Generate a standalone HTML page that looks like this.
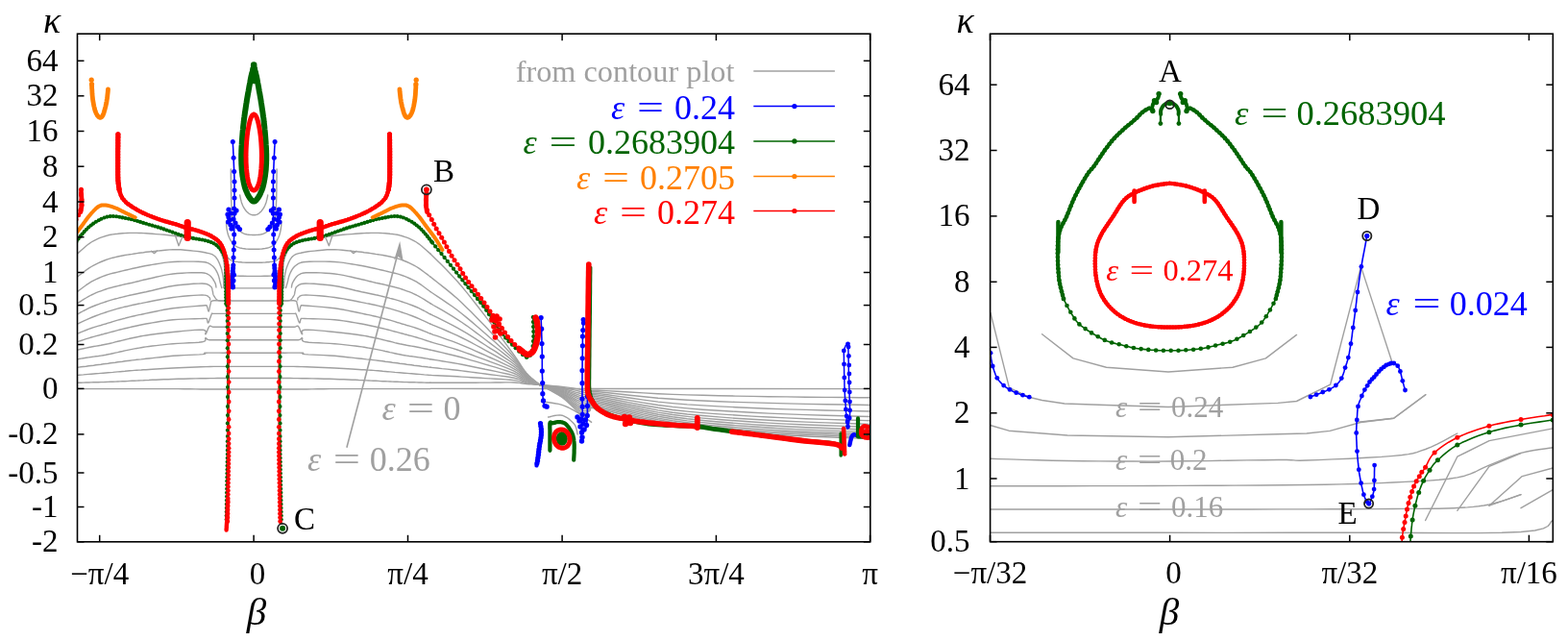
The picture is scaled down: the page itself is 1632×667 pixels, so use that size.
<!DOCTYPE html>
<html><head><meta charset="utf-8"><style>
html,body{margin:0;padding:0;background:#fff;overflow:hidden;}
svg{display:block;font-family:"Liberation Serif", "DejaVu Serif", serif;}
</style></head><body>
<svg width="1632" height="667" viewBox="0 0 1632 667">
<rect width="1632" height="667" fill="#fff"/>
<defs><clipPath id="cl"><rect x="80.5" y="35.2" width="825.3" height="528.6"/></clipPath>
<clipPath id="cr"><rect x="1030.6" y="35.2" width="585.7" height="528.5"/></clipPath></defs>
<g clip-path="url(#cl)">
<polyline points="447.9,404.6 446.3,404.6 444.2,404.6 441.6,404.6 438.8,404.6 436.0,404.6 433.4,404.6 430.9,404.6 428.4,404.6 425.9,404.6 423.4,404.6 420.9,404.6 418.4,404.6 415.9,404.6 413.4,404.6 410.9,404.6 408.4,404.6 405.9,404.6 403.4,404.6 400.9,404.6 398.4,404.6 395.9,404.6 393.4,404.6 390.9,404.6 388.4,404.6 386.0,404.6 383.8,404.6 381.5,404.6 379.1,404.6 376.5,404.6 373.4,404.6 369.9,404.6 366.1,404.6 362.1,404.6 357.8,404.6 353.2,404.6 348.4,404.6 343.1,404.6 337.2,404.7 331.0,404.8 324.9,404.9 319.2,405.0 314.2,405.0 309.8,405.0 305.7,405.0 302.1,405.0 298.9,405.0 296.2,405.0 294.2,405.0" fill="none" stroke="#a0a0a0" stroke-width="1.4" stroke-linejoin="round" stroke-linecap="round"/>
<polyline points="80.5,404.6 82.1,404.6 84.2,404.6 86.8,404.6 89.6,404.6 92.4,404.6 95.0,404.6 97.5,404.6 100.0,404.6 102.5,404.6 105.0,404.6 107.5,404.6 110.0,404.6 112.5,404.6 115.0,404.6 117.5,404.6 120.0,404.6 122.5,404.6 125.0,404.6 127.5,404.6 130.0,404.6 132.5,404.6 135.0,404.6 137.5,404.6 140.0,404.6 142.4,404.6 144.6,404.6 146.9,404.6 149.3,404.6 151.9,404.6 155.0,404.6 158.5,404.6 162.3,404.6 166.3,404.6 170.6,404.6 175.2,404.6 180.0,404.6 185.3,404.6 191.2,404.7 197.4,404.8 203.5,404.9 209.2,405.0 214.2,405.0 218.6,405.0 222.7,405.0 226.3,405.0 229.5,405.0 232.2,405.0 234.2,405.0" fill="none" stroke="#a0a0a0" stroke-width="1.4" stroke-linejoin="round" stroke-linecap="round"/>
<polyline points="447.9,398.3 446.3,398.3 444.2,398.2 441.6,398.1 438.8,398.0 436.0,398.0 433.4,397.9 430.9,397.8 428.4,397.8 425.9,397.7 423.4,397.6 420.9,397.6 418.4,397.5 415.9,397.4 413.4,397.3 410.9,397.2 408.4,397.1 405.9,397.0 403.4,396.9 400.9,396.8 398.4,396.7 395.9,396.6 393.4,396.4 390.9,396.3 388.4,396.2 386.0,396.1 383.8,396.0 381.5,395.9 379.1,395.8 376.5,395.6 373.4,395.5 369.9,395.3 366.1,395.2 362.1,395.0 357.8,394.8 353.2,394.7 348.4,394.5 343.1,394.3 337.2,394.2 331.0,394.0 324.9,393.9 319.2,393.8 314.2,393.7 309.8,393.6 305.7,393.6 302.1,393.5 298.9,393.5 296.2,393.5 294.2,393.5" fill="none" stroke="#a0a0a0" stroke-width="1.4" stroke-linejoin="round" stroke-linecap="round"/>
<polyline points="80.5,398.3 82.1,398.3 84.2,398.2 86.8,398.1 89.6,398.0 92.4,398.0 95.0,397.9 97.5,397.8 100.0,397.8 102.5,397.7 105.0,397.6 107.5,397.6 110.0,397.5 112.5,397.4 115.0,397.3 117.5,397.2 120.0,397.1 122.5,397.0 125.0,396.9 127.5,396.8 130.0,396.7 132.5,396.6 135.0,396.4 137.5,396.3 140.0,396.2 142.4,396.1 144.6,396.0 146.9,395.9 149.3,395.8 151.9,395.6 155.0,395.5 158.5,395.3 162.3,395.2 166.3,395.0 170.6,394.8 175.2,394.7 180.0,394.5 185.3,394.3 191.2,394.2 197.4,394.0 203.5,393.9 209.2,393.8 214.2,393.7 218.6,393.6 222.7,393.6 226.3,393.5 229.5,393.5 232.2,393.5 234.2,393.5" fill="none" stroke="#a0a0a0" stroke-width="1.4" stroke-linejoin="round" stroke-linecap="round"/>
<polyline points="447.9,390.4 446.3,390.3 444.2,390.1 441.6,389.9 438.8,389.6 436.0,389.4 433.4,389.2 430.9,389.0 428.4,388.8 425.9,388.6 423.4,388.4 420.9,388.2 418.4,388.0 415.9,387.8 413.4,387.6 410.9,387.4 408.4,387.1 405.9,386.9 403.4,386.7 400.9,386.5 398.4,386.3 395.9,386.0 393.4,385.8 390.9,385.6 388.4,385.4 386.0,385.2 383.8,385.1 381.5,385.0 379.1,384.8 376.5,384.7 373.4,384.5 369.9,384.3 366.1,384.0 362.1,383.8 357.8,383.5 353.2,383.3 348.4,383.0 343.1,382.7 337.2,382.5 331.0,382.2 324.9,382.0 319.2,381.8 314.2,381.6 309.8,381.5 305.7,381.4 302.1,381.4 298.9,381.4 296.2,381.4 294.2,381.4" fill="none" stroke="#a0a0a0" stroke-width="1.4" stroke-linejoin="round" stroke-linecap="round"/>
<polyline points="80.5,390.4 82.1,390.3 84.2,390.1 86.8,389.9 89.6,389.6 92.4,389.4 95.0,389.2 97.5,389.0 100.0,388.8 102.5,388.6 105.0,388.4 107.5,388.2 110.0,388.0 112.5,387.8 115.0,387.6 117.5,387.4 120.0,387.1 122.5,386.9 125.0,386.7 127.5,386.5 130.0,386.3 132.5,386.0 135.0,385.8 137.5,385.6 140.0,385.4 142.4,385.2 144.6,385.1 146.9,385.0 149.3,384.8 151.9,384.7 155.0,384.5 158.5,384.3 162.3,384.0 166.3,383.8 170.6,383.5 175.2,383.3 180.0,383.0 185.3,382.7 191.2,382.5 197.4,382.2 203.5,382.0 209.2,381.8 214.2,381.6 218.6,381.5 222.7,381.4 226.3,381.4 229.5,381.4 232.2,381.4 234.2,381.4" fill="none" stroke="#a0a0a0" stroke-width="1.4" stroke-linejoin="round" stroke-linecap="round"/>
<polyline points="447.9,382.3 446.3,382.1 444.2,381.8 441.6,381.5 438.8,381.2 436.0,380.8 433.4,380.5 430.9,380.2 428.4,379.8 425.9,379.5 423.4,379.2 420.9,378.8 418.4,378.5 415.9,378.2 413.4,377.8 410.9,377.5 408.4,377.2 405.9,376.8 403.4,376.5 400.9,376.2 398.4,375.8 395.9,375.5 393.4,375.2 390.9,374.9 388.4,374.6 386.0,374.3 383.8,374.1 381.5,373.9 379.1,373.6 376.5,373.3 373.4,373.0 369.9,372.6 366.0,372.1 361.9,371.7 357.6,371.2 353.0,370.7 348.4,370.3 343.2,370.0 337.4,369.6 331.4,369.4 325.7,369.1 320.8,368.9 317.2,368.6 315.3,368.3 314.8,368.1 315.2,367.8 315.6,367.6 315.6,367.3 314.5,367.2 311.9,367.1 308.3,367.1 304.2,367.1 300.1,367.1 296.6,367.2 294.2,367.2" fill="none" stroke="#a0a0a0" stroke-width="1.4" stroke-linejoin="round" stroke-linecap="round"/>
<polyline points="80.5,382.3 82.1,382.1 84.2,381.8 86.8,381.5 89.6,381.2 92.4,380.8 95.0,380.5 97.5,380.2 100.0,379.8 102.5,379.5 105.0,379.2 107.5,378.8 110.0,378.5 112.5,378.2 115.0,377.8 117.5,377.5 120.0,377.2 122.5,376.8 125.0,376.5 127.5,376.2 130.0,375.8 132.5,375.5 135.0,375.2 137.5,374.9 140.0,374.6 142.4,374.3 144.6,374.1 146.9,373.9 149.3,373.6 151.9,373.3 155.0,373.0 158.5,372.6 162.4,372.1 166.5,371.7 170.8,371.2 175.4,370.7 180.0,370.3 185.2,370.0 191.0,369.6 197.0,369.4 202.7,369.1 207.6,368.9 211.2,368.6 213.1,368.3 213.6,368.1 213.2,367.8 212.8,367.6 212.8,367.3 213.9,367.2 216.5,367.1 220.1,367.1 224.2,367.1 228.3,367.1 231.8,367.2 234.2,367.2" fill="none" stroke="#a0a0a0" stroke-width="1.4" stroke-linejoin="round" stroke-linecap="round"/>
<polyline points="447.9,373.7 446.3,373.5 444.2,373.1 441.6,372.7 438.8,372.3 436.0,371.9 433.4,371.5 430.9,371.1 428.4,370.8 425.9,370.5 423.4,370.1 420.9,369.7 418.4,369.3 415.9,368.8 413.4,368.3 410.9,367.7 408.4,367.1 405.9,366.6 403.4,366.0 400.9,365.5 398.4,364.9 395.9,364.4 393.4,363.9 390.9,363.4 388.4,362.9 386.0,362.5 383.8,362.1 381.5,361.7 379.1,361.3 376.5,360.9 373.4,360.5 369.9,360.0 366.0,359.6 361.9,359.1 357.5,358.6 353.0,358.1 348.4,357.7 343.3,357.4 337.6,357.1 331.7,356.8 326.2,356.6 321.4,356.2 317.8,355.8 315.7,355.2 314.7,354.4 314.5,353.5 314.6,352.7 314.8,352.1 314.5,351.7 314.0,351.7 313.7,352.0 313.3,352.4 312.8,353.0 311.9,353.4 310.5,353.7 308.3,353.8 305.4,353.8 302.1,353.8 298.9,353.8 296.1,353.7 294.2,353.7" fill="none" stroke="#a0a0a0" stroke-width="1.4" stroke-linejoin="round" stroke-linecap="round"/>
<polyline points="80.5,373.7 82.1,373.5 84.2,373.1 86.8,372.7 89.6,372.3 92.4,371.9 95.0,371.5 97.5,371.1 100.0,370.8 102.5,370.5 105.0,370.1 107.5,369.7 110.0,369.3 112.5,368.8 115.0,368.3 117.5,367.7 120.0,367.1 122.5,366.6 125.0,366.0 127.5,365.5 130.0,364.9 132.5,364.4 135.0,363.9 137.5,363.4 140.0,362.9 142.4,362.5 144.6,362.1 146.9,361.7 149.3,361.3 151.9,360.9 155.0,360.5 158.5,360.0 162.4,359.6 166.5,359.1 170.9,358.6 175.4,358.1 180.0,357.7 185.1,357.4 190.8,357.1 196.7,356.8 202.2,356.6 207.0,356.2 210.6,355.8 212.7,355.2 213.7,354.4 213.9,353.5 213.8,352.7 213.6,352.1 213.9,351.7 214.4,351.7 214.7,352.0 215.1,352.4 215.6,353.0 216.5,353.4 217.9,353.7 220.1,353.8 223.0,353.8 226.3,353.8 229.5,353.8 232.3,353.7 234.2,353.7" fill="none" stroke="#a0a0a0" stroke-width="1.4" stroke-linejoin="round" stroke-linecap="round"/>
<polyline points="447.9,364.1 446.3,363.8 444.2,363.3 441.6,362.7 438.8,362.1 436.0,361.5 433.4,361.0 430.9,360.5 428.4,360.1 425.9,359.7 423.4,359.3 420.9,358.8 418.4,358.3 415.9,357.8 413.4,357.2 410.9,356.6 408.4,355.9 405.9,355.3 403.4,354.7 400.9,354.1 398.4,353.5 395.9,352.9 393.4,352.3 390.9,351.7 388.4,351.2 386.0,350.7 383.8,350.3 381.5,349.8 379.1,349.4 376.5,349.0 373.4,348.5 369.9,348.0 366.0,347.5 361.9,347.0 357.6,346.5 353.0,346.0 348.4,345.5 343.2,345.0 337.4,344.4 331.4,343.9 325.7,343.4 320.8,343.2 317.2,343.2 315.1,343.7 314.2,344.7 314.2,345.8 314.4,346.9 314.7,347.6 314.5,347.7 313.9,347.0 313.3,345.6 312.6,343.9 311.9,342.1 311.2,340.6 310.5,339.6 309.9,339.2 309.4,339.2 308.9,339.4 308.2,339.7 307.4,340.0 306.2,340.2 304.5,340.2 302.3,340.2 299.9,340.2 297.6,340.2 295.6,340.2 294.2,340.2" fill="none" stroke="#a0a0a0" stroke-width="1.4" stroke-linejoin="round" stroke-linecap="round"/>
<polyline points="80.5,364.1 82.1,363.8 84.2,363.3 86.8,362.7 89.6,362.1 92.4,361.5 95.0,361.0 97.5,360.5 100.0,360.1 102.5,359.7 105.0,359.3 107.5,358.8 110.0,358.3 112.5,357.8 115.0,357.2 117.5,356.6 120.0,355.9 122.5,355.3 125.0,354.7 127.5,354.1 130.0,353.5 132.5,352.9 135.0,352.3 137.5,351.7 140.0,351.2 142.4,350.7 144.6,350.3 146.9,349.8 149.3,349.4 151.9,349.0 155.0,348.5 158.5,348.0 162.4,347.5 166.5,347.0 170.8,346.5 175.4,346.0 180.0,345.5 185.2,345.0 191.0,344.4 197.0,343.9 202.7,343.4 207.6,343.2 211.2,343.2 213.3,343.7 214.2,344.7 214.2,345.8 214.0,346.9 213.7,347.6 213.9,347.7 214.5,347.0 215.1,345.6 215.8,343.9 216.5,342.1 217.2,340.6 217.9,339.6 218.5,339.2 219.0,339.2 219.5,339.4 220.2,339.7 221.0,340.0 222.2,340.2 223.9,340.2 226.1,340.2 228.5,340.2 230.8,340.2 232.8,340.2 234.2,340.2" fill="none" stroke="#a0a0a0" stroke-width="1.4" stroke-linejoin="round" stroke-linecap="round"/>
<polyline points="447.9,355.7 446.3,355.2 444.2,354.5 441.6,353.6 438.8,352.7 436.0,351.8 433.4,351.0 430.9,350.3 428.4,349.6 425.9,349.0 423.4,348.3 420.9,347.7 418.4,347.0 415.9,346.3 413.4,345.6 410.9,345.0 408.4,344.3 405.9,343.6 403.4,343.0 400.9,342.4 398.4,341.8 395.9,341.2 393.4,340.6 390.9,340.0 388.4,339.5 386.0,339.0 383.8,338.5 381.5,338.0 379.1,337.5 376.5,337.0 373.4,336.5 369.9,335.9 366.0,335.2 361.9,334.5 357.6,333.9 353.0,333.3 348.4,332.8 343.2,332.4 337.5,332.1 331.5,331.9 325.8,331.7 320.9,331.6 317.2,331.5 314.9,331.4 313.8,331.4 313.3,331.4 313.3,331.5 313.4,331.7 313.2,332.0 312.8,332.6 312.6,333.6 312.4,334.6 312.3,335.5 312.0,336.0 311.7,336.0 311.2,335.2 310.6,333.7 310.0,331.8 309.3,329.9 308.7,328.2 308.2,327.0 307.9,326.4 307.8,326.2 307.7,326.1 307.6,326.2 307.1,326.4 306.2,326.4 304.6,326.4 302.5,326.4 300.1,326.4 297.7,326.4 295.6,326.4 294.2,326.4" fill="none" stroke="#a0a0a0" stroke-width="1.4" stroke-linejoin="round" stroke-linecap="round"/>
<polyline points="80.5,355.7 82.1,355.2 84.2,354.5 86.8,353.6 89.6,352.7 92.4,351.8 95.0,351.0 97.5,350.3 100.0,349.6 102.5,349.0 105.0,348.3 107.5,347.7 110.0,347.0 112.5,346.3 115.0,345.6 117.5,345.0 120.0,344.3 122.5,343.6 125.0,343.0 127.5,342.4 130.0,341.8 132.5,341.2 135.0,340.6 137.5,340.0 140.0,339.5 142.4,339.0 144.6,338.5 146.9,338.0 149.3,337.5 151.9,337.0 155.0,336.5 158.5,335.9 162.4,335.2 166.5,334.5 170.8,333.9 175.4,333.3 180.0,332.8 185.2,332.4 190.9,332.1 196.9,331.9 202.6,331.7 207.5,331.6 211.2,331.5 213.5,331.4 214.6,331.4 215.1,331.4 215.1,331.5 215.0,331.7 215.2,332.0 215.6,332.6 215.8,333.6 216.0,334.6 216.1,335.5 216.4,336.0 216.7,336.0 217.2,335.2 217.8,333.7 218.4,331.8 219.1,329.9 219.7,328.2 220.2,327.0 220.5,326.4 220.6,326.2 220.7,326.1 220.8,326.2 221.3,326.4 222.2,326.4 223.8,326.4 225.9,326.4 228.3,326.4 230.7,326.4 232.8,326.4 234.2,326.4" fill="none" stroke="#a0a0a0" stroke-width="1.4" stroke-linejoin="round" stroke-linecap="round"/>
<polyline points="447.9,347.2 446.3,346.6 444.2,345.7 441.6,344.6 438.8,343.5 436.0,342.4 433.4,341.5 430.9,340.7 428.4,339.9 425.9,339.2 423.4,338.5 420.9,337.7 418.4,337.0 415.9,336.2 413.4,335.5 410.9,334.7 408.4,333.9 405.9,333.2 403.4,332.5 400.9,331.8 398.4,331.2 395.9,330.5 393.4,329.9 390.9,329.3 388.4,328.7 386.0,328.1 383.8,327.6 381.5,327.2 379.1,326.7 376.5,326.1 373.4,325.5 369.9,324.8 366.0,324.0 361.9,323.1 357.6,322.3 353.0,321.5 348.4,320.8 343.2,320.2 337.5,319.6 331.5,319.1 325.8,318.6 320.9,318.3 317.2,318.0 314.9,317.8 313.8,317.7 313.4,317.6 313.4,317.7 313.4,317.9 313.2,318.3 312.8,319.1 312.4,320.3 312.1,321.7 311.8,322.9 311.5,323.8 311.2,324.0 310.9,323.4 310.5,322.2 310.2,320.5 309.9,318.8 309.5,317.2 309.2,316.0 309.0,315.2 308.9,314.5 308.9,314.0 308.7,313.6 308.2,313.3 307.2,313.0 305.5,312.8 303.2,312.8 300.6,312.8 298.0,312.9 295.7,313.0 294.2,313.0" fill="none" stroke="#a0a0a0" stroke-width="1.4" stroke-linejoin="round" stroke-linecap="round"/>
<polyline points="80.5,347.2 82.1,346.6 84.2,345.7 86.8,344.6 89.6,343.5 92.4,342.4 95.0,341.5 97.5,340.7 100.0,339.9 102.5,339.2 105.0,338.5 107.5,337.7 110.0,337.0 112.5,336.2 115.0,335.5 117.5,334.7 120.0,333.9 122.5,333.2 125.0,332.5 127.5,331.8 130.0,331.2 132.5,330.5 135.0,329.9 137.5,329.3 140.0,328.7 142.4,328.1 144.6,327.6 146.9,327.2 149.3,326.7 151.9,326.1 155.0,325.5 158.5,324.8 162.4,324.0 166.5,323.1 170.8,322.3 175.4,321.5 180.0,320.8 185.2,320.2 190.9,319.6 196.9,319.1 202.6,318.6 207.5,318.3 211.2,318.0 213.5,317.8 214.6,317.7 215.0,317.6 215.0,317.7 215.0,317.9 215.2,318.3 215.6,319.1 216.0,320.3 216.3,321.7 216.6,322.9 216.9,323.8 217.2,324.0 217.5,323.4 217.9,322.2 218.2,320.5 218.5,318.8 218.9,317.2 219.2,316.0 219.4,315.2 219.5,314.5 219.5,314.0 219.7,313.6 220.2,313.3 221.2,313.0 222.9,312.8 225.2,312.8 227.8,312.8 230.4,312.9 232.7,313.0 234.2,313.0" fill="none" stroke="#a0a0a0" stroke-width="1.4" stroke-linejoin="round" stroke-linecap="round"/>
<polyline points="447.9,337.1 446.3,336.4 444.2,335.3 441.6,334.1 438.8,332.9 436.0,331.6 433.4,330.5 430.9,329.5 428.4,328.5 425.9,327.6 423.4,326.7 420.9,325.8 418.4,325.0 415.9,324.2 413.4,323.4 410.9,322.6 408.4,321.9 405.9,321.2 403.4,320.5 400.9,319.9 398.4,319.2 395.9,318.7 393.4,318.1 390.9,317.5 388.4,317.0 386.0,316.5 383.8,316.0 381.5,315.6 379.1,315.1 376.5,314.6 373.4,314.0 369.9,313.3 366.0,312.5 361.8,311.7 357.5,310.9 353.0,310.2 348.4,309.5 343.4,308.9 337.9,308.3 332.2,307.8 326.8,307.4 322.0,307.1 318.2,307.0 315.6,307.1 313.8,307.4 312.7,307.8 312.0,308.2 311.5,308.7 310.9,309.2 310.3,309.7 310.0,310.2 309.8,310.7 309.8,311.3 309.8,311.7 309.7,312.0" fill="none" stroke="#a0a0a0" stroke-width="1.4" stroke-linejoin="round" stroke-linecap="round"/>
<polyline points="80.5,337.1 82.1,336.4 84.2,335.3 86.8,334.1 89.6,332.9 92.4,331.6 95.0,330.5 97.5,329.5 100.0,328.5 102.5,327.6 105.0,326.7 107.5,325.8 110.0,325.0 112.5,324.2 115.0,323.4 117.5,322.6 120.0,321.9 122.5,321.2 125.0,320.5 127.5,319.9 130.0,319.2 132.5,318.7 135.0,318.1 137.5,317.5 140.0,317.0 142.4,316.5 144.6,316.0 146.9,315.6 149.3,315.1 151.9,314.6 155.0,314.0 158.5,313.3 162.4,312.5 166.6,311.7 170.9,310.9 175.4,310.2 180.0,309.5 185.0,308.9 190.5,308.3 196.2,307.8 201.6,307.4 206.4,307.1 210.2,307.0 212.8,307.1 214.6,307.4 215.7,307.8 216.4,308.2 216.9,308.7 217.5,309.2 218.1,309.7 218.4,310.2 218.6,310.7 218.6,311.3 218.6,311.7 218.7,312.0" fill="none" stroke="#a0a0a0" stroke-width="1.4" stroke-linejoin="round" stroke-linecap="round"/>
<polyline points="447.9,326.9 446.3,326.1 444.2,324.9 441.6,323.5 438.8,322.1 436.0,320.7 433.4,319.5 430.9,318.5 428.4,317.5 425.9,316.6 423.4,315.7 420.9,314.8 418.4,314.0 415.9,313.2 413.4,312.4 410.9,311.7 408.4,311.0 405.9,310.4 403.4,309.7 400.9,309.1 398.4,308.5 395.9,307.9 393.4,307.3 390.9,306.8 388.4,306.2 386.0,305.7 383.8,305.2 381.5,304.7 379.1,304.2 376.5,303.7 373.4,303.0 369.9,302.2 366.0,301.2 361.8,300.2 357.5,299.2 353.0,298.3 348.4,297.5 343.4,296.8 337.9,296.2 332.3,295.7 326.9,295.3 322.1,295.1 318.2,295.0 315.4,295.2 313.4,295.5 311.9,296.1 310.9,296.7 310.0,297.3 309.2,298.0 308.4,298.7 308.0,299.4 307.7,300.2 307.5,300.9 307.4,301.7 307.2,302.5 307.0,303.2 306.9,304.0 306.8,304.7 306.7,305.4 306.5,306.2 306.2,307.0 305.7,307.9 305.1,308.9 304.5,309.9 303.7,310.9 302.9,311.8 301.9,312.4 300.7,312.8 299.3,313.0 297.8,313.0 296.3,313.0 295.1,313.0 294.2,313.0" fill="none" stroke="#a0a0a0" stroke-width="1.4" stroke-linejoin="round" stroke-linecap="round"/>
<polyline points="80.5,326.9 82.1,326.1 84.2,324.9 86.8,323.5 89.6,322.1 92.4,320.7 95.0,319.5 97.5,318.5 100.0,317.5 102.5,316.6 105.0,315.7 107.5,314.8 110.0,314.0 112.5,313.2 115.0,312.4 117.5,311.7 120.0,311.0 122.5,310.4 125.0,309.7 127.5,309.1 130.0,308.5 132.5,307.9 135.0,307.3 137.5,306.8 140.0,306.2 142.4,305.7 144.6,305.2 146.9,304.7 149.3,304.2 151.9,303.7 155.0,303.0 158.5,302.2 162.4,301.2 166.6,300.2 170.9,299.2 175.4,298.3 180.0,297.5 185.0,296.8 190.5,296.2 196.1,295.7 201.5,295.3 206.3,295.1 210.2,295.0 213.0,295.2 215.0,295.5 216.5,296.1 217.5,296.7 218.4,297.3 219.2,298.0 220.0,298.7 220.4,299.4 220.7,300.2 220.9,300.9 221.0,301.7 221.2,302.5 221.4,303.2 221.5,304.0 221.6,304.7 221.7,305.4 221.9,306.2 222.2,307.0 222.7,307.9 223.3,308.9 223.9,309.9 224.7,310.9 225.5,311.8 226.5,312.4 227.7,312.8 229.1,313.0 230.6,313.0 232.1,313.0 233.3,313.0 234.2,313.0" fill="none" stroke="#a0a0a0" stroke-width="1.4" stroke-linejoin="round" stroke-linecap="round"/>
<polyline points="447.9,315.7 446.3,314.7 444.2,313.3 441.6,311.7 438.8,310.0 436.0,308.4 433.4,307.0 430.9,305.8 428.4,304.7 425.9,303.7 423.4,302.8 420.9,301.9 418.4,301.0 415.9,300.2 413.4,299.5 410.9,298.8 408.4,298.2 405.9,297.6 403.4,297.0 400.9,296.4 398.4,295.8 395.9,295.3 393.4,294.7 390.9,294.2 388.4,293.6 386.0,293.0 383.8,292.5 381.5,291.9 379.1,291.3 376.5,290.7 373.4,290.0 369.8,289.2 365.9,288.3 361.7,287.4 357.3,286.4 352.8,285.6 348.4,285.0 343.8,284.5 338.9,284.2 333.9,283.9 329.1,283.7 324.8,283.7 321.2,283.7 318.5,283.8 316.4,284.0 314.7,284.3 313.4,284.7 312.2,285.3 310.9,286.0 309.6,287.0 308.4,288.2 307.3,289.6 306.4,291.0 305.6,292.3 304.9,293.5 304.4,294.6 304.0,295.7 303.8,296.7 303.6,297.6 303.5,298.4 303.4,299.0" fill="none" stroke="#a0a0a0" stroke-width="1.4" stroke-linejoin="round" stroke-linecap="round"/>
<polyline points="80.5,315.7 82.1,314.7 84.2,313.3 86.8,311.7 89.6,310.0 92.4,308.4 95.0,307.0 97.5,305.8 100.0,304.7 102.5,303.7 105.0,302.8 107.5,301.9 110.0,301.0 112.5,300.2 115.0,299.5 117.5,298.8 120.0,298.2 122.5,297.6 125.0,297.0 127.5,296.4 130.0,295.8 132.5,295.3 135.0,294.7 137.5,294.2 140.0,293.6 142.4,293.0 144.6,292.5 146.9,291.9 149.3,291.3 151.9,290.7 155.0,290.0 158.6,289.2 162.5,288.3 166.7,287.4 171.1,286.4 175.6,285.6 180.0,285.0 184.6,284.5 189.5,284.2 194.5,283.9 199.3,283.7 203.6,283.7 207.2,283.7 209.9,283.8 212.0,284.0 213.7,284.3 215.0,284.7 216.2,285.3 217.5,286.0 218.8,287.0 220.0,288.2 221.1,289.6 222.0,291.0 222.8,292.3 223.5,293.5 224.0,294.6 224.4,295.7 224.6,296.7 224.8,297.6 224.9,298.4 225.0,299.0" fill="none" stroke="#a0a0a0" stroke-width="1.4" stroke-linejoin="round" stroke-linecap="round"/>
<polyline points="447.9,303.5 446.3,302.3 444.2,300.7 441.6,298.8 438.8,296.7 436.0,294.8 433.4,293.2 430.9,291.8 428.4,290.6 425.9,289.5 423.4,288.4 420.9,287.4 418.4,286.5 415.9,285.7 413.4,284.9 410.9,284.3 408.4,283.7 405.9,283.1 403.4,282.5 400.9,281.9 398.4,281.3 395.9,280.7 393.4,280.1 390.9,279.5 388.4,279.0 386.0,278.5 383.8,278.0 381.5,277.5 379.1,277.0 376.5,276.5 373.4,276.0 369.9,275.4 366.0,274.7 361.8,274.1 357.5,273.4 353.0,272.9 348.4,272.5 343.4,272.3 338.0,272.1 332.4,272.1 327.0,272.1 322.1,272.2 318.2,272.5 315.3,272.8 313.1,273.3 311.5,273.8 310.3,274.5 309.1,275.3 307.9,276.2 306.6,277.3 305.5,278.5 304.4,279.9 303.5,281.4 302.7,282.9 301.9,284.5 301.2,286.2 300.6,288.1 300.1,290.0 299.7,291.9 299.3,293.6 298.9,295.0 298.6,296.1 298.3,297.1 298.1,297.9 297.9,298.6 297.7,299.1 297.6,299.5" fill="none" stroke="#a0a0a0" stroke-width="1.4" stroke-linejoin="round" stroke-linecap="round"/>
<polyline points="80.5,303.5 82.1,302.3 84.2,300.7 86.8,298.8 89.6,296.7 92.4,294.8 95.0,293.2 97.5,291.8 100.0,290.6 102.5,289.5 105.0,288.4 107.5,287.4 110.0,286.5 112.5,285.7 115.0,284.9 117.5,284.3 120.0,283.7 122.5,283.1 125.0,282.5 127.5,281.9 130.0,281.3 132.5,280.7 135.0,280.1 137.5,279.5 140.0,279.0 142.4,278.5 144.6,278.0 146.9,277.5 149.3,277.0 151.9,276.5 155.0,276.0 158.5,275.4 162.4,274.7 166.6,274.1 170.9,273.4 175.4,272.9 180.0,272.5 185.0,272.3 190.4,272.1 196.0,272.1 201.4,272.1 206.3,272.2 210.2,272.5 213.1,272.8 215.3,273.3 216.9,273.8 218.1,274.5 219.3,275.3 220.5,276.2 221.8,277.3 222.9,278.5 224.0,279.9 224.9,281.4 225.7,282.9 226.5,284.5 227.2,286.2 227.8,288.1 228.3,290.0 228.7,291.9 229.1,293.6 229.5,295.0 229.8,296.1 230.1,297.1 230.3,297.9 230.5,298.6 230.7,299.1 230.8,299.5" fill="none" stroke="#a0a0a0" stroke-width="1.4" stroke-linejoin="round" stroke-linecap="round"/>
<polyline points="447.9,288.0 446.3,286.8 444.2,285.1 441.6,283.2 438.8,281.1 436.0,279.2 433.4,277.5 430.9,276.1 428.4,274.8 425.9,273.6 423.4,272.5 420.9,271.5 418.4,270.5 415.9,269.6 413.4,268.9 410.9,268.2 408.4,267.6 405.9,267.0 403.4,266.5 400.9,266.0 398.4,265.5 395.9,265.1 393.4,264.7 390.9,264.4 388.4,264.0 386.0,263.6 383.8,263.3 381.5,263.0 379.1,262.7 376.5,262.3 373.4,262.0 369.7,261.6 365.4,261.1 360.9,260.7 356.4,260.2 352.1,259.9 348.4,259.7 345.3,259.6 342.7,259.7 340.4,259.8 338.1,260.0 335.8,260.2 333.2,260.5 330.3,260.8 327.1,261.1 323.9,261.4 320.7,261.8 317.8,262.2 315.2,262.7 313.0,263.2 311.0,263.6 309.3,264.1 307.7,264.7 306.3,265.5 304.9,266.5 303.6,267.8 302.5,269.4 301.4,271.2 300.5,273.1 299.7,275.1 298.9,277.0 298.2,278.9 297.6,280.9 297.2,283.0 296.7,285.1 296.4,287.1 296.1,289.0 295.9,291.0 295.7,293.0 295.7,295.0 295.6,296.8 295.6,298.4 295.6,299.5" fill="none" stroke="#a0a0a0" stroke-width="1.4" stroke-linejoin="round" stroke-linecap="round"/>
<polyline points="80.5,288.0 82.1,286.8 84.2,285.1 86.8,283.2 89.6,281.1 92.4,279.2 95.0,277.5 97.5,276.1 100.0,274.8 102.5,273.6 105.0,272.5 107.5,271.5 110.0,270.5 112.5,269.6 115.0,268.9 117.5,268.2 120.0,267.6 122.5,267.0 125.0,266.5 127.5,266.0 130.0,265.5 132.5,265.1 135.0,264.7 137.5,264.4 140.0,264.0 142.4,263.6 144.6,263.3 146.9,263.0 149.3,262.7 151.9,262.3 155.0,262.0 158.7,261.6 163.0,261.1 167.5,260.7 172.0,260.2 176.3,259.9 180.0,259.7 183.1,259.6 185.7,259.7 188.0,259.8 190.3,260.0 192.6,260.2 195.2,260.5 198.1,260.8 201.3,261.1 204.5,261.4 207.7,261.8 210.6,262.2 213.2,262.7 215.4,263.2 217.4,263.6 219.1,264.1 220.7,264.7 222.1,265.5 223.5,266.5 224.8,267.8 225.9,269.4 227.0,271.2 227.9,273.1 228.7,275.1 229.5,277.0 230.2,278.9 230.8,280.9 231.2,283.0 231.7,285.1 232.0,287.1 232.3,289.0 232.5,291.0 232.7,293.0 232.7,295.0 232.8,296.8 232.8,298.4 232.8,299.5" fill="none" stroke="#a0a0a0" stroke-width="1.4" stroke-linejoin="round" stroke-linecap="round"/>
<polyline points="447.9,264.0 446.3,262.6 444.2,260.7 441.6,258.4 438.8,256.0 436.0,253.8 433.4,252.0 430.9,250.6 428.4,249.3 425.9,248.2 423.4,247.2 420.9,246.3 418.4,245.5 415.9,244.8 413.4,244.3 410.9,243.9 408.4,243.5 405.9,243.3 403.4,243.0 400.9,242.8 398.4,242.6 395.9,242.5 393.4,242.4 390.9,242.4 388.4,242.4 386.0,242.4 383.8,242.5 381.5,242.5 379.1,242.6 376.5,242.8 373.4,243.0 369.8,243.3 365.8,243.6 361.6,243.9 357.1,244.3 352.7,244.7 348.4,245.2 344.1,245.7 339.5,246.3 335.0,247.0 330.6,247.6 326.5,248.3 322.9,249.0 319.7,249.7 316.8,250.4 314.3,251.1 312.0,251.9 309.8,252.7 307.9,253.5 306.2,254.4 304.7,255.2 303.5,256.1 302.4,257.1 301.4,258.2 300.4,259.5 299.4,261.0 298.6,262.6 297.8,264.4 297.1,266.2 296.4,268.1 295.9,270.0 295.5,271.9 295.2,273.7 295.0,275.6 294.8,277.6 294.7,279.7 294.6,282.0 294.5,284.7 294.4,287.9 294.4,291.2 294.4,294.4 294.4,297.1 294.4,299.0" fill="none" stroke="#a0a0a0" stroke-width="1.4" stroke-linejoin="round" stroke-linecap="round"/>
<polyline points="80.5,264.0 82.1,262.6 84.2,260.7 86.8,258.4 89.6,256.0 92.4,253.8 95.0,252.0 97.5,250.6 100.0,249.3 102.5,248.2 105.0,247.2 107.5,246.3 110.0,245.5 112.5,244.8 115.0,244.3 117.5,243.9 120.0,243.5 122.5,243.3 125.0,243.0 127.5,242.8 130.0,242.6 132.5,242.5 135.0,242.4 137.5,242.4 140.0,242.4 142.4,242.4 144.6,242.5 146.9,242.5 149.3,242.6 151.9,242.8 155.0,243.0 158.6,243.3 162.6,243.6 166.8,243.9 171.3,244.3 175.7,244.7 180.0,245.2 184.3,245.7 188.9,246.3 193.4,247.0 197.8,247.6 201.9,248.3 205.5,249.0 208.7,249.7 211.6,250.4 214.1,251.1 216.4,251.9 218.6,252.7 220.5,253.5 222.2,254.4 223.7,255.2 224.9,256.1 226.0,257.1 227.0,258.2 228.0,259.5 229.0,261.0 229.8,262.6 230.6,264.4 231.3,266.2 232.0,268.1 232.5,270.0 232.9,271.9 233.2,273.7 233.4,275.6 233.6,277.6 233.7,279.7 233.8,282.0 233.9,284.7 234.0,287.9 234.0,291.2 234.0,294.4 234.0,297.1 234.0,299.0" fill="none" stroke="#a0a0a0" stroke-width="1.4" stroke-linejoin="round" stroke-linecap="round"/>
<polyline points="234.2,405.0 294.2,405.0" fill="none" stroke="#a0a0a0" stroke-width="1.4" stroke-linejoin="round" stroke-linecap="round"/>
<polyline points="234.2,393.5 294.2,393.5" fill="none" stroke="#a0a0a0" stroke-width="1.4" stroke-linejoin="round" stroke-linecap="round"/>
<polyline points="234.2,381.4 294.2,381.4" fill="none" stroke="#a0a0a0" stroke-width="1.4" stroke-linejoin="round" stroke-linecap="round"/>
<polyline points="234.2,367.2 294.2,367.2" fill="none" stroke="#a0a0a0" stroke-width="1.4" stroke-linejoin="round" stroke-linecap="round"/>
<polyline points="234.2,353.7 294.2,353.7" fill="none" stroke="#a0a0a0" stroke-width="1.4" stroke-linejoin="round" stroke-linecap="round"/>
<polyline points="234.2,340.2 294.2,340.2" fill="none" stroke="#a0a0a0" stroke-width="1.4" stroke-linejoin="round" stroke-linecap="round"/>
<polyline points="234.2,326.4 294.2,326.4" fill="none" stroke="#a0a0a0" stroke-width="1.4" stroke-linejoin="round" stroke-linecap="round"/>
<polyline points="234.2,313.0 294.2,313.0" fill="none" stroke="#a0a0a0" stroke-width="1.4" stroke-linejoin="round" stroke-linecap="round"/>
<polyline points="234.2,299.9 237.5,299.9 242.0,299.9 247.3,299.9 253.1,299.9 258.9,299.9 264.2,299.9 269.5,299.9 275.3,299.9 281.1,299.9 286.4,299.9 290.9,299.9 294.2,299.9" fill="none" stroke="#a0a0a0" stroke-width="1.4" stroke-linejoin="round" stroke-linecap="round"/>
<polyline points="234.2,283.0 234.5,283.3 234.8,283.7 235.3,284.2 235.8,284.6 236.4,285.1 237.2,285.5 238.0,285.8 238.8,286.1 239.6,286.4 240.8,286.6 242.2,286.8 244.2,287.0 246.8,287.1 249.9,287.2 253.4,287.3 257.1,287.4 260.7,287.4 264.2,287.4 267.7,287.4 271.3,287.4 275.0,287.3 278.5,287.2 281.6,287.1 284.2,287.0 286.2,286.8 287.6,286.6 288.8,286.4 289.6,286.1 290.4,285.8 291.2,285.5 292.0,285.1 292.6,284.6 293.1,284.2 293.6,283.7 293.9,283.3 294.2,283.0" fill="none" stroke="#a0a0a0" stroke-width="1.4" stroke-linejoin="round" stroke-linecap="round"/>
<polyline points="234.7,262.0 234.9,262.7 235.3,263.6 235.6,264.8 236.1,266.0 236.6,267.1 237.2,268.0 237.8,268.8 238.5,269.4 239.2,270.0 240.1,270.6 241.0,271.1 242.2,271.5 243.6,271.9 245.1,272.2 246.8,272.4 248.5,272.7 250.4,272.8 252.2,273.0 254.1,273.1 256.1,273.2 258.1,273.3 260.1,273.3 262.2,273.3 264.2,273.3 266.2,273.3 268.3,273.3 270.3,273.3 272.3,273.2 274.3,273.1 276.2,273.0 278.0,272.8 279.9,272.7 281.6,272.4 283.3,272.2 284.8,271.9 286.2,271.5 287.4,271.1 288.3,270.6 289.2,270.0 289.9,269.4 290.6,268.8 291.2,268.0 291.8,267.1 292.3,266.0 292.8,264.8 293.1,263.6 293.5,262.7 293.7,262.0" fill="none" stroke="#a0a0a0" stroke-width="1.4" stroke-linejoin="round" stroke-linecap="round"/>
<polyline points="235.6,230.0 235.6,230.7 235.6,231.6 235.6,232.6 235.6,233.8 235.7,235.1 235.8,236.3 236.0,237.6 236.2,239.0 236.5,240.4 236.8,241.9 237.2,243.3 237.6,244.7 238.1,246.0 238.6,247.3 239.2,248.5 239.8,249.7 240.5,250.9 241.2,251.9 241.9,252.9 242.7,253.7 243.4,254.6 244.3,255.3 245.2,256.0 246.2,256.6 247.3,257.1 248.6,257.6 249.9,258.0 251.3,258.3 252.7,258.6 254.2,258.8 255.8,259.0 257.4,259.1 259.1,259.2 260.8,259.3 262.5,259.3 264.2,259.3 265.9,259.3 267.6,259.3 269.3,259.2 271.0,259.1 272.6,259.0 274.2,258.8 275.7,258.6 277.1,258.3 278.5,258.0 279.8,257.6 281.1,257.1 282.2,256.6 283.2,256.0 284.1,255.3 285.0,254.6 285.7,253.7 286.5,252.9 287.2,251.9 287.9,250.9 288.6,249.7 289.2,248.5 289.8,247.3 290.3,246.0 290.8,244.7 291.2,243.3 291.6,241.9 291.9,240.4 292.2,239.0 292.4,237.6 292.6,236.3 292.7,235.1 292.8,233.8 292.8,232.6 292.8,231.6 292.8,230.7 292.8,230.0" fill="none" stroke="#a0a0a0" stroke-width="1.4" stroke-linejoin="round" stroke-linecap="round"/>
<polyline points="240.3,176.0 240.3,177.4 240.3,179.2 240.3,181.4 240.3,184.0 240.4,186.9 240.4,190.0 240.5,193.7 240.5,198.0 240.6,202.6 240.7,207.1 240.9,211.4 241.0,215.0 241.1,217.9 241.3,220.4 241.4,222.5 241.6,224.4 241.8,226.2 242.2,228.0 242.7,229.8 243.3,231.5 244.0,233.1 244.8,234.5 245.5,235.8 246.2,237.0 246.8,238.0 247.5,238.7 248.1,239.4 248.7,239.9 249.4,240.5 250.2,241.0 251.1,241.6 252.0,242.1 252.9,242.6 254.0,243.1 255.1,243.5 256.2,243.8 257.4,244.1 258.7,244.2 260.1,244.4 261.5,244.4 262.8,244.5 264.2,244.5 265.6,244.5 266.9,244.4 268.3,244.4 269.7,244.2 271.0,244.1 272.2,243.8 273.3,243.5 274.4,243.1 275.4,242.6 276.4,242.1 277.3,241.6 278.2,241.0 279.0,240.5 279.7,239.9 280.3,239.4 280.9,238.7 281.6,238.0 282.2,237.0 282.9,235.8 283.6,234.5 284.4,233.1 285.1,231.5 285.7,229.8 286.2,228.0 286.6,226.2 286.8,224.4 287.0,222.5 287.1,220.4 287.3,217.9 287.4,215.0 287.5,211.4 287.7,207.1 287.8,202.6 287.9,198.0 287.9,193.7 288.0,190.0 288.0,186.9 288.1,184.0 288.1,181.4 288.1,179.2 288.1,177.4 288.1,176.0" fill="none" stroke="#a0a0a0" stroke-width="1.4" stroke-linejoin="round" stroke-linecap="round"/>
<polyline points="249.7,203.0 249.8,203.5 249.9,204.3 250.1,205.1 250.3,206.1 250.5,207.1 250.7,208.0 251.0,208.9 251.2,209.9 251.5,211.0 251.9,212.0 252.3,213.0 252.7,214.0 253.2,215.0 253.7,216.0 254.3,216.9 254.9,217.8 255.6,218.7 256.2,219.5 256.8,220.2 257.5,220.8 258.2,221.4 258.8,222.0 259.5,222.4 260.2,222.8 260.9,223.1 261.5,223.4 262.2,223.6 262.9,223.7 263.5,223.8 264.2,223.8 264.9,223.8 265.5,223.7 266.2,223.6 266.9,223.4 267.5,223.1 268.2,222.8 268.9,222.4 269.6,222.0 270.2,221.4 270.9,220.8 271.6,220.2 272.2,219.5 272.8,218.7 273.5,217.8 274.1,216.9 274.7,216.0 275.2,215.0 275.7,214.0 276.1,213.0 276.5,212.0 276.9,211.0 277.2,209.9 277.4,208.9 277.7,208.0 277.9,207.1 278.1,206.1 278.3,205.1 278.5,204.3 278.6,203.5 278.7,203.0" fill="none" stroke="#a0a0a0" stroke-width="1.4" stroke-linejoin="round" stroke-linecap="round"/>
<polyline points="447.9,404.4 906.0,404.6" fill="none" stroke="#a0a0a0" stroke-width="1.4" stroke-linejoin="round" stroke-linecap="round"/>
<polyline points="80.5,404.4 -377.6,404.6" fill="none" stroke="#a0a0a0" stroke-width="1.4" stroke-linejoin="round" stroke-linecap="round"/>
<polyline points="447.9,398.3 450.9,398.3 455.2,398.3 460.1,398.3 465.5,398.3 470.9,398.2 476.0,398.2 480.8,398.2 485.6,398.2 490.4,398.2 495.2,398.2 500.1,398.1 505.0,398.1 510.1,398.1 515.6,398.0 521.0,398.0 526.2,397.9 531.0,397.9 535.0,398.0 538.1,398.2 540.6,398.4 542.5,398.7 544.2,399.0 546.0,399.3 548.0,399.5 550.4,399.7 553.1,399.9 555.8,400.1 558.3,400.3 560.5,400.4 562.0,400.5" fill="none" stroke="#a0a0a0" stroke-width="1.4" stroke-linejoin="round" stroke-linecap="round"/>
<polyline points="80.5,398.3 77.5,398.3 73.2,398.3 68.3,398.3 62.9,398.3 57.5,398.2 52.4,398.2 47.6,398.2 42.8,398.2 38.0,398.2 33.2,398.2 28.3,398.1 23.4,398.1 18.3,398.1 12.8,398.0 7.4,398.0 2.2,397.9 -2.6,397.9 -6.6,398.0 -9.7,398.2 -12.2,398.4 -14.1,398.7 -15.8,399.0 -17.6,399.3 -19.6,399.5 -22.0,399.7 -24.7,399.9 -27.4,400.1 -29.9,400.3 -32.1,400.4 -33.6,400.5" fill="none" stroke="#a0a0a0" stroke-width="1.4" stroke-linejoin="round" stroke-linecap="round"/>
<polyline points="447.9,390.4 450.9,390.6 455.2,390.8 460.1,391.0 465.5,391.3 470.9,391.5 476.0,391.8 480.8,392.1 485.6,392.4 490.4,392.7 495.2,393.0 500.1,393.3 505.0,393.6 510.1,393.9 515.6,394.2 521.0,394.5 526.2,394.9 531.0,395.2 535.0,395.6 538.1,396.1 540.6,396.6 542.5,397.1 544.2,397.6 546.0,398.1 548.0,398.6 550.4,399.0 553.1,399.3 555.8,399.7 558.3,400.0 560.5,400.3 562.0,400.5" fill="none" stroke="#a0a0a0" stroke-width="1.4" stroke-linejoin="round" stroke-linecap="round"/>
<polyline points="80.5,390.4 77.5,390.6 73.2,390.8 68.3,391.0 62.9,391.3 57.5,391.5 52.4,391.8 47.6,392.1 42.8,392.4 38.0,392.7 33.2,393.0 28.3,393.3 23.4,393.6 18.3,393.9 12.8,394.2 7.4,394.5 2.2,394.9 -2.6,395.2 -6.6,395.6 -9.7,396.1 -12.2,396.6 -14.1,397.1 -15.8,397.6 -17.6,398.1 -19.6,398.6 -22.0,399.0 -24.7,399.3 -27.4,399.7 -29.9,400.0 -32.1,400.3 -33.6,400.5" fill="none" stroke="#a0a0a0" stroke-width="1.4" stroke-linejoin="round" stroke-linecap="round"/>
<polyline points="447.9,382.3 450.9,382.6 455.2,383.0 460.1,383.6 465.5,384.1 470.9,384.7 476.0,385.3 480.8,385.9 485.6,386.5 490.4,387.1 495.2,387.7 500.1,388.4 505.0,389.0 510.1,389.7 515.6,390.4 521.0,391.1 526.2,391.8 531.0,392.5 535.0,393.2 538.1,394.0 540.6,394.7 542.5,395.5 544.2,396.3 546.0,397.0 548.0,397.6 550.4,398.2 553.1,398.8 555.8,399.3 558.3,399.8 560.5,400.2 562.0,400.5" fill="none" stroke="#a0a0a0" stroke-width="1.4" stroke-linejoin="round" stroke-linecap="round"/>
<polyline points="80.5,382.3 77.5,382.6 73.2,383.0 68.3,383.6 62.9,384.1 57.5,384.7 52.4,385.3 47.6,385.9 42.8,386.5 38.0,387.1 33.2,387.7 28.3,388.4 23.4,389.0 18.3,389.7 12.8,390.4 7.4,391.1 2.2,391.8 -2.6,392.5 -6.6,393.2 -9.7,394.0 -12.2,394.7 -14.1,395.5 -15.8,396.3 -17.6,397.0 -19.6,397.6 -22.0,398.2 -24.7,398.8 -27.4,399.3 -29.9,399.8 -32.1,400.2 -33.6,400.5" fill="none" stroke="#a0a0a0" stroke-width="1.4" stroke-linejoin="round" stroke-linecap="round"/>
<polyline points="447.9,373.7 450.9,374.2 455.2,374.9 460.1,375.7 465.5,376.6 470.9,377.5 476.0,378.4 480.8,379.3 485.6,380.2 490.4,381.2 495.2,382.2 500.1,383.2 505.0,384.3 510.1,385.3 515.6,386.4 521.0,387.6 526.2,388.7 531.0,389.8 535.0,390.9 538.1,391.9 540.6,392.9 542.5,393.9 544.2,394.9 546.0,395.8 548.0,396.6 550.4,397.4 553.1,398.2 555.8,398.9 558.3,399.6 560.5,400.1 562.0,400.5" fill="none" stroke="#a0a0a0" stroke-width="1.4" stroke-linejoin="round" stroke-linecap="round"/>
<polyline points="80.5,373.7 77.5,374.2 73.2,374.9 68.3,375.7 62.9,376.6 57.5,377.5 52.4,378.4 47.6,379.3 42.8,380.2 38.0,381.2 33.2,382.2 28.3,383.2 23.4,384.3 18.3,385.3 12.8,386.4 7.4,387.6 2.2,388.7 -2.6,389.8 -6.6,390.9 -9.7,391.9 -12.2,392.9 -14.1,393.9 -15.8,394.9 -17.6,395.8 -19.6,396.6 -22.0,397.4 -24.7,398.2 -27.4,398.9 -29.9,399.6 -32.1,400.1 -33.6,400.5" fill="none" stroke="#a0a0a0" stroke-width="1.4" stroke-linejoin="round" stroke-linecap="round"/>
<polyline points="447.9,364.1 450.9,364.8 455.2,365.8 460.1,366.9 465.5,368.2 470.9,369.5 476.0,370.7 480.8,372.0 485.6,373.4 490.4,374.8 495.2,376.2 500.1,377.6 505.0,379.1 510.1,380.6 515.6,382.2 521.0,383.9 526.2,385.5 531.0,387.1 535.0,388.5 538.1,389.9 540.6,391.2 542.5,392.4 544.2,393.6 546.0,394.7 548.0,395.7 550.4,396.7 553.1,397.7 555.8,398.5 558.3,399.3 560.5,400.0 562.0,400.5" fill="none" stroke="#a0a0a0" stroke-width="1.4" stroke-linejoin="round" stroke-linecap="round"/>
<polyline points="80.5,364.1 77.5,364.8 73.2,365.8 68.3,366.9 62.9,368.2 57.5,369.5 52.4,370.7 47.6,372.0 42.8,373.4 38.0,374.8 33.2,376.2 28.3,377.6 23.4,379.1 18.3,380.6 12.8,382.2 7.4,383.9 2.2,385.5 -2.6,387.1 -6.6,388.5 -9.7,389.9 -12.2,391.2 -14.1,392.4 -15.8,393.6 -17.6,394.7 -19.6,395.7 -22.0,396.7 -24.7,397.7 -27.4,398.5 -29.9,399.3 -32.1,400.0 -33.6,400.5" fill="none" stroke="#a0a0a0" stroke-width="1.4" stroke-linejoin="round" stroke-linecap="round"/>
<polyline points="447.9,355.7 450.9,356.6 455.2,357.8 460.1,359.2 465.5,360.8 470.9,362.4 476.0,364.0 480.8,365.6 485.6,367.3 490.4,369.0 495.2,370.8 500.1,372.6 505.0,374.4 510.1,376.3 515.6,378.3 521.0,380.4 526.2,382.4 531.0,384.3 535.0,386.1 538.1,387.8 540.6,389.3 542.5,390.8 544.2,392.2 546.0,393.5 548.0,394.8 550.4,395.9 553.1,397.1 555.8,398.2 558.3,399.1 560.5,399.9 562.0,400.5" fill="none" stroke="#a0a0a0" stroke-width="1.4" stroke-linejoin="round" stroke-linecap="round"/>
<polyline points="80.5,355.7 77.5,356.6 73.2,357.8 68.3,359.2 62.9,360.8 57.5,362.4 52.4,364.0 47.6,365.6 42.8,367.3 38.0,369.0 33.2,370.8 28.3,372.6 23.4,374.4 18.3,376.3 12.8,378.3 7.4,380.4 2.2,382.4 -2.6,384.3 -6.6,386.1 -9.7,387.8 -12.2,389.3 -14.1,390.8 -15.8,392.2 -17.6,393.5 -19.6,394.8 -22.0,395.9 -24.7,397.1 -27.4,398.2 -29.9,399.1 -32.1,399.9 -33.6,400.5" fill="none" stroke="#a0a0a0" stroke-width="1.4" stroke-linejoin="round" stroke-linecap="round"/>
<polyline points="447.9,347.2 450.9,348.3 455.2,349.7 460.1,351.4 465.5,353.3 470.9,355.2 476.0,357.2 480.8,359.1 485.6,361.1 490.4,363.2 495.2,365.3 500.1,367.5 505.0,369.7 510.1,372.0 515.6,374.4 521.0,376.9 526.2,379.3 531.0,381.6 535.0,383.8 538.1,385.7 540.6,387.5 542.5,389.2 544.2,390.8 546.0,392.4 548.0,393.8 550.4,395.2 553.1,396.5 555.8,397.8 558.3,398.9 560.5,399.8 562.0,400.5" fill="none" stroke="#a0a0a0" stroke-width="1.4" stroke-linejoin="round" stroke-linecap="round"/>
<polyline points="80.5,347.2 77.5,348.3 73.2,349.7 68.3,351.4 62.9,353.3 57.5,355.2 52.4,357.2 47.6,359.1 42.8,361.1 38.0,363.2 33.2,365.3 28.3,367.5 23.4,369.7 18.3,372.0 12.8,374.4 7.4,376.9 2.2,379.3 -2.6,381.6 -6.6,383.8 -9.7,385.7 -12.2,387.5 -14.1,389.2 -15.8,390.8 -17.6,392.4 -19.6,393.8 -22.0,395.2 -24.7,396.5 -27.4,397.8 -29.9,398.9 -32.1,399.8 -33.6,400.5" fill="none" stroke="#a0a0a0" stroke-width="1.4" stroke-linejoin="round" stroke-linecap="round"/>
<polyline points="447.9,337.1 450.9,338.4 455.2,340.1 460.1,342.2 465.5,344.5 470.9,346.8 476.0,349.2 480.8,351.5 485.6,353.9 490.4,356.4 495.2,359.0 500.1,361.7 505.0,364.3 510.1,367.1 515.6,370.1 521.0,373.1 526.2,376.0 531.0,378.8 535.0,381.4 538.1,383.7 540.6,385.8 542.5,387.7 544.2,389.5 546.0,391.2 548.0,392.9 550.4,394.4 553.1,396.0 555.8,397.4 558.3,398.7 560.5,399.7 562.0,400.5" fill="none" stroke="#a0a0a0" stroke-width="1.4" stroke-linejoin="round" stroke-linecap="round"/>
<polyline points="80.5,337.1 77.5,338.4 73.2,340.1 68.3,342.2 62.9,344.5 57.5,346.8 52.4,349.2 47.6,351.5 42.8,353.9 38.0,356.4 33.2,359.0 28.3,361.7 23.4,364.3 18.3,367.1 12.8,370.1 7.4,373.1 2.2,376.0 -2.6,378.8 -6.6,381.4 -9.7,383.7 -12.2,385.8 -14.1,387.7 -15.8,389.5 -17.6,391.2 -19.6,392.9 -22.0,394.4 -24.7,396.0 -27.4,397.4 -29.9,398.7 -32.1,399.7 -33.6,400.5" fill="none" stroke="#a0a0a0" stroke-width="1.4" stroke-linejoin="round" stroke-linecap="round"/>
<polyline points="447.9,326.9 450.9,328.4 455.2,330.4 460.1,332.9 465.5,335.6 470.9,338.3 476.0,341.1 480.8,343.8 485.6,346.7 490.4,349.7 495.2,352.7 500.1,355.8 505.0,359.0 510.1,362.3 515.6,365.7 521.0,369.3 526.2,372.8 531.0,376.0 535.0,379.0 538.1,381.6 540.6,384.0 542.5,386.2 544.2,388.2 546.0,390.1 548.0,391.9 550.4,393.7 553.1,395.4 555.8,397.0 558.3,398.4 560.5,399.6 562.0,400.5" fill="none" stroke="#a0a0a0" stroke-width="1.4" stroke-linejoin="round" stroke-linecap="round"/>
<polyline points="80.5,326.9 77.5,328.4 73.2,330.4 68.3,332.9 62.9,335.6 57.5,338.3 52.4,341.1 47.6,343.8 42.8,346.7 38.0,349.7 33.2,352.7 28.3,355.8 23.4,359.0 18.3,362.3 12.8,365.7 7.4,369.3 2.2,372.8 -2.6,376.0 -6.6,379.0 -9.7,381.6 -12.2,384.0 -14.1,386.2 -15.8,388.2 -17.6,390.1 -19.6,391.9 -22.0,393.7 -24.7,395.4 -27.4,397.0 -29.9,398.4 -32.1,399.6 -33.6,400.5" fill="none" stroke="#a0a0a0" stroke-width="1.4" stroke-linejoin="round" stroke-linecap="round"/>
<polyline points="447.9,315.7 450.9,317.5 455.2,319.8 460.1,322.7 465.5,325.8 470.9,329.1 476.0,332.3 480.8,335.5 485.6,338.8 490.4,342.3 495.2,345.9 500.1,349.5 505.0,353.2 510.1,357.1 515.6,361.2 521.0,365.3 526.2,369.4 531.0,373.2 535.0,376.6 538.1,379.6 540.6,382.3 542.5,384.7 544.2,386.9 546.0,388.9 548.0,390.9 550.4,392.9 553.1,394.8 555.8,396.6 558.3,398.2 560.5,399.5 562.0,400.5" fill="none" stroke="#a0a0a0" stroke-width="1.4" stroke-linejoin="round" stroke-linecap="round"/>
<polyline points="80.5,315.7 77.5,317.5 73.2,319.8 68.3,322.7 62.9,325.8 57.5,329.1 52.4,332.3 47.6,335.5 42.8,338.8 38.0,342.3 33.2,345.9 28.3,349.5 23.4,353.2 18.3,357.1 12.8,361.2 7.4,365.3 2.2,369.4 -2.6,373.2 -6.6,376.6 -9.7,379.6 -12.2,382.3 -14.1,384.7 -15.8,386.9 -17.6,388.9 -19.6,390.9 -22.0,392.9 -24.7,394.8 -27.4,396.6 -29.9,398.2 -32.1,399.5 -33.6,400.5" fill="none" stroke="#a0a0a0" stroke-width="1.4" stroke-linejoin="round" stroke-linecap="round"/>
<polyline points="447.9,303.5 450.9,305.5 455.2,308.3 460.1,311.6 465.5,315.3 470.9,319.0 476.0,322.8 480.8,326.5 485.6,330.4 490.4,334.4 495.2,338.5 500.1,342.8 505.0,347.0 510.1,351.5 515.6,356.3 521.0,361.2 526.2,365.9 531.0,370.3 535.0,374.2 538.1,377.6 540.6,380.5 542.5,383.2 544.2,385.6 546.0,387.8 548.0,390.0 550.4,392.2 553.1,394.3 555.8,396.2 558.3,398.0 560.5,399.4 562.0,400.5" fill="none" stroke="#a0a0a0" stroke-width="1.4" stroke-linejoin="round" stroke-linecap="round"/>
<polyline points="80.5,303.5 77.5,305.5 73.2,308.3 68.3,311.6 62.9,315.3 57.5,319.0 52.4,322.8 47.6,326.5 42.8,330.4 38.0,334.4 33.2,338.5 28.3,342.8 23.4,347.0 18.3,351.5 12.8,356.3 7.4,361.2 2.2,365.9 -2.6,370.3 -6.6,374.2 -9.7,377.6 -12.2,380.5 -14.1,383.2 -15.8,385.6 -17.6,387.8 -19.6,390.0 -22.0,392.2 -24.7,394.3 -27.4,396.2 -29.9,398.0 -32.1,399.4 -33.6,400.5" fill="none" stroke="#a0a0a0" stroke-width="1.4" stroke-linejoin="round" stroke-linecap="round"/>
<polyline points="447.9,288.0 450.9,290.4 455.2,293.7 460.1,297.6 465.5,301.9 470.9,306.4 476.0,310.8 480.8,315.2 485.6,319.9 490.4,324.6 495.2,329.5 500.1,334.5 505.0,339.6 510.1,345.0 515.6,350.7 521.0,356.5 526.2,362.1 531.0,367.3 535.0,371.9 538.1,375.7 540.6,378.9 542.5,381.8 544.2,384.3 546.0,386.7 548.0,389.1 550.4,391.4 553.1,393.7 555.8,395.8 558.3,397.7 560.5,399.3 562.0,400.5" fill="none" stroke="#a0a0a0" stroke-width="1.4" stroke-linejoin="round" stroke-linecap="round"/>
<polyline points="80.5,288.0 77.5,290.4 73.2,293.7 68.3,297.6 62.9,301.9 57.5,306.4 52.4,310.8 47.6,315.2 42.8,319.9 38.0,324.6 33.2,329.5 28.3,334.5 23.4,339.6 18.3,345.0 12.8,350.7 7.4,356.5 2.2,362.1 -2.6,367.3 -6.6,371.9 -9.7,375.7 -12.2,378.9 -14.1,381.8 -15.8,384.3 -17.6,386.7 -19.6,389.1 -22.0,391.4 -24.7,393.7 -27.4,395.8 -29.9,397.7 -32.1,399.3 -33.6,400.5" fill="none" stroke="#a0a0a0" stroke-width="1.4" stroke-linejoin="round" stroke-linecap="round"/>
<polyline points="447.9,264.0 450.9,267.0 455.2,271.2 460.1,276.1 465.5,281.5 470.9,287.2 476.0,292.7 480.8,298.3 485.6,304.1 490.4,310.1 495.2,316.3 500.1,322.5 505.0,328.9 510.1,335.7 515.6,342.9 521.0,350.3 526.2,357.4 531.0,364.0 535.0,369.5 538.1,373.9 540.6,377.6 542.5,380.6 544.2,383.2 546.0,385.6 548.0,388.1 550.4,390.7 553.1,393.2 555.8,395.5 558.3,397.5 560.5,399.2 562.0,400.5" fill="none" stroke="#a0a0a0" stroke-width="1.4" stroke-linejoin="round" stroke-linecap="round"/>
<polyline points="80.5,264.0 77.5,267.0 73.2,271.2 68.3,276.1 62.9,281.5 57.5,287.2 52.4,292.7 47.6,298.3 42.8,304.1 38.0,310.1 33.2,316.3 28.3,322.5 23.4,328.9 18.3,335.7 12.8,342.9 7.4,350.3 2.2,357.4 -2.6,364.0 -6.6,369.5 -9.7,373.9 -12.2,377.6 -14.1,380.6 -15.8,383.2 -17.6,385.6 -19.6,388.1 -22.0,390.7 -24.7,393.2 -27.4,395.5 -29.9,397.5 -32.1,399.2 -33.6,400.5" fill="none" stroke="#a0a0a0" stroke-width="1.4" stroke-linejoin="round" stroke-linecap="round"/>
<polyline points="562.0,400.5 564.5,400.7 568.0,401.0 572.2,401.3 576.6,401.6 581.0,402.0 585.0,402.4 588.8,402.9 592.6,403.4 596.4,404.0 600.0,404.6 603.3,405.1 606.0,405.7 608.1,406.2 609.6,406.7 610.8,407.3 611.8,407.7 612.8,408.0 614.0,408.2 614.5,408.1 614.1,407.6 613.6,407.1 614.1,406.6 616.6,406.2 622.0,406.2 630.7,406.6 642.0,407.2 655.2,408.0 669.8,408.9 684.9,409.7 700.0,410.4 715.3,410.9 731.5,411.3 748.2,411.7 765.4,412.1 782.7,412.4 800.0,412.7 818.5,412.9 838.8,413.2 859.2,413.4 878.3,413.5 894.4,413.7 906.0,413.8" fill="none" stroke="#a0a0a0" stroke-width="1.4" stroke-linejoin="round" stroke-linecap="round"/>
<polyline points="-33.6,400.5 -36.1,400.7 -39.6,401.0 -43.8,401.3 -48.2,401.6 -52.6,402.0 -56.6,402.4 -60.4,402.9 -64.2,403.4 -68.0,404.0 -71.6,404.6 -74.9,405.1 -77.6,405.7 -79.7,406.2 -81.2,406.7 -82.4,407.3 -83.4,407.7 -84.4,408.0 -85.6,408.2 -86.1,408.1 -85.7,407.6 -85.2,407.1 -85.7,406.6 -88.2,406.2 -93.6,406.2 -102.3,406.6 -113.6,407.2 -126.9,408.0 -141.4,408.9 -156.5,409.7 -171.6,410.4 -186.9,410.9 -203.1,411.3 -219.9,411.7 -237.0,412.1 -254.3,412.4 -271.6,412.7 -290.1,412.9 -310.4,413.2 -330.9,413.4 -349.9,413.5 -366.0,413.7 -377.6,413.8" fill="none" stroke="#a0a0a0" stroke-width="1.4" stroke-linejoin="round" stroke-linecap="round"/>
<polyline points="562.0,400.5 564.5,400.8 568.0,401.2 572.2,401.6 576.6,402.2 581.0,402.7 585.0,403.3 588.8,404.0 592.6,404.8 596.4,405.6 600.0,406.4 603.3,407.2 606.0,407.8 608.1,408.3 609.6,408.8 610.8,409.2 611.8,409.5 612.8,409.7 614.0,409.8 614.5,409.6 614.1,409.1 613.6,408.5 614.1,407.9 616.6,407.6 622.0,407.8 630.7,408.5 642.0,409.7 655.2,411.2 669.8,412.7 684.9,414.2 700.0,415.3 715.3,416.2 731.5,417.0 748.2,417.7 765.4,418.4 782.7,418.9 800.0,419.4 818.5,419.9 838.8,420.4 859.2,420.7 878.3,421.0 894.4,421.3 906.0,421.5" fill="none" stroke="#a0a0a0" stroke-width="1.4" stroke-linejoin="round" stroke-linecap="round"/>
<polyline points="-33.6,400.5 -36.1,400.8 -39.6,401.2 -43.8,401.6 -48.2,402.2 -52.6,402.7 -56.6,403.3 -60.4,404.0 -64.2,404.8 -68.0,405.6 -71.6,406.4 -74.9,407.2 -77.6,407.8 -79.7,408.3 -81.2,408.8 -82.4,409.2 -83.4,409.5 -84.4,409.7 -85.6,409.8 -86.1,409.6 -85.7,409.1 -85.2,408.5 -85.7,407.9 -88.2,407.6 -93.6,407.8 -102.3,408.5 -113.6,409.7 -126.9,411.2 -141.4,412.7 -156.5,414.2 -171.6,415.3 -186.9,416.2 -203.1,417.0 -219.9,417.7 -237.0,418.4 -254.3,418.9 -271.6,419.4 -290.1,419.9 -310.4,420.4 -330.9,420.7 -349.9,421.0 -366.0,421.3 -377.6,421.5" fill="none" stroke="#a0a0a0" stroke-width="1.4" stroke-linejoin="round" stroke-linecap="round"/>
<polyline points="562.0,400.5 564.5,400.9 568.0,401.4 572.2,402.0 576.6,402.7 581.0,403.5 585.0,404.3 588.8,405.2 592.6,406.2 596.4,407.3 600.0,408.3 603.3,409.2 606.0,410.0 608.1,410.5 609.6,410.9 610.8,411.2 611.8,411.3 612.8,411.4 614.0,411.4 614.5,411.1 614.1,410.5 613.6,409.9 614.1,409.3 616.6,409.1 622.0,409.4 630.7,410.5 642.0,412.1 655.2,414.0 669.8,416.1 684.9,418.1 700.0,419.6 715.3,420.9 731.5,421.9 748.2,422.9 765.4,423.7 782.7,424.5 800.0,425.2 818.5,425.9 838.8,426.4 859.2,427.0 878.3,427.4 894.4,427.7 906.0,428.0" fill="none" stroke="#a0a0a0" stroke-width="1.4" stroke-linejoin="round" stroke-linecap="round"/>
<polyline points="-33.6,400.5 -36.1,400.9 -39.6,401.4 -43.8,402.0 -48.2,402.7 -52.6,403.5 -56.6,404.3 -60.4,405.2 -64.2,406.2 -68.0,407.3 -71.6,408.3 -74.9,409.2 -77.6,410.0 -79.7,410.5 -81.2,410.9 -82.4,411.2 -83.4,411.3 -84.4,411.4 -85.6,411.4 -86.1,411.1 -85.7,410.5 -85.2,409.9 -85.7,409.3 -88.2,409.1 -93.6,409.4 -102.3,410.5 -113.6,412.1 -126.9,414.0 -141.4,416.1 -156.5,418.1 -171.6,419.6 -186.9,420.9 -203.1,421.9 -219.9,422.9 -237.0,423.7 -254.3,424.5 -271.6,425.2 -290.1,425.9 -310.4,426.4 -330.9,427.0 -349.9,427.4 -366.0,427.7 -377.6,428.0" fill="none" stroke="#a0a0a0" stroke-width="1.4" stroke-linejoin="round" stroke-linecap="round"/>
<polyline points="562.0,400.5 564.5,401.0 568.0,401.6 572.2,402.4 576.6,403.3 581.0,404.2 585.0,405.2 588.8,406.3 592.6,407.6 596.4,408.9 600.0,410.2 603.3,411.3 606.0,412.1 608.1,412.6 609.6,413.0 610.8,413.1 611.8,413.1 612.8,413.1 614.0,413.0 614.5,412.7 614.1,412.0 613.6,411.3 614.1,410.7 616.6,410.5 622.0,411.0 630.7,412.3 642.0,414.3 655.2,416.6 669.8,419.1 684.9,421.5 700.0,423.4 715.3,424.9 731.5,426.2 748.2,427.3 765.4,428.3 782.7,429.3 800.0,430.1 818.5,430.9 838.8,431.6 859.2,432.2 878.3,432.8 894.4,433.2 906.0,433.5" fill="none" stroke="#a0a0a0" stroke-width="1.4" stroke-linejoin="round" stroke-linecap="round"/>
<polyline points="-33.6,400.5 -36.1,401.0 -39.6,401.6 -43.8,402.4 -48.2,403.3 -52.6,404.2 -56.6,405.2 -60.4,406.3 -64.2,407.6 -68.0,408.9 -71.6,410.2 -74.9,411.3 -77.6,412.1 -79.7,412.6 -81.2,413.0 -82.4,413.1 -83.4,413.1 -84.4,413.1 -85.6,413.0 -86.1,412.7 -85.7,412.0 -85.2,411.3 -85.7,410.7 -88.2,410.5 -93.6,411.0 -102.3,412.3 -113.6,414.3 -126.9,416.6 -141.4,419.1 -156.5,421.5 -171.6,423.4 -186.9,424.9 -203.1,426.2 -219.9,427.3 -237.0,428.3 -254.3,429.3 -271.6,430.1 -290.1,430.9 -310.4,431.6 -330.9,432.2 -349.9,432.8 -366.0,433.2 -377.6,433.5" fill="none" stroke="#a0a0a0" stroke-width="1.4" stroke-linejoin="round" stroke-linecap="round"/>
<polyline points="562.0,400.5 564.5,401.1 568.0,401.9 572.2,402.8 576.6,403.8 581.0,405.0 585.0,406.1 588.8,407.4 592.6,408.9 596.4,410.5 600.0,412.0 603.3,413.3 606.0,414.3 608.1,414.8 609.6,415.0 610.8,415.1 611.8,415.0 612.8,414.8 614.0,414.6 614.5,414.2 614.1,413.5 613.6,412.8 614.1,412.2 616.6,412.0 622.0,412.6 630.7,414.1 642.0,416.3 655.2,418.9 669.8,421.7 684.9,424.3 700.0,426.5 715.3,428.1 731.5,429.6 748.2,430.9 765.4,432.0 782.7,433.1 800.0,434.0 818.5,434.9 838.8,435.7 859.2,436.4 878.3,437.0 894.4,437.4 906.0,437.8" fill="none" stroke="#a0a0a0" stroke-width="1.4" stroke-linejoin="round" stroke-linecap="round"/>
<polyline points="-33.6,400.5 -36.1,401.1 -39.6,401.9 -43.8,402.8 -48.2,403.8 -52.6,405.0 -56.6,406.1 -60.4,407.4 -64.2,408.9 -68.0,410.5 -71.6,412.0 -74.9,413.3 -77.6,414.3 -79.7,414.8 -81.2,415.0 -82.4,415.1 -83.4,415.0 -84.4,414.8 -85.6,414.6 -86.1,414.2 -85.7,413.5 -85.2,412.8 -85.7,412.2 -88.2,412.0 -93.6,412.6 -102.3,414.1 -113.6,416.3 -126.9,418.9 -141.4,421.7 -156.5,424.3 -171.6,426.5 -186.9,428.1 -203.1,429.6 -219.9,430.9 -237.0,432.0 -254.3,433.1 -271.6,434.0 -290.1,434.9 -310.4,435.7 -330.9,436.4 -349.9,437.0 -366.0,437.4 -377.6,437.8" fill="none" stroke="#a0a0a0" stroke-width="1.4" stroke-linejoin="round" stroke-linecap="round"/>
<polyline points="562.0,400.5 564.5,401.2 568.0,402.1 572.2,403.2 576.6,404.4 581.0,405.7 585.0,407.0 588.8,408.5 592.6,410.3 596.4,412.2 600.0,413.9 603.3,415.4 606.0,416.4 608.1,417.0 609.6,417.1 610.8,417.0 611.8,416.8 612.8,416.5 614.0,416.2 614.5,415.8 614.1,415.0 613.6,414.3 614.1,413.7 616.6,413.6 622.0,414.2 630.7,415.8 642.0,418.2 655.2,421.0 669.8,424.0 684.9,426.9 700.0,429.2 715.3,431.0 731.5,432.5 748.2,433.9 765.4,435.2 782.7,436.3 800.0,437.3 818.5,438.3 838.8,439.1 859.2,439.9 878.3,440.5 894.4,441.0 906.0,441.4" fill="none" stroke="#a0a0a0" stroke-width="1.4" stroke-linejoin="round" stroke-linecap="round"/>
<polyline points="-33.6,400.5 -36.1,401.2 -39.6,402.1 -43.8,403.2 -48.2,404.4 -52.6,405.7 -56.6,407.0 -60.4,408.5 -64.2,410.3 -68.0,412.2 -71.6,413.9 -74.9,415.4 -77.6,416.4 -79.7,417.0 -81.2,417.1 -82.4,417.0 -83.4,416.8 -84.4,416.5 -85.6,416.2 -86.1,415.8 -85.7,415.0 -85.2,414.3 -85.7,413.7 -88.2,413.6 -93.6,414.2 -102.3,415.8 -113.6,418.2 -126.9,421.0 -141.4,424.0 -156.5,426.9 -171.6,429.2 -186.9,431.0 -203.1,432.5 -219.9,433.9 -237.0,435.2 -254.3,436.3 -271.6,437.3 -290.1,438.3 -310.4,439.1 -330.9,439.9 -349.9,440.5 -366.0,441.0 -377.6,441.4" fill="none" stroke="#a0a0a0" stroke-width="1.4" stroke-linejoin="round" stroke-linecap="round"/>
<polyline points="562.0,400.5 564.5,401.3 568.0,402.3 572.2,403.6 576.6,405.0 581.0,406.4 585.0,408.0 588.8,409.7 592.6,411.7 596.4,413.8 600.0,415.8 603.3,417.4 606.0,418.6 608.1,419.1 609.6,419.2 610.8,419.0 611.8,418.6 612.8,418.1 614.0,417.8 614.5,417.3 614.1,416.6 613.6,415.8 614.1,415.2 616.6,415.1 622.0,415.8 630.7,417.5 642.0,420.0 655.2,423.0 669.8,426.2 684.9,429.1 700.0,431.5 715.3,433.4 731.5,435.1 748.2,436.5 765.4,437.8 782.7,439.0 800.0,440.1 818.5,441.1 838.8,442.0 859.2,442.8 878.3,443.4 894.4,444.0 906.0,444.4" fill="none" stroke="#a0a0a0" stroke-width="1.4" stroke-linejoin="round" stroke-linecap="round"/>
<polyline points="-33.6,400.5 -36.1,401.3 -39.6,402.3 -43.8,403.6 -48.2,405.0 -52.6,406.4 -56.6,408.0 -60.4,409.7 -64.2,411.7 -68.0,413.8 -71.6,415.8 -74.9,417.4 -77.6,418.6 -79.7,419.1 -81.2,419.2 -82.4,419.0 -83.4,418.6 -84.4,418.1 -85.6,417.8 -86.1,417.3 -85.7,416.6 -85.2,415.8 -85.7,415.2 -88.2,415.1 -93.6,415.8 -102.3,417.5 -113.6,420.0 -126.9,423.0 -141.4,426.2 -156.5,429.1 -171.6,431.5 -186.9,433.4 -203.1,435.1 -219.9,436.5 -237.0,437.8 -254.3,439.0 -271.6,440.1 -290.1,441.1 -310.4,442.0 -330.9,442.8 -349.9,443.4 -366.0,444.0 -377.6,444.4" fill="none" stroke="#a0a0a0" stroke-width="1.4" stroke-linejoin="round" stroke-linecap="round"/>
<polyline points="562.0,400.5 564.5,401.4 568.0,402.5 572.2,404.0 576.6,405.5 581.0,407.2 585.0,408.9 588.8,410.8 592.6,413.1 596.4,415.4 600.0,417.6 603.3,419.5 606.0,420.7 608.1,421.3 609.6,421.3 610.8,420.9 611.8,420.4 612.8,419.8 614.0,419.4 614.5,418.9 614.1,418.1 613.6,417.3 614.1,416.7 616.6,416.7 622.0,417.4 630.7,419.2 642.0,421.8 655.2,424.9 669.8,428.2 684.9,431.3 700.0,433.8 715.3,435.8 731.5,437.5 748.2,439.0 765.4,440.4 782.7,441.6 800.0,442.7 818.5,443.8 838.8,444.7 859.2,445.5 878.3,446.2 894.4,446.8 906.0,447.2" fill="none" stroke="#a0a0a0" stroke-width="1.4" stroke-linejoin="round" stroke-linecap="round"/>
<polyline points="-33.6,400.5 -36.1,401.4 -39.6,402.5 -43.8,404.0 -48.2,405.5 -52.6,407.2 -56.6,408.9 -60.4,410.8 -64.2,413.1 -68.0,415.4 -71.6,417.6 -74.9,419.5 -77.6,420.7 -79.7,421.3 -81.2,421.3 -82.4,420.9 -83.4,420.4 -84.4,419.8 -85.6,419.4 -86.1,418.9 -85.7,418.1 -85.2,417.3 -85.7,416.7 -88.2,416.7 -93.6,417.4 -102.3,419.2 -113.6,421.8 -126.9,424.9 -141.4,428.2 -156.5,431.3 -171.6,433.8 -186.9,435.8 -203.1,437.5 -219.9,439.0 -237.0,440.4 -254.3,441.6 -271.6,442.7 -290.1,443.8 -310.4,444.7 -330.9,445.5 -349.9,446.2 -366.0,446.8 -377.6,447.2" fill="none" stroke="#a0a0a0" stroke-width="1.4" stroke-linejoin="round" stroke-linecap="round"/>
<polyline points="562.0,400.5 564.5,401.5 568.0,402.8 572.2,404.3 576.6,406.1 581.0,407.9 585.0,409.8 588.8,411.9 592.6,414.4 596.4,417.0 600.0,419.5 603.3,421.5 606.0,422.9 608.1,423.4 609.6,423.4 610.8,422.9 611.8,422.2 612.8,421.5 614.0,421.0 614.5,420.5 614.1,419.6 613.6,418.8 614.1,418.3 616.6,418.2 622.0,419.0 630.7,420.8 642.0,423.5 655.2,426.7 669.8,430.1 684.9,433.2 700.0,435.8 715.3,437.9 731.5,439.6 748.2,441.2 765.4,442.6 782.7,443.8 800.0,445.0 818.5,446.1 838.8,447.1 859.2,447.9 878.3,448.6 894.4,449.2 906.0,449.6" fill="none" stroke="#a0a0a0" stroke-width="1.4" stroke-linejoin="round" stroke-linecap="round"/>
<polyline points="-33.6,400.5 -36.1,401.5 -39.6,402.8 -43.8,404.3 -48.2,406.1 -52.6,407.9 -56.6,409.8 -60.4,411.9 -64.2,414.4 -68.0,417.0 -71.6,419.5 -74.9,421.5 -77.6,422.9 -79.7,423.4 -81.2,423.4 -82.4,422.9 -83.4,422.2 -84.4,421.5 -85.6,421.0 -86.1,420.5 -85.7,419.6 -85.2,418.8 -85.7,418.3 -88.2,418.2 -93.6,419.0 -102.3,420.8 -113.6,423.5 -126.9,426.7 -141.4,430.1 -156.5,433.2 -171.6,435.8 -186.9,437.9 -203.1,439.6 -219.9,441.2 -237.0,442.6 -254.3,443.8 -271.6,445.0 -290.1,446.1 -310.4,447.1 -330.9,447.9 -349.9,448.6 -366.0,449.2 -377.6,449.6" fill="none" stroke="#a0a0a0" stroke-width="1.4" stroke-linejoin="round" stroke-linecap="round"/>
<polyline points="562.0,400.5 564.5,401.6 568.0,403.0 572.2,404.7 576.6,406.6 581.0,408.7 585.0,410.7 588.8,413.1 592.6,415.8 596.4,418.7 600.0,421.4 603.3,423.6 606.0,425.0 608.1,425.6 609.6,425.4 610.8,424.8 611.8,424.0 612.8,423.2 614.0,422.6 614.5,422.0 614.1,421.2 613.6,420.4 614.1,419.8 616.6,419.8 622.0,420.6 630.7,422.4 642.0,425.2 655.2,428.5 669.8,431.9 684.9,435.1 700.0,437.8 715.3,439.8 731.5,441.6 748.2,443.2 765.4,444.6 782.7,445.9 800.0,447.1 818.5,448.2 838.8,449.2 859.2,450.0 878.3,450.8 894.4,451.3 906.0,451.8" fill="none" stroke="#a0a0a0" stroke-width="1.4" stroke-linejoin="round" stroke-linecap="round"/>
<polyline points="-33.6,400.5 -36.1,401.6 -39.6,403.0 -43.8,404.7 -48.2,406.6 -52.6,408.7 -56.6,410.7 -60.4,413.1 -64.2,415.8 -68.0,418.7 -71.6,421.4 -74.9,423.6 -77.6,425.0 -79.7,425.6 -81.2,425.4 -82.4,424.8 -83.4,424.0 -84.4,423.2 -85.6,422.6 -86.1,422.0 -85.7,421.2 -85.2,420.4 -85.7,419.8 -88.2,419.8 -93.6,420.6 -102.3,422.4 -113.6,425.2 -126.9,428.5 -141.4,431.9 -156.5,435.1 -171.6,437.8 -186.9,439.8 -203.1,441.6 -219.9,443.2 -237.0,444.6 -254.3,445.9 -271.6,447.1 -290.1,448.2 -310.4,449.2 -330.9,450.0 -349.9,450.8 -366.0,451.3 -377.6,451.8" fill="none" stroke="#a0a0a0" stroke-width="1.4" stroke-linejoin="round" stroke-linecap="round"/>
<polyline points="562.0,400.5 564.5,401.7 568.0,403.2 572.2,405.1 576.6,407.2 581.0,409.4 585.0,411.7 588.8,414.2 592.6,417.2 596.4,420.3 600.0,423.2 603.3,425.6 606.0,427.2 608.1,427.8 609.6,427.5 610.8,426.8 611.8,425.8 612.8,424.9 614.0,424.2 614.5,423.6 614.1,422.7 613.6,421.9 614.1,421.4 616.6,421.4 622.0,422.2 630.7,424.1 642.0,426.8 655.2,430.1 669.8,433.6 684.9,436.8 700.0,439.5 715.3,441.5 731.5,443.4 748.2,445.0 765.4,446.4 782.7,447.7 800.0,448.9 818.5,450.0 838.8,451.0 859.2,451.8 878.3,452.6 894.4,453.1 906.0,453.6" fill="none" stroke="#a0a0a0" stroke-width="1.4" stroke-linejoin="round" stroke-linecap="round"/>
<polyline points="-33.6,400.5 -36.1,401.7 -39.6,403.2 -43.8,405.1 -48.2,407.2 -52.6,409.4 -56.6,411.7 -60.4,414.2 -64.2,417.2 -68.0,420.3 -71.6,423.2 -74.9,425.6 -77.6,427.2 -79.7,427.8 -81.2,427.5 -82.4,426.8 -83.4,425.8 -84.4,424.9 -85.6,424.2 -86.1,423.6 -85.7,422.7 -85.2,421.9 -85.7,421.4 -88.2,421.4 -93.6,422.2 -102.3,424.1 -113.6,426.8 -126.9,430.1 -141.4,433.6 -156.5,436.8 -171.6,439.5 -186.9,441.5 -203.1,443.4 -219.9,445.0 -237.0,446.4 -254.3,447.7 -271.6,448.9 -290.1,450.0 -310.4,451.0 -330.9,451.8 -349.9,452.6 -366.0,453.1 -377.6,453.6" fill="none" stroke="#a0a0a0" stroke-width="1.4" stroke-linejoin="round" stroke-linecap="round"/>
<polyline points="562.0,400.5 564.5,401.8 568.0,403.5 572.2,405.5 576.6,407.8 581.0,410.2 585.0,412.6 588.8,415.3 592.6,418.6 596.4,421.9 600.0,425.1 603.3,427.7 606.0,429.3 608.1,429.9 609.6,429.6 610.8,428.7 611.8,427.6 612.8,426.5 614.0,425.8 614.5,425.2 614.1,424.3 613.6,423.5 614.1,423.0 616.6,423.0 622.0,423.8 630.7,425.7 642.0,428.4 655.2,431.7 669.8,435.2 684.9,438.4 700.0,441.1 715.3,443.1 731.5,445.0 748.2,446.6 765.4,448.0 782.7,449.3 800.0,450.5 818.5,451.6 838.8,452.6 859.2,453.4 878.3,454.2 894.4,454.7 906.0,455.2" fill="none" stroke="#a0a0a0" stroke-width="1.4" stroke-linejoin="round" stroke-linecap="round"/>
<polyline points="-33.6,400.5 -36.1,401.8 -39.6,403.5 -43.8,405.5 -48.2,407.8 -52.6,410.2 -56.6,412.6 -60.4,415.3 -64.2,418.6 -68.0,421.9 -71.6,425.1 -74.9,427.7 -77.6,429.3 -79.7,429.9 -81.2,429.6 -82.4,428.7 -83.4,427.6 -84.4,426.5 -85.6,425.8 -86.1,425.2 -85.7,424.3 -85.2,423.5 -85.7,423.0 -88.2,423.0 -93.6,423.8 -102.3,425.7 -113.6,428.4 -126.9,431.7 -141.4,435.2 -156.5,438.4 -171.6,441.1 -186.9,443.1 -203.1,445.0 -219.9,446.6 -237.0,448.0 -254.3,449.3 -271.6,450.5 -290.1,451.6 -310.4,452.6 -330.9,453.4 -349.9,454.2 -366.0,454.7 -377.6,455.2" fill="none" stroke="#a0a0a0" stroke-width="1.4" stroke-linejoin="round" stroke-linecap="round"/>
<polyline points="562.0,400.5 564.5,401.9 568.0,403.7 572.2,405.9 576.6,408.3 581.0,410.9 585.0,413.5 588.8,416.5 592.6,419.9 596.4,423.6 600.0,427.0 603.3,429.7 606.0,431.5 608.1,432.1 609.6,431.7 610.8,430.7 611.8,429.4 612.8,428.2 614.0,427.4 614.5,426.7 614.1,425.9 613.6,425.1 614.1,424.6 616.6,424.6 622.0,425.4 630.7,427.2 642.0,430.0 655.2,433.3 669.8,436.7 684.9,439.9 700.0,442.6 715.3,444.6 731.5,446.4 748.2,448.0 765.4,449.4 782.7,450.7 800.0,451.9 818.5,453.0 838.8,454.0 859.2,454.8 878.3,455.6 894.4,456.1 906.0,456.6" fill="none" stroke="#a0a0a0" stroke-width="1.4" stroke-linejoin="round" stroke-linecap="round"/>
<polyline points="-33.6,400.5 -36.1,401.9 -39.6,403.7 -43.8,405.9 -48.2,408.3 -52.6,410.9 -56.6,413.5 -60.4,416.5 -64.2,419.9 -68.0,423.6 -71.6,427.0 -74.9,429.7 -77.6,431.5 -79.7,432.1 -81.2,431.7 -82.4,430.7 -83.4,429.4 -84.4,428.2 -85.6,427.4 -86.1,426.7 -85.7,425.9 -85.2,425.1 -85.7,424.6 -88.2,424.6 -93.6,425.4 -102.3,427.2 -113.6,430.0 -126.9,433.3 -141.4,436.7 -156.5,439.9 -171.6,442.6 -186.9,444.6 -203.1,446.4 -219.9,448.0 -237.0,449.4 -254.3,450.7 -271.6,451.9 -290.1,453.0 -310.4,454.0 -330.9,454.8 -349.9,455.6 -366.0,456.1 -377.6,456.6" fill="none" stroke="#a0a0a0" stroke-width="1.4" stroke-linejoin="round" stroke-linecap="round"/>
<polyline points="563.4,417.8 565.8,418.1 569.1,418.5 573.1,419.0 577.3,419.7 581.4,420.4 585.0,421.4 588.3,422.6 591.5,424.0 594.6,425.6 597.5,427.2 600.4,428.8 603.0,430.4 605.6,432.0 608.1,433.7 610.4,435.5 612.5,437.1 614.3,438.4 615.6,439.4" fill="none" stroke="#a0a0a0" stroke-width="1.4" stroke-linejoin="round" stroke-linecap="round"/>
<polyline points="-35.0,417.8 -37.4,418.1 -40.7,418.5 -44.7,419.0 -48.9,419.7 -53.0,420.4 -56.6,421.4 -59.9,422.6 -63.1,424.0 -66.2,425.6 -69.1,427.2 -72.0,428.8 -74.6,430.4 -77.2,432.0 -79.7,433.7 -82.0,435.5 -84.1,437.1 -85.9,438.4 -87.2,439.4" fill="none" stroke="#a0a0a0" stroke-width="1.4" stroke-linejoin="round" stroke-linecap="round"/>
<polyline points="570.6,434.0 572.2,433.7 574.4,433.1 577.0,432.5 579.8,432.1 582.5,431.9 585.0,432.2 587.3,433.1 589.7,434.3 592.0,435.9 594.1,437.7 596.0,439.5 597.6,441.2 598.8,443.0 599.6,445.1 600.2,447.2 600.6,449.1 600.9,450.8 601.2,452.0" fill="none" stroke="#a0a0a0" stroke-width="1.4" stroke-linejoin="round" stroke-linecap="round"/>
<polyline points="-42.2,434.0 -43.8,433.7 -46.0,433.1 -48.6,432.5 -51.4,432.1 -54.1,431.9 -56.6,432.2 -58.9,433.1 -61.3,434.3 -63.6,435.9 -65.7,437.7 -67.6,439.5 -69.2,441.2 -70.4,443.0 -71.2,445.1 -71.8,447.2 -72.2,449.1 -72.5,450.8 -72.8,452.0" fill="none" stroke="#a0a0a0" stroke-width="1.4" stroke-linejoin="round" stroke-linecap="round"/>
<polyline points="242.3,147.5 242.4,149.3 242.5,151.9 242.7,155.0 242.8,158.2 243.0,161.4 243.1,164.2 243.2,166.8 243.3,169.3 243.4,171.7 243.5,174.1 243.6,176.4 243.7,178.5 243.8,180.5 243.8,182.3 243.9,184.0 243.9,185.7 244.0,187.3 244.0,189.0 244.0,190.7 244.0,192.4 244.0,194.1 244.0,195.8 244.0,197.4 244.0,199.0 244.0,200.6 244.0,202.1 244.0,203.7 244.0,205.2 244.0,206.6 244.0,208.0 244.0,209.3 244.0,210.4 244.0,211.5 244.0,212.6 244.0,213.7 244.0,215.0 244.0,216.4 244.0,217.9 244.0,219.4 244.0,220.9 244.0,222.5 244.0,224.0 244.0,225.5 243.9,227.0 243.9,228.5 243.9,230.0 243.8,231.5 243.8,233.0 243.8,234.5 243.8,236.0 243.8,237.6 243.7,239.1 243.7,240.6 243.7,242.0 243.7,243.4 243.6,244.7 243.6,246.1 243.6,247.4 243.5,248.7 243.5,250.0 243.5,251.3 243.4,252.7 243.4,254.0 243.4,255.3 243.3,256.7 243.3,258.0 243.3,259.3 243.2,260.6 243.2,261.9 243.1,263.3 243.0,264.6 243.0,266.0 243.0,267.5 242.9,269.0 242.9,270.5 242.9,272.0 242.8,273.5 242.8,275.0 242.8,276.4 242.7,277.7 242.7,279.1 242.6,280.4 242.5,281.7 242.5,283.0 242.5,284.3 242.4,285.7 242.4,287.1 242.3,288.4 242.3,289.7 242.3,291.0 242.3,292.3 242.3,293.7 242.3,295.0 242.3,296.2 242.3,297.2 242.3,298.0" fill="none" stroke="#0000ff" stroke-width="1.6" stroke-linejoin="round" stroke-linecap="round"/>
<polyline points="286.1,147.5 286.0,149.3 285.9,151.9 285.7,155.0 285.6,158.2 285.4,161.4 285.3,164.2 285.2,166.8 285.1,169.3 285.0,171.7 284.9,174.1 284.8,176.4 284.7,178.5 284.6,180.5 284.6,182.3 284.5,184.0 284.5,185.7 284.4,187.3 284.4,189.0 284.4,190.7 284.4,192.4 284.4,194.1 284.4,195.8 284.4,197.4 284.4,199.0 284.4,200.6 284.4,202.1 284.4,203.7 284.4,205.2 284.4,206.6 284.4,208.0 284.4,209.3 284.4,210.4 284.4,211.5 284.4,212.6 284.4,213.7 284.4,215.0 284.4,216.4 284.4,217.9 284.4,219.4 284.4,220.9 284.4,222.5 284.4,224.0 284.4,225.5 284.5,227.0 284.5,228.5 284.5,230.0 284.6,231.5 284.6,233.0 284.6,234.5 284.6,236.0 284.6,237.6 284.7,239.1 284.7,240.6 284.7,242.0 284.7,243.4 284.8,244.7 284.8,246.1 284.8,247.4 284.9,248.7 284.9,250.0 284.9,251.3 285.0,252.7 285.0,254.0 285.0,255.3 285.1,256.7 285.1,258.0 285.1,259.3 285.2,260.6 285.2,261.9 285.3,263.3 285.4,264.6 285.4,266.0 285.4,267.5 285.5,269.0 285.5,270.5 285.5,272.0 285.6,273.5 285.6,275.0 285.6,276.4 285.7,277.7 285.7,279.1 285.8,280.4 285.9,281.7 285.9,283.0 285.9,284.3 286.0,285.7 286.0,287.1 286.1,288.4 286.1,289.7 286.1,291.0 286.1,292.3 286.1,293.7 286.1,295.0 286.1,296.2 286.1,297.2 286.1,298.0" fill="none" stroke="#0000ff" stroke-width="1.6" stroke-linejoin="round" stroke-linecap="round"/>
<circle cx="242.3" cy="147.5" r="2.5" fill="#0000ff"/>
<circle cx="242.6" cy="279.0" r="2.5" fill="#0000ff"/>
<circle cx="242.3" cy="282.0" r="2.5" fill="#0000ff"/>
<circle cx="242.1" cy="285.0" r="2.5" fill="#0000ff"/>
<circle cx="241.9" cy="288.0" r="2.5" fill="#0000ff"/>
<circle cx="241.8" cy="291.0" r="2.5" fill="#0000ff"/>
<circle cx="241.8" cy="294.0" r="2.5" fill="#0000ff"/>
<circle cx="242.0" cy="297.0" r="2.5" fill="#0000ff"/>
<circle cx="242.4" cy="299.0" r="2.5" fill="#0000ff"/>
<circle cx="243.5" cy="286.0" r="2.5" fill="#0000ff"/>
<circle cx="243.0" cy="292.0" r="2.5" fill="#0000ff"/>
<circle cx="243.1" cy="164.2" r="2.5" fill="#0000ff"/>
<circle cx="243.7" cy="178.5" r="2.5" fill="#0000ff"/>
<circle cx="244.0" cy="189.0" r="2.5" fill="#0000ff"/>
<circle cx="244.0" cy="198.0" r="2.5" fill="#0000ff"/>
<circle cx="244.0" cy="206.0" r="2.5" fill="#0000ff"/>
<circle cx="243.6" cy="217.0" r="2.5" fill="#0000ff"/>
<circle cx="243.7" cy="244.0" r="2.5" fill="#0000ff"/>
<circle cx="243.5" cy="252.5" r="2.5" fill="#0000ff"/>
<circle cx="243.3" cy="260.0" r="2.5" fill="#0000ff"/>
<circle cx="243.0" cy="268.0" r="2.5" fill="#0000ff"/>
<circle cx="242.8" cy="276.0" r="2.5" fill="#0000ff"/>
<circle cx="242.5" cy="284.0" r="2.5" fill="#0000ff"/>
<circle cx="242.3" cy="291.5" r="2.5" fill="#0000ff"/>
<circle cx="242.3" cy="298.0" r="2.5" fill="#0000ff"/>
<circle cx="286.1" cy="147.5" r="2.5" fill="#0000ff"/>
<circle cx="285.8" cy="279.0" r="2.5" fill="#0000ff"/>
<circle cx="286.1" cy="282.0" r="2.5" fill="#0000ff"/>
<circle cx="286.3" cy="285.0" r="2.5" fill="#0000ff"/>
<circle cx="286.5" cy="288.0" r="2.5" fill="#0000ff"/>
<circle cx="286.6" cy="291.0" r="2.5" fill="#0000ff"/>
<circle cx="286.6" cy="294.0" r="2.5" fill="#0000ff"/>
<circle cx="286.4" cy="297.0" r="2.5" fill="#0000ff"/>
<circle cx="286.0" cy="299.0" r="2.5" fill="#0000ff"/>
<circle cx="284.9" cy="286.0" r="2.5" fill="#0000ff"/>
<circle cx="285.4" cy="292.0" r="2.5" fill="#0000ff"/>
<circle cx="285.3" cy="164.2" r="2.5" fill="#0000ff"/>
<circle cx="284.7" cy="178.5" r="2.5" fill="#0000ff"/>
<circle cx="284.4" cy="189.0" r="2.5" fill="#0000ff"/>
<circle cx="284.4" cy="198.0" r="2.5" fill="#0000ff"/>
<circle cx="284.4" cy="206.0" r="2.5" fill="#0000ff"/>
<circle cx="284.8" cy="217.0" r="2.5" fill="#0000ff"/>
<circle cx="284.7" cy="244.0" r="2.5" fill="#0000ff"/>
<circle cx="284.9" cy="252.5" r="2.5" fill="#0000ff"/>
<circle cx="285.1" cy="260.0" r="2.5" fill="#0000ff"/>
<circle cx="285.4" cy="268.0" r="2.5" fill="#0000ff"/>
<circle cx="285.6" cy="276.0" r="2.5" fill="#0000ff"/>
<circle cx="285.9" cy="284.0" r="2.5" fill="#0000ff"/>
<circle cx="286.1" cy="291.5" r="2.5" fill="#0000ff"/>
<circle cx="286.1" cy="298.0" r="2.5" fill="#0000ff"/>
<circle cx="238.0" cy="218.0" r="2.6" fill="#0000ff"/>
<circle cx="240.0" cy="222.0" r="2.6" fill="#0000ff"/>
<circle cx="238.0" cy="226.0" r="2.6" fill="#0000ff"/>
<circle cx="237.5" cy="231.0" r="2.6" fill="#0000ff"/>
<circle cx="240.0" cy="234.0" r="2.6" fill="#0000ff"/>
<circle cx="243.0" cy="228.0" r="2.6" fill="#0000ff"/>
<circle cx="245.0" cy="232.0" r="2.6" fill="#0000ff"/>
<circle cx="247.5" cy="236.0" r="2.6" fill="#0000ff"/>
<circle cx="249.5" cy="238.5" r="2.6" fill="#0000ff"/>
<circle cx="241.0" cy="238.0" r="2.6" fill="#0000ff"/>
<circle cx="244.0" cy="222.0" r="2.6" fill="#0000ff"/>
<circle cx="246.0" cy="219.0" r="2.6" fill="#0000ff"/>
<circle cx="239.0" cy="229.0" r="2.6" fill="#0000ff"/>
<circle cx="242.0" cy="236.0" r="2.6" fill="#0000ff"/>
<circle cx="237.0" cy="223.0" r="2.6" fill="#0000ff"/>
<circle cx="290.4" cy="218.0" r="2.6" fill="#0000ff"/>
<circle cx="288.4" cy="222.0" r="2.6" fill="#0000ff"/>
<circle cx="290.4" cy="226.0" r="2.6" fill="#0000ff"/>
<circle cx="290.9" cy="231.0" r="2.6" fill="#0000ff"/>
<circle cx="288.4" cy="234.0" r="2.6" fill="#0000ff"/>
<circle cx="285.4" cy="228.0" r="2.6" fill="#0000ff"/>
<circle cx="283.4" cy="232.0" r="2.6" fill="#0000ff"/>
<circle cx="280.9" cy="236.0" r="2.6" fill="#0000ff"/>
<circle cx="278.9" cy="238.5" r="2.6" fill="#0000ff"/>
<circle cx="287.4" cy="238.0" r="2.6" fill="#0000ff"/>
<circle cx="284.4" cy="222.0" r="2.6" fill="#0000ff"/>
<circle cx="282.4" cy="219.0" r="2.6" fill="#0000ff"/>
<circle cx="289.4" cy="229.0" r="2.6" fill="#0000ff"/>
<circle cx="286.4" cy="236.0" r="2.6" fill="#0000ff"/>
<circle cx="291.4" cy="223.0" r="2.6" fill="#0000ff"/>
<polyline points="563.1,330.5 563.2,331.7 563.2,333.4 563.3,335.4 563.4,337.6 563.5,339.9 563.6,342.2 563.7,344.6 563.7,347.1 563.8,349.7 563.9,352.4 563.9,355.0 564.0,357.5 564.1,359.8 564.1,362.1 564.2,364.3 564.2,366.5 564.3,368.7 564.3,371.0 564.3,373.4 564.3,376.0 564.3,378.6 564.3,381.1 564.3,383.6 564.3,386.0 564.3,388.2 564.4,390.4 564.5,392.5 564.6,394.5 564.6,396.5 564.7,398.5 564.7,400.5 564.7,402.5 564.7,404.4 564.7,406.3 564.8,408.1 564.8,409.7 564.9,411.2 565.0,412.5 565.1,413.7 565.2,414.8 565.3,415.9 565.5,416.9 565.7,418.0 565.9,419.0 566.2,420.0 566.4,420.9 566.7,421.7 567.0,422.3 567.3,422.7 567.7,423.0 568.1,423.1 568.5,423.1 568.9,423.2 569.1,423.2" fill="none" stroke="#0000ff" stroke-width="1.6" stroke-linejoin="round" stroke-linecap="round"/>
<polyline points="-34.7,330.5 -34.8,331.7 -34.8,333.4 -34.9,335.4 -35.0,337.6 -35.1,339.9 -35.2,342.2 -35.3,344.6 -35.3,347.1 -35.4,349.7 -35.5,352.4 -35.5,355.0 -35.6,357.5 -35.7,359.8 -35.7,362.1 -35.8,364.3 -35.8,366.5 -35.9,368.7 -35.9,371.0 -35.9,373.4 -35.9,376.0 -35.9,378.6 -35.9,381.1 -35.9,383.6 -35.9,386.0 -35.9,388.2 -36.0,390.4 -36.1,392.5 -36.2,394.5 -36.2,396.5 -36.3,398.5 -36.3,400.5 -36.3,402.5 -36.3,404.4 -36.3,406.3 -36.4,408.1 -36.4,409.7 -36.5,411.2 -36.6,412.5 -36.7,413.7 -36.8,414.8 -36.9,415.9 -37.1,416.9 -37.3,418.0 -37.5,419.0 -37.8,420.0 -38.0,420.9 -38.3,421.7 -38.6,422.3 -38.9,422.7 -39.3,423.0 -39.7,423.1 -40.1,423.1 -40.5,423.2 -40.7,423.2" fill="none" stroke="#0000ff" stroke-width="1.6" stroke-linejoin="round" stroke-linecap="round"/>
<circle cx="563.1" cy="330.5" r="2.6" fill="#0000ff"/>
<circle cx="563.6" cy="342.2" r="2.6" fill="#0000ff"/>
<circle cx="564.0" cy="357.5" r="2.6" fill="#0000ff"/>
<circle cx="564.3" cy="371.0" r="2.6" fill="#0000ff"/>
<circle cx="564.3" cy="386.0" r="2.6" fill="#0000ff"/>
<circle cx="564.7" cy="398.5" r="2.6" fill="#0000ff"/>
<circle cx="564.8" cy="409.7" r="2.6" fill="#0000ff"/>
<circle cx="565.5" cy="416.9" r="2.6" fill="#0000ff"/>
<circle cx="567.0" cy="422.3" r="2.6" fill="#0000ff"/>
<circle cx="569.1" cy="423.2" r="2.6" fill="#0000ff"/>
<circle cx="-34.7" cy="330.5" r="2.6" fill="#0000ff"/>
<circle cx="-35.2" cy="342.2" r="2.6" fill="#0000ff"/>
<circle cx="-35.6" cy="357.5" r="2.6" fill="#0000ff"/>
<circle cx="-35.9" cy="371.0" r="2.6" fill="#0000ff"/>
<circle cx="-35.9" cy="386.0" r="2.6" fill="#0000ff"/>
<circle cx="-36.3" cy="398.5" r="2.6" fill="#0000ff"/>
<circle cx="-36.4" cy="409.7" r="2.6" fill="#0000ff"/>
<circle cx="-37.1" cy="416.9" r="2.6" fill="#0000ff"/>
<circle cx="-38.6" cy="422.3" r="2.6" fill="#0000ff"/>
<circle cx="-40.7" cy="423.2" r="2.6" fill="#0000ff"/>
<polyline points="562.5,440.5 562.6,441.4 562.8,442.6 563.0,444.0 563.2,445.5 563.3,447.0 563.4,448.4 563.4,449.6 563.4,450.9 563.3,452.0 563.3,453.2 563.1,454.4 563.0,455.6 562.8,456.8 562.6,458.0 562.3,459.2 562.1,460.4 561.8,461.6 561.6,462.8 561.4,464.0 561.3,465.2 561.1,466.4 561.0,467.6 560.8,468.8 560.7,470.0 560.6,471.2 560.4,472.4 560.3,473.6 560.1,474.8 560.0,476.0 559.8,477.2 559.6,478.5 559.3,479.9 559.1,481.2 558.9,482.5 558.6,483.6 558.5,484.4" fill="none" stroke="#0000ff" stroke-width="4.2" stroke-linejoin="round" stroke-linecap="round"/>
<polyline points="-34.1,440.5 -34.2,441.4 -34.4,442.6 -34.6,444.0 -34.8,445.5 -34.9,447.0 -35.0,448.4 -35.0,449.6 -35.0,450.9 -34.9,452.0 -34.9,453.2 -34.7,454.4 -34.6,455.6 -34.4,456.8 -34.2,458.0 -33.9,459.2 -33.7,460.4 -33.4,461.6 -33.2,462.8 -33.0,464.0 -32.9,465.2 -32.7,466.4 -32.6,467.6 -32.4,468.8 -32.3,470.0 -32.2,471.2 -32.0,472.4 -31.9,473.6 -31.7,474.8 -31.6,476.0 -31.4,477.2 -31.2,478.5 -30.9,479.9 -30.7,481.2 -30.5,482.5 -30.2,483.6 -30.1,484.4" fill="none" stroke="#0000ff" stroke-width="4.2" stroke-linejoin="round" stroke-linecap="round"/>
<circle cx="562.5" cy="440.5" r="2.6" fill="#0000ff"/>
<circle cx="562.9" cy="443.5" r="2.6" fill="#0000ff"/>
<circle cx="563.3" cy="446.5" r="2.6" fill="#0000ff"/>
<circle cx="563.4" cy="449.4" r="2.6" fill="#0000ff"/>
<circle cx="563.3" cy="452.4" r="2.6" fill="#0000ff"/>
<circle cx="563.0" cy="455.4" r="2.6" fill="#0000ff"/>
<circle cx="562.5" cy="458.4" r="2.6" fill="#0000ff"/>
<circle cx="561.9" cy="461.3" r="2.6" fill="#0000ff"/>
<circle cx="561.4" cy="464.3" r="2.6" fill="#0000ff"/>
<circle cx="561.0" cy="467.3" r="2.6" fill="#0000ff"/>
<circle cx="560.7" cy="470.2" r="2.6" fill="#0000ff"/>
<circle cx="560.3" cy="473.2" r="2.6" fill="#0000ff"/>
<circle cx="559.9" cy="476.2" r="2.6" fill="#0000ff"/>
<circle cx="559.5" cy="479.2" r="2.6" fill="#0000ff"/>
<circle cx="558.9" cy="482.1" r="2.6" fill="#0000ff"/>
<circle cx="-34.1" cy="440.5" r="2.6" fill="#0000ff"/>
<circle cx="-34.5" cy="443.5" r="2.6" fill="#0000ff"/>
<circle cx="-34.9" cy="446.5" r="2.6" fill="#0000ff"/>
<circle cx="-35.0" cy="449.4" r="2.6" fill="#0000ff"/>
<circle cx="-34.9" cy="452.4" r="2.6" fill="#0000ff"/>
<circle cx="-34.6" cy="455.4" r="2.6" fill="#0000ff"/>
<circle cx="-34.1" cy="458.4" r="2.6" fill="#0000ff"/>
<circle cx="-33.5" cy="461.3" r="2.6" fill="#0000ff"/>
<circle cx="-33.0" cy="464.3" r="2.6" fill="#0000ff"/>
<circle cx="-32.6" cy="467.3" r="2.6" fill="#0000ff"/>
<circle cx="-32.3" cy="470.2" r="2.6" fill="#0000ff"/>
<circle cx="-31.9" cy="473.2" r="2.6" fill="#0000ff"/>
<circle cx="-31.5" cy="476.2" r="2.6" fill="#0000ff"/>
<circle cx="-31.1" cy="479.2" r="2.6" fill="#0000ff"/>
<circle cx="-30.5" cy="482.1" r="2.6" fill="#0000ff"/>
<polyline points="607.2,332.5 607.2,333.8 607.1,335.6 607.0,337.6 606.9,339.8 606.9,341.9 606.8,343.6 606.7,344.9 606.7,346.0 606.6,346.9 606.5,347.8 606.4,348.8 606.4,350.0 606.4,351.4 606.4,352.9 606.4,354.5 606.4,356.2 606.4,357.9 606.4,359.8 606.4,361.8 606.3,363.9 606.3,366.1 606.3,368.4 606.2,370.6 606.2,372.8 606.2,374.9 606.1,377.1 606.1,379.2 606.1,381.3 606.0,383.5 606.0,385.6 606.0,387.7 606.0,389.8 606.0,391.9 606.0,394.1 606.0,396.3 606.0,398.7 606.0,401.3 606.0,404.2 606.0,407.2 606.0,410.0 606.0,412.7 606.0,415.0 606.0,416.8 606.1,418.3 606.1,419.6 606.1,420.8 606.2,421.9 606.2,423.2 606.2,424.5 606.2,425.9 606.3,427.2 606.3,428.6 606.2,429.9 606.2,431.3 606.1,432.7 606.0,434.0 605.9,435.4 605.7,436.8 605.6,438.4 605.5,440.0 605.4,441.9 605.3,443.9 605.2,446.1 605.1,448.2 605.0,450.3 605.0,452.0 605.0,453.5 605.1,455.0 605.2,456.2 605.3,457.4 605.4,458.3 605.5,459.0" fill="none" stroke="#0000ff" stroke-width="1.6" stroke-linejoin="round" stroke-linecap="round"/>
<polyline points="-78.8,332.5 -78.8,333.8 -78.7,335.6 -78.6,337.6 -78.5,339.8 -78.5,341.9 -78.4,343.6 -78.3,344.9 -78.3,346.0 -78.2,346.9 -78.1,347.8 -78.0,348.8 -78.0,350.0 -78.0,351.4 -78.0,352.9 -78.0,354.5 -78.0,356.2 -78.0,357.9 -78.0,359.8 -78.0,361.8 -77.9,363.9 -77.9,366.1 -77.9,368.4 -77.8,370.6 -77.8,372.8 -77.8,374.9 -77.7,377.1 -77.7,379.2 -77.7,381.3 -77.6,383.5 -77.6,385.6 -77.6,387.7 -77.6,389.8 -77.6,391.9 -77.6,394.1 -77.6,396.3 -77.6,398.7 -77.6,401.3 -77.6,404.2 -77.6,407.2 -77.6,410.0 -77.6,412.7 -77.6,415.0 -77.6,416.8 -77.7,418.3 -77.7,419.6 -77.7,420.8 -77.8,421.9 -77.8,423.2 -77.8,424.5 -77.8,425.9 -77.9,427.2 -77.9,428.6 -77.8,429.9 -77.8,431.3 -77.7,432.7 -77.6,434.0 -77.5,435.4 -77.3,436.8 -77.2,438.4 -77.1,440.0 -77.0,441.9 -76.9,443.9 -76.8,446.1 -76.7,448.2 -76.6,450.3 -76.6,452.0 -76.6,453.5 -76.7,455.0 -76.8,456.2 -76.9,457.4 -77.0,458.3 -77.1,459.0" fill="none" stroke="#0000ff" stroke-width="1.6" stroke-linejoin="round" stroke-linecap="round"/>
<circle cx="607.2" cy="332.5" r="2.6" fill="#0000ff"/>
<circle cx="607.5" cy="336.0" r="2.6" fill="#0000ff"/>
<circle cx="606.8" cy="343.6" r="2.6" fill="#0000ff"/>
<circle cx="606.4" cy="350.0" r="2.6" fill="#0000ff"/>
<circle cx="606.4" cy="359.8" r="2.6" fill="#0000ff"/>
<circle cx="606.2" cy="372.8" r="2.6" fill="#0000ff"/>
<circle cx="606.0" cy="385.6" r="2.6" fill="#0000ff"/>
<circle cx="606.0" cy="398.7" r="2.6" fill="#0000ff"/>
<circle cx="606.0" cy="415.0" r="2.6" fill="#0000ff"/>
<circle cx="606.2" cy="423.2" r="2.6" fill="#0000ff"/>
<circle cx="606.2" cy="431.3" r="2.6" fill="#0000ff"/>
<circle cx="-78.8" cy="332.5" r="2.6" fill="#0000ff"/>
<circle cx="-79.1" cy="336.0" r="2.6" fill="#0000ff"/>
<circle cx="-78.4" cy="343.6" r="2.6" fill="#0000ff"/>
<circle cx="-78.0" cy="350.0" r="2.6" fill="#0000ff"/>
<circle cx="-78.0" cy="359.8" r="2.6" fill="#0000ff"/>
<circle cx="-77.8" cy="372.8" r="2.6" fill="#0000ff"/>
<circle cx="-77.6" cy="385.6" r="2.6" fill="#0000ff"/>
<circle cx="-77.6" cy="398.7" r="2.6" fill="#0000ff"/>
<circle cx="-77.6" cy="415.0" r="2.6" fill="#0000ff"/>
<circle cx="-77.8" cy="423.2" r="2.6" fill="#0000ff"/>
<circle cx="-77.8" cy="431.3" r="2.6" fill="#0000ff"/>
<circle cx="601.0" cy="434.0" r="2.7" fill="#0000ff"/>
<circle cx="603.0" cy="438.0" r="2.7" fill="#0000ff"/>
<circle cx="605.0" cy="436.0" r="2.7" fill="#0000ff"/>
<circle cx="607.0" cy="441.0" r="2.7" fill="#0000ff"/>
<circle cx="609.0" cy="437.0" r="2.7" fill="#0000ff"/>
<circle cx="604.0" cy="444.0" r="2.7" fill="#0000ff"/>
<circle cx="608.0" cy="447.0" r="2.7" fill="#0000ff"/>
<circle cx="605.5" cy="450.0" r="2.7" fill="#0000ff"/>
<circle cx="606.0" cy="455.0" r="2.7" fill="#0000ff"/>
<circle cx="605.5" cy="459.0" r="2.7" fill="#0000ff"/>
<circle cx="-72.6" cy="434.0" r="2.7" fill="#0000ff"/>
<circle cx="-74.6" cy="438.0" r="2.7" fill="#0000ff"/>
<circle cx="-76.6" cy="436.0" r="2.7" fill="#0000ff"/>
<circle cx="-78.6" cy="441.0" r="2.7" fill="#0000ff"/>
<circle cx="-80.6" cy="437.0" r="2.7" fill="#0000ff"/>
<circle cx="-75.6" cy="444.0" r="2.7" fill="#0000ff"/>
<circle cx="-79.6" cy="447.0" r="2.7" fill="#0000ff"/>
<circle cx="-77.1" cy="450.0" r="2.7" fill="#0000ff"/>
<circle cx="-77.6" cy="455.0" r="2.7" fill="#0000ff"/>
<circle cx="-77.1" cy="459.0" r="2.7" fill="#0000ff"/>
<polyline points="611.4,412.4 611.4,414.0 611.4,416.3 611.4,418.9 611.4,421.7 611.4,424.4 611.4,426.8 611.4,428.9 611.3,430.8 611.2,432.7 611.2,434.4 611.1,436.1 611.0,437.6 610.9,439.1 610.8,440.5 610.7,441.7 610.6,442.9 610.4,443.9 610.2,444.8 609.9,445.5 609.5,446.0 609.1,446.3 608.6,446.6 608.3,446.8 608.0,447.0" fill="none" stroke="#0000ff" stroke-width="1.6" stroke-linejoin="round" stroke-linecap="round"/>
<polyline points="-83.0,412.4 -83.0,414.0 -83.0,416.3 -83.0,418.9 -83.0,421.7 -83.0,424.4 -83.0,426.8 -83.0,428.9 -82.9,430.8 -82.9,432.7 -82.8,434.4 -82.7,436.1 -82.6,437.6 -82.5,439.1 -82.4,440.5 -82.3,441.7 -82.2,442.9 -82.0,443.9 -81.8,444.8 -81.5,445.5 -81.1,446.0 -80.7,446.3 -80.2,446.6 -79.9,446.8 -79.6,447.0" fill="none" stroke="#0000ff" stroke-width="1.6" stroke-linejoin="round" stroke-linecap="round"/>
<circle cx="611.4" cy="412.4" r="2.6" fill="#0000ff"/>
<circle cx="611.4" cy="422.4" r="2.6" fill="#0000ff"/>
<circle cx="611.3" cy="432.4" r="2.6" fill="#0000ff"/>
<circle cx="610.6" cy="442.4" r="2.6" fill="#0000ff"/>
<circle cx="-83.0" cy="412.4" r="2.6" fill="#0000ff"/>
<circle cx="-83.0" cy="422.4" r="2.6" fill="#0000ff"/>
<circle cx="-82.9" cy="432.4" r="2.6" fill="#0000ff"/>
<circle cx="-82.2" cy="442.4" r="2.6" fill="#0000ff"/>
<polyline points="878.3,365.2 878.3,366.8 878.3,369.0 878.4,371.7 878.4,374.5 878.5,377.4 878.5,380.0 878.5,382.5 878.6,385.0 878.6,387.5 878.7,390.0 878.7,392.5 878.8,395.0 878.9,397.6 878.9,400.2 879.0,402.8 879.1,405.4 879.2,407.8 879.3,410.0 879.4,412.0 879.5,413.9 879.7,415.6 879.8,417.1 879.9,418.6 880.0,420.0 880.1,421.2 880.1,422.1 880.2,422.9 880.2,423.8 880.3,424.8 880.4,426.0 880.5,427.6 880.6,429.4 880.8,431.3 880.9,433.3 881.1,435.2 881.2,437.0 881.3,438.8 881.5,440.6 881.6,442.4 881.7,444.0 881.8,445.3 882.0,446.0 882.2,446.2 882.4,445.9 882.6,445.3 882.8,444.4 883.0,443.3 883.2,442.0 883.4,440.5 883.7,438.6 884.0,436.5 884.2,434.3 884.5,432.2 884.6,430.2 884.7,428.4 884.7,426.7 884.6,425.1 884.5,423.5 884.5,421.8 884.4,420.0 884.3,418.1 884.3,416.1 884.2,414.1 884.1,412.1 884.1,410.0 884.0,408.0 883.9,406.0 883.9,404.0 883.8,401.9 883.7,399.9 883.7,397.9 883.6,396.0 883.5,394.1 883.5,392.3 883.4,390.6 883.4,388.8 883.3,386.9 883.3,385.0 883.3,382.9 883.2,380.7 883.2,378.4 883.2,376.2 883.1,374.0 883.1,372.0 883.1,370.1 883.0,368.2 883.0,366.4 882.9,364.8 882.9,363.3 882.8,362.0 882.8,360.9 882.8,359.9 882.8,359.1 882.8,358.5 882.7,358.1 882.5,357.8 882.2,357.8 881.8,357.9 881.3,358.3 880.9,358.8 880.4,359.4 880.0,360.0 879.7,360.8 879.3,361.7 879.0,362.7 878.7,363.7 878.5,364.6 878.3,365.2" fill="none" stroke="#0000ff" stroke-width="1.5" stroke-linejoin="round" stroke-linecap="round"/>
<polyline points="-349.9,365.2 -349.9,366.8 -349.9,369.0 -350.0,371.7 -350.0,374.5 -350.1,377.4 -350.1,380.0 -350.1,382.5 -350.2,385.0 -350.2,387.5 -350.3,390.0 -350.3,392.5 -350.4,395.0 -350.5,397.6 -350.5,400.2 -350.6,402.8 -350.7,405.4 -350.8,407.8 -350.9,410.0 -351.0,412.0 -351.1,413.9 -351.3,415.6 -351.4,417.1 -351.5,418.6 -351.6,420.0 -351.7,421.2 -351.7,422.1 -351.8,422.9 -351.8,423.8 -351.9,424.8 -352.0,426.0 -352.1,427.6 -352.2,429.4 -352.4,431.3 -352.5,433.3 -352.7,435.2 -352.8,437.0 -352.9,438.8 -353.1,440.6 -353.2,442.4 -353.3,444.0 -353.4,445.3 -353.6,446.0 -353.8,446.2 -354.0,445.9 -354.2,445.3 -354.4,444.4 -354.6,443.3 -354.8,442.0 -355.0,440.5 -355.3,438.6 -355.6,436.5 -355.8,434.3 -356.1,432.2 -356.2,430.2 -356.3,428.4 -356.3,426.7 -356.2,425.1 -356.1,423.5 -356.1,421.8 -356.0,420.0 -355.9,418.1 -355.9,416.1 -355.8,414.1 -355.7,412.1 -355.7,410.0 -355.6,408.0 -355.5,406.0 -355.5,404.0 -355.4,401.9 -355.3,399.9 -355.3,397.9 -355.2,396.0 -355.1,394.1 -355.1,392.3 -355.0,390.6 -355.0,388.8 -354.9,386.9 -354.9,385.0 -354.9,382.9 -354.8,380.7 -354.8,378.4 -354.8,376.2 -354.7,374.0 -354.7,372.0 -354.7,370.1 -354.6,368.2 -354.6,366.4 -354.5,364.8 -354.5,363.3 -354.4,362.0 -354.4,360.9 -354.4,359.9 -354.4,359.1 -354.4,358.5 -354.3,358.1 -354.1,357.8 -353.8,357.8 -353.4,357.9 -352.9,358.3 -352.5,358.8 -352.0,359.4 -351.6,360.0 -351.3,360.8 -350.9,361.7 -350.6,362.7 -350.3,363.7 -350.1,364.6 -349.9,365.2" fill="none" stroke="#0000ff" stroke-width="1.5" stroke-linejoin="round" stroke-linecap="round"/>
<circle cx="878.3" cy="365.0" r="2.4" fill="#0000ff"/>
<circle cx="878.5" cy="379.0" r="2.4" fill="#0000ff"/>
<circle cx="878.8" cy="393.0" r="2.4" fill="#0000ff"/>
<circle cx="879.2" cy="406.0" r="2.4" fill="#0000ff"/>
<circle cx="879.8" cy="417.0" r="2.4" fill="#0000ff"/>
<circle cx="880.4" cy="426.0" r="2.4" fill="#0000ff"/>
<circle cx="881.2" cy="433.0" r="2.4" fill="#0000ff"/>
<circle cx="882.0" cy="439.0" r="2.4" fill="#0000ff"/>
<circle cx="882.5" cy="444.0" r="2.4" fill="#0000ff"/>
<circle cx="882.5" cy="357.8" r="2.4" fill="#0000ff"/>
<circle cx="883.1" cy="361.0" r="2.4" fill="#0000ff"/>
<circle cx="883.4" cy="370.5" r="2.4" fill="#0000ff"/>
<circle cx="883.7" cy="380.0" r="2.4" fill="#0000ff"/>
<circle cx="883.9" cy="389.0" r="2.4" fill="#0000ff"/>
<circle cx="884.1" cy="398.0" r="2.4" fill="#0000ff"/>
<circle cx="884.3" cy="408.0" r="2.4" fill="#0000ff"/>
<circle cx="884.5" cy="418.0" r="2.4" fill="#0000ff"/>
<circle cx="884.6" cy="427.0" r="2.4" fill="#0000ff"/>
<circle cx="884.2" cy="435.0" r="2.4" fill="#0000ff"/>
<polyline points="891.5,453.0 891.2,452.9 890.7,452.7 890.1,452.5 889.5,452.3 889.0,452.3 888.5,452.3 888.1,452.5 887.7,452.8 887.4,453.1 887.1,453.5 886.8,454.0 886.5,454.5 886.3,455.1 886.0,455.7 885.8,456.4 885.7,457.1 885.5,457.8 885.3,458.5 885.1,459.3 884.9,460.2 884.7,461.1 884.6,461.9 884.4,462.6 884.3,463.1" fill="none" stroke="#0000ff" stroke-width="4.4" stroke-linejoin="round" stroke-linecap="round"/>
<polyline points="264.2,70.0 263.9,70.8 263.6,72.0 263.1,73.4 262.7,74.9 262.2,76.5 261.8,78.0 261.4,79.5 261.1,81.0 260.8,82.6 260.5,84.3 260.2,86.1 259.8,88.0 259.4,90.1 259.0,92.4 258.6,94.8 258.1,97.3 257.7,99.7 257.3,102.0 256.9,104.3 256.6,106.5 256.2,108.8 255.9,110.9 255.6,113.0 255.3,115.0 255.0,116.8 254.8,118.4 254.6,119.9 254.4,121.4 254.1,123.1 253.9,125.0 253.7,127.2 253.4,129.6 253.1,132.2 252.9,134.8 252.6,137.4 252.4,140.0 252.2,142.6 252.0,145.2 251.8,147.8 251.7,150.4 251.5,152.8 251.4,155.0 251.3,157.0 251.3,158.7 251.2,160.3 251.2,161.9 251.2,163.4 251.2,165.0 251.2,166.7 251.3,168.3 251.3,170.0 251.4,171.7 251.5,173.3 251.6,175.0 251.7,176.7 251.9,178.3 252.1,180.0 252.3,181.7 252.5,183.3 252.8,185.0 253.1,186.7 253.4,188.4 253.7,190.1 254.1,191.8 254.5,193.4 254.9,195.0 255.4,196.5 255.9,197.9 256.5,199.3 257.1,200.6 257.6,201.9 258.2,203.0 258.7,204.0 259.3,204.9 259.8,205.8 260.4,206.5 260.9,207.2 261.4,207.8 261.9,208.3 262.4,208.8 262.8,209.1 263.3,209.4 263.7,209.5 264.2,209.6 264.7,209.5 265.1,209.4 265.6,209.1 266.0,208.8 266.5,208.3 267.0,207.8 267.5,207.2 268.0,206.5 268.6,205.8 269.1,204.9 269.7,204.0 270.2,203.0 270.8,201.9 271.3,200.6 271.9,199.3 272.5,197.9 273.0,196.5 273.5,195.0 273.9,193.4 274.3,191.8 274.7,190.1 275.0,188.4 275.3,186.7 275.6,185.0 275.9,183.3 276.1,181.7 276.3,180.0 276.5,178.3 276.7,176.7 276.8,175.0 276.9,173.3 277.0,171.7 277.1,170.0 277.1,168.3 277.2,166.7 277.2,165.0 277.2,163.4 277.2,161.9 277.2,160.3 277.1,158.7 277.1,157.0 277.0,155.0 276.9,152.8 276.7,150.4 276.6,147.8 276.4,145.2 276.2,142.6 276.0,140.0 275.8,137.4 275.5,134.8 275.3,132.2 275.0,129.6 274.7,127.2 274.5,125.0 274.3,123.1 274.0,121.4 273.8,119.9 273.6,118.4 273.4,116.8 273.1,115.0 272.8,113.0 272.5,110.9 272.2,108.8 271.8,106.5 271.5,104.3 271.1,102.0 270.7,99.7 270.3,97.3 269.8,94.8 269.4,92.4 269.0,90.1 268.6,88.0 268.2,86.1 267.9,84.3 267.6,82.6 267.3,81.0 267.0,79.5 266.6,78.0 266.2,76.5 265.7,74.9 265.3,73.4 264.8,72.0 264.5,70.8 264.2,70.0" fill="none" stroke="#006400" stroke-width="6.0" stroke-linejoin="round" stroke-linecap="round"/>
<polyline points="264.2,67.5 264.2,84.0" fill="none" stroke="#006400" stroke-width="6.5" stroke-linejoin="round" stroke-linecap="round"/>
<polygon points="260.6,70.0 267.8,70.0 270.0,86.0 258.4,86.0" fill="#006400"/>
<polyline points="293.2,316.0 293.2,313.6 293.2,310.3 293.2,306.3 293.2,302.2 293.2,298.3 293.2,295.0 293.2,292.3 293.2,289.9 293.2,287.8 293.2,285.7 293.2,283.8 293.2,282.0 293.2,280.3 293.1,278.7 293.0,277.2 293.0,275.9 293.0,274.5 293.2,273.0 293.5,271.5 293.8,269.9 294.3,268.3 294.8,266.8 295.3,265.4 295.9,264.0 296.5,262.7 297.2,261.6 297.9,260.5 298.7,259.4 299.5,258.4 300.4,257.5 301.3,256.6 302.2,255.8 303.1,255.0 304.1,254.3 305.2,253.6 306.4,253.0 307.7,252.4 309.1,251.9 310.5,251.3 312.1,250.9 313.7,250.4 315.4,250.0 317.2,249.6 319.2,249.3 321.2,248.9 323.2,248.6 325.2,248.3 327.0,248.0 328.7,247.7 330.2,247.4 331.7,247.1 333.1,246.7 334.5,246.4 336.0,246.0 337.4,245.6 338.8,245.2 340.1,244.7 341.6,244.2 343.2,243.6 345.0,243.0 347.2,242.2 349.6,241.4 352.1,240.4 354.8,239.5 357.4,238.6 360.0,237.7 362.5,236.9 365.0,236.1 367.5,235.4 370.0,234.7 372.5,233.9 375.0,233.2 377.5,232.4 380.0,231.6 382.5,230.9 385.0,230.1 387.5,229.4 390.0,228.7 392.6,228.1 395.3,227.5 398.0,227.0 400.6,226.5 402.9,226.0 405.0,225.7 406.7,225.4 408.0,225.2 409.2,225.1 410.2,225.0 411.2,225.0 412.4,225.0 413.7,225.1 414.9,225.3 416.2,225.5 417.5,225.8 418.7,226.1 420.0,226.5 421.2,227.0 422.5,227.5 423.7,228.1 424.9,228.8 426.2,229.5 427.4,230.2 428.7,231.0 429.9,231.8 431.2,232.6 432.5,233.5 433.7,234.5 435.0,235.5 436.2,236.6 437.5,237.8 438.7,239.0 439.9,240.3 441.2,241.6 442.4,243.0 443.7,244.6 445.2,246.4 446.7,248.2 448.0,250.0 449.2,251.4 450.0,252.5" fill="none" stroke="#006400" stroke-width="2.4" stroke-linejoin="round" stroke-linecap="round"/>
<polyline points="235.2,316.0 235.2,313.6 235.2,310.3 235.2,306.3 235.2,302.2 235.2,298.3 235.2,295.0 235.2,292.3 235.2,289.9 235.2,287.8 235.2,285.7 235.2,283.8 235.2,282.0 235.2,280.3 235.3,278.7 235.4,277.2 235.4,275.9 235.4,274.5 235.2,273.0 234.9,271.5 234.6,269.9 234.1,268.3 233.6,266.8 233.1,265.4 232.5,264.0 231.9,262.7 231.2,261.6 230.5,260.5 229.7,259.4 228.9,258.4 228.0,257.5 227.1,256.6 226.2,255.8 225.3,255.0 224.3,254.3 223.2,253.6 222.0,253.0 220.7,252.4 219.3,251.9 217.9,251.3 216.3,250.9 214.7,250.4 213.0,250.0 211.2,249.6 209.2,249.3 207.2,248.9 205.2,248.6 203.2,248.3 201.4,248.0 199.7,247.7 198.2,247.4 196.7,247.1 195.3,246.7 193.9,246.4 192.4,246.0 191.0,245.6 189.6,245.2 188.3,244.7 186.8,244.2 185.2,243.6 183.4,243.0 181.2,242.2 178.8,241.4 176.3,240.4 173.6,239.5 171.0,238.6 168.4,237.7 165.9,236.9 163.4,236.1 160.9,235.4 158.4,234.7 155.9,233.9 153.4,233.2 150.9,232.4 148.4,231.6 145.9,230.9 143.4,230.1 140.9,229.4 138.4,228.7 135.8,228.1 133.1,227.5 130.4,227.0 127.8,226.5 125.5,226.0 123.4,225.7 121.7,225.4 120.4,225.2 119.2,225.1 118.2,225.0 117.2,225.0 116.0,225.0 114.7,225.1 113.5,225.3 112.2,225.5 110.9,225.8 109.7,226.1 108.4,226.5 107.2,227.0 105.9,227.5 104.7,228.1 103.5,228.8 102.2,229.5 101.0,230.2 99.7,231.0 98.5,231.8 97.2,232.6 95.9,233.5 94.7,234.5 93.4,235.5 92.2,236.6 90.9,237.8 89.7,239.0 88.5,240.3 87.2,241.6 86.0,243.0 84.7,244.6 83.2,246.4 81.7,248.2 80.4,250.0 79.2,251.4 78.4,252.5" fill="none" stroke="#006400" stroke-width="2.4" stroke-linejoin="round" stroke-linecap="round"/>
<circle cx="293.2" cy="316.0" r="2.05" fill="#006400"/>
<circle cx="293.2" cy="312.8" r="2.05" fill="#006400"/>
<circle cx="293.2" cy="309.6" r="2.05" fill="#006400"/>
<circle cx="293.2" cy="306.4" r="2.05" fill="#006400"/>
<circle cx="293.2" cy="303.2" r="2.05" fill="#006400"/>
<circle cx="293.2" cy="300.0" r="2.05" fill="#006400"/>
<circle cx="293.2" cy="296.8" r="2.05" fill="#006400"/>
<circle cx="293.2" cy="293.6" r="2.05" fill="#006400"/>
<circle cx="293.2" cy="290.4" r="2.05" fill="#006400"/>
<circle cx="293.2" cy="287.2" r="2.05" fill="#006400"/>
<circle cx="293.2" cy="284.0" r="2.05" fill="#006400"/>
<circle cx="293.2" cy="280.8" r="2.05" fill="#006400"/>
<circle cx="293.0" cy="277.6" r="2.05" fill="#006400"/>
<circle cx="293.0" cy="274.4" r="2.05" fill="#006400"/>
<circle cx="293.5" cy="271.2" r="2.05" fill="#006400"/>
<circle cx="294.3" cy="268.1" r="2.05" fill="#006400"/>
<circle cx="295.4" cy="265.1" r="2.05" fill="#006400"/>
<circle cx="296.8" cy="262.3" r="2.05" fill="#006400"/>
<circle cx="298.6" cy="259.6" r="2.05" fill="#006400"/>
<circle cx="300.7" cy="257.2" r="2.05" fill="#006400"/>
<circle cx="303.1" cy="255.1" r="2.05" fill="#006400"/>
<circle cx="305.8" cy="253.3" r="2.05" fill="#006400"/>
<circle cx="308.7" cy="252.0" r="2.05" fill="#006400"/>
<circle cx="311.7" cy="251.0" r="2.05" fill="#006400"/>
<circle cx="314.8" cy="250.2" r="2.05" fill="#006400"/>
<circle cx="317.9" cy="249.5" r="2.05" fill="#006400"/>
<circle cx="321.1" cy="249.0" r="2.05" fill="#006400"/>
<circle cx="324.2" cy="248.5" r="2.05" fill="#006400"/>
<circle cx="327.4" cy="247.9" r="2.05" fill="#006400"/>
<circle cx="330.5" cy="247.3" r="2.05" fill="#006400"/>
<circle cx="333.7" cy="246.6" r="2.05" fill="#006400"/>
<circle cx="336.7" cy="245.8" r="2.05" fill="#006400"/>
<circle cx="339.8" cy="244.8" r="2.05" fill="#006400"/>
<circle cx="342.8" cy="243.8" r="2.05" fill="#006400"/>
<circle cx="345.8" cy="242.7" r="2.05" fill="#006400"/>
<circle cx="348.9" cy="241.6" r="2.05" fill="#006400"/>
<circle cx="351.9" cy="240.5" r="2.05" fill="#006400"/>
<circle cx="354.9" cy="239.5" r="2.05" fill="#006400"/>
<circle cx="357.9" cy="238.4" r="2.05" fill="#006400"/>
<circle cx="360.9" cy="237.4" r="2.05" fill="#006400"/>
<circle cx="364.0" cy="236.4" r="2.05" fill="#006400"/>
<circle cx="367.1" cy="235.5" r="2.05" fill="#006400"/>
<circle cx="370.1" cy="234.6" r="2.05" fill="#006400"/>
<circle cx="373.2" cy="233.7" r="2.05" fill="#006400"/>
<circle cx="376.3" cy="232.8" r="2.05" fill="#006400"/>
<circle cx="379.3" cy="231.9" r="2.05" fill="#006400"/>
<circle cx="382.4" cy="230.9" r="2.05" fill="#006400"/>
<circle cx="385.4" cy="230.0" r="2.05" fill="#006400"/>
<circle cx="388.5" cy="229.1" r="2.05" fill="#006400"/>
<circle cx="391.6" cy="228.3" r="2.05" fill="#006400"/>
<circle cx="394.7" cy="227.6" r="2.05" fill="#006400"/>
<circle cx="397.9" cy="227.0" r="2.05" fill="#006400"/>
<circle cx="401.0" cy="226.4" r="2.05" fill="#006400"/>
<circle cx="404.2" cy="225.8" r="2.05" fill="#006400"/>
<circle cx="407.3" cy="225.3" r="2.05" fill="#006400"/>
<circle cx="410.5" cy="225.0" r="2.05" fill="#006400"/>
<circle cx="413.7" cy="225.1" r="2.05" fill="#006400"/>
<circle cx="416.9" cy="225.6" r="2.05" fill="#006400"/>
<circle cx="419.9" cy="226.5" r="2.05" fill="#006400"/>
<circle cx="422.9" cy="227.7" r="2.05" fill="#006400"/>
<circle cx="425.7" cy="229.2" r="2.05" fill="#006400"/>
<circle cx="428.5" cy="230.8" r="2.05" fill="#006400"/>
<circle cx="431.2" cy="232.6" r="2.05" fill="#006400"/>
<circle cx="433.7" cy="234.5" r="2.05" fill="#006400"/>
<circle cx="436.2" cy="236.5" r="2.05" fill="#006400"/>
<circle cx="438.5" cy="238.8" r="2.05" fill="#006400"/>
<circle cx="440.7" cy="241.1" r="2.05" fill="#006400"/>
<circle cx="442.8" cy="243.5" r="2.05" fill="#006400"/>
<circle cx="444.8" cy="245.9" r="2.05" fill="#006400"/>
<circle cx="446.8" cy="248.4" r="2.05" fill="#006400"/>
<circle cx="448.8" cy="251.0" r="2.05" fill="#006400"/>
<circle cx="235.2" cy="316.0" r="2.05" fill="#006400"/>
<circle cx="235.2" cy="312.8" r="2.05" fill="#006400"/>
<circle cx="235.2" cy="309.6" r="2.05" fill="#006400"/>
<circle cx="235.2" cy="306.4" r="2.05" fill="#006400"/>
<circle cx="235.2" cy="303.2" r="2.05" fill="#006400"/>
<circle cx="235.2" cy="300.0" r="2.05" fill="#006400"/>
<circle cx="235.2" cy="296.8" r="2.05" fill="#006400"/>
<circle cx="235.2" cy="293.6" r="2.05" fill="#006400"/>
<circle cx="235.2" cy="290.4" r="2.05" fill="#006400"/>
<circle cx="235.2" cy="287.2" r="2.05" fill="#006400"/>
<circle cx="235.2" cy="284.0" r="2.05" fill="#006400"/>
<circle cx="235.2" cy="280.8" r="2.05" fill="#006400"/>
<circle cx="235.4" cy="277.6" r="2.05" fill="#006400"/>
<circle cx="235.4" cy="274.4" r="2.05" fill="#006400"/>
<circle cx="234.9" cy="271.2" r="2.05" fill="#006400"/>
<circle cx="234.1" cy="268.1" r="2.05" fill="#006400"/>
<circle cx="233.0" cy="265.1" r="2.05" fill="#006400"/>
<circle cx="231.6" cy="262.3" r="2.05" fill="#006400"/>
<circle cx="229.8" cy="259.6" r="2.05" fill="#006400"/>
<circle cx="227.7" cy="257.2" r="2.05" fill="#006400"/>
<circle cx="225.3" cy="255.1" r="2.05" fill="#006400"/>
<circle cx="222.6" cy="253.3" r="2.05" fill="#006400"/>
<circle cx="219.7" cy="252.0" r="2.05" fill="#006400"/>
<circle cx="216.7" cy="251.0" r="2.05" fill="#006400"/>
<circle cx="213.6" cy="250.2" r="2.05" fill="#006400"/>
<circle cx="210.5" cy="249.5" r="2.05" fill="#006400"/>
<circle cx="207.3" cy="249.0" r="2.05" fill="#006400"/>
<circle cx="204.2" cy="248.5" r="2.05" fill="#006400"/>
<circle cx="201.0" cy="247.9" r="2.05" fill="#006400"/>
<circle cx="197.9" cy="247.3" r="2.05" fill="#006400"/>
<circle cx="194.7" cy="246.6" r="2.05" fill="#006400"/>
<circle cx="191.7" cy="245.8" r="2.05" fill="#006400"/>
<circle cx="188.6" cy="244.8" r="2.05" fill="#006400"/>
<circle cx="185.6" cy="243.8" r="2.05" fill="#006400"/>
<circle cx="182.6" cy="242.7" r="2.05" fill="#006400"/>
<circle cx="179.5" cy="241.6" r="2.05" fill="#006400"/>
<circle cx="176.5" cy="240.5" r="2.05" fill="#006400"/>
<circle cx="173.5" cy="239.5" r="2.05" fill="#006400"/>
<circle cx="170.5" cy="238.4" r="2.05" fill="#006400"/>
<circle cx="167.5" cy="237.4" r="2.05" fill="#006400"/>
<circle cx="164.4" cy="236.4" r="2.05" fill="#006400"/>
<circle cx="161.3" cy="235.5" r="2.05" fill="#006400"/>
<circle cx="158.3" cy="234.6" r="2.05" fill="#006400"/>
<circle cx="155.2" cy="233.7" r="2.05" fill="#006400"/>
<circle cx="152.1" cy="232.8" r="2.05" fill="#006400"/>
<circle cx="149.1" cy="231.9" r="2.05" fill="#006400"/>
<circle cx="146.0" cy="230.9" r="2.05" fill="#006400"/>
<circle cx="143.0" cy="230.0" r="2.05" fill="#006400"/>
<circle cx="139.9" cy="229.1" r="2.05" fill="#006400"/>
<circle cx="136.8" cy="228.3" r="2.05" fill="#006400"/>
<circle cx="133.7" cy="227.6" r="2.05" fill="#006400"/>
<circle cx="130.5" cy="227.0" r="2.05" fill="#006400"/>
<circle cx="127.4" cy="226.4" r="2.05" fill="#006400"/>
<circle cx="124.2" cy="225.8" r="2.05" fill="#006400"/>
<circle cx="121.1" cy="225.3" r="2.05" fill="#006400"/>
<circle cx="117.9" cy="225.0" r="2.05" fill="#006400"/>
<circle cx="114.7" cy="225.1" r="2.05" fill="#006400"/>
<circle cx="111.5" cy="225.6" r="2.05" fill="#006400"/>
<circle cx="108.5" cy="226.5" r="2.05" fill="#006400"/>
<circle cx="105.5" cy="227.7" r="2.05" fill="#006400"/>
<circle cx="102.7" cy="229.2" r="2.05" fill="#006400"/>
<circle cx="99.9" cy="230.8" r="2.05" fill="#006400"/>
<circle cx="97.2" cy="232.6" r="2.05" fill="#006400"/>
<circle cx="94.7" cy="234.5" r="2.05" fill="#006400"/>
<circle cx="92.2" cy="236.5" r="2.05" fill="#006400"/>
<circle cx="89.9" cy="238.8" r="2.05" fill="#006400"/>
<circle cx="87.7" cy="241.1" r="2.05" fill="#006400"/>
<circle cx="85.6" cy="243.5" r="2.05" fill="#006400"/>
<circle cx="83.6" cy="245.9" r="2.05" fill="#006400"/>
<circle cx="81.6" cy="248.4" r="2.05" fill="#006400"/>
<circle cx="79.6" cy="251.0" r="2.05" fill="#006400"/>
<polyline points="450.0,252.5 451.0,253.7 452.3,255.3 453.9,257.3 455.7,259.4 457.4,261.5 459.0,263.5 460.5,265.4 462.0,267.2 463.5,269.1 465.0,271.0 466.5,272.8 468.0,274.7 469.5,276.6 471.0,278.5 472.5,280.4 474.0,282.2 475.5,284.1 477.0,286.0 478.5,287.9 480.0,289.7 481.5,291.6 483.0,293.5 484.5,295.3 486.0,297.2 487.5,299.1 489.0,301.0 490.5,302.9 492.0,304.7 493.5,306.6 495.0,308.5 496.5,310.4 498.1,312.3 499.6,314.2 501.2,316.1 502.6,317.9 504.0,319.7 505.2,321.4 506.4,323.2 507.5,324.8 508.5,326.5 509.6,328.1 510.7,329.8 511.8,331.4 512.9,333.1 514.0,334.7 515.1,336.3 516.2,338.0 517.5,339.8 518.9,341.7 520.3,343.8 521.9,345.8 523.4,347.9 525.0,349.9 526.5,351.8 528.0,353.5 529.5,355.1 531.0,356.6 532.5,358.1 534.0,359.5 535.5,361.0 537.1,362.5 538.7,364.1 540.3,365.7 541.8,367.1 543.3,368.4 544.5,369.5 545.5,370.3 546.4,371.0 547.1,371.5 547.7,371.8 548.4,372.0 549.0,372.0 549.7,371.9 550.3,371.6 550.9,371.2 551.5,370.6 552.0,369.9 552.5,369.0 552.9,368.0 553.3,366.9 553.7,365.6 554.0,364.1 554.3,362.6 554.5,361.0 554.7,359.2 554.9,357.3 555.0,355.2 555.2,353.1 555.2,351.0 555.3,349.0 555.3,347.1 555.3,345.2 555.2,343.3 555.1,341.5 555.1,339.7 555.0,338.0 555.0,336.2 554.9,334.4 554.9,332.6 554.8,330.9 554.8,329.5 554.8,328.5" fill="none" stroke="#006400" stroke-width="1.6" stroke-linejoin="round" stroke-linecap="round"/>
<polyline points="78.4,252.5 77.4,253.7 76.1,255.3 74.5,257.3 72.7,259.4 71.0,261.5 69.4,263.5 67.9,265.4 66.4,267.2 64.9,269.1 63.4,271.0 61.9,272.8 60.4,274.7 58.9,276.6 57.4,278.5 55.9,280.4 54.4,282.2 52.9,284.1 51.4,286.0 49.9,287.9 48.4,289.7 46.9,291.6 45.4,293.5 43.9,295.3 42.4,297.2 40.9,299.1 39.4,301.0 37.9,302.9 36.4,304.7 34.9,306.6 33.4,308.5 31.9,310.4 30.3,312.3 28.8,314.2 27.2,316.1 25.8,317.9 24.4,319.7 23.2,321.4 22.0,323.2 20.9,324.8 19.9,326.5 18.8,328.1 17.7,329.8 16.6,331.4 15.5,333.1 14.4,334.7 13.3,336.3 12.2,338.0 10.9,339.8 9.5,341.7 8.1,343.8 6.5,345.8 5.0,347.9 3.4,349.9 1.9,351.8 0.4,353.5 -1.1,355.1 -2.6,356.6 -4.1,358.1 -5.6,359.5 -7.1,361.0 -8.7,362.5 -10.3,364.1 -11.9,365.7 -13.4,367.1 -14.9,368.4 -16.1,369.5 -17.1,370.3 -18.0,371.0 -18.7,371.5 -19.3,371.8 -20.0,372.0 -20.6,372.0 -21.3,371.9 -21.9,371.6 -22.5,371.2 -23.1,370.6 -23.6,369.9 -24.1,369.0 -24.5,368.0 -24.9,366.9 -25.3,365.6 -25.6,364.1 -25.9,362.6 -26.1,361.0 -26.3,359.2 -26.5,357.3 -26.6,355.2 -26.8,353.1 -26.8,351.0 -26.9,349.0 -26.9,347.1 -26.9,345.2 -26.8,343.3 -26.7,341.5 -26.7,339.7 -26.6,338.0 -26.6,336.2 -26.5,334.4 -26.5,332.6 -26.4,330.9 -26.4,329.5 -26.4,328.5" fill="none" stroke="#006400" stroke-width="1.6" stroke-linejoin="round" stroke-linecap="round"/>
<circle cx="450.0" cy="252.5" r="2.15" fill="#006400"/>
<circle cx="453.2" cy="256.4" r="2.15" fill="#006400"/>
<circle cx="456.3" cy="260.2" r="2.15" fill="#006400"/>
<circle cx="459.5" cy="264.1" r="2.15" fill="#006400"/>
<circle cx="462.6" cy="268.0" r="2.15" fill="#006400"/>
<circle cx="465.8" cy="271.9" r="2.15" fill="#006400"/>
<circle cx="468.9" cy="275.8" r="2.15" fill="#006400"/>
<circle cx="472.0" cy="279.7" r="2.15" fill="#006400"/>
<circle cx="475.1" cy="283.6" r="2.15" fill="#006400"/>
<circle cx="478.2" cy="287.5" r="2.15" fill="#006400"/>
<circle cx="481.4" cy="291.4" r="2.15" fill="#006400"/>
<circle cx="484.5" cy="295.3" r="2.15" fill="#006400"/>
<circle cx="487.6" cy="299.2" r="2.15" fill="#006400"/>
<circle cx="490.7" cy="303.1" r="2.15" fill="#006400"/>
<circle cx="493.9" cy="307.1" r="2.15" fill="#006400"/>
<circle cx="497.0" cy="311.0" r="2.15" fill="#006400"/>
<circle cx="500.2" cy="314.8" r="2.15" fill="#006400"/>
<circle cx="503.3" cy="318.7" r="2.15" fill="#006400"/>
<circle cx="506.2" cy="322.8" r="2.15" fill="#006400"/>
<circle cx="508.9" cy="327.0" r="2.15" fill="#006400"/>
<circle cx="511.6" cy="331.2" r="2.15" fill="#006400"/>
<circle cx="514.4" cy="335.3" r="2.15" fill="#006400"/>
<circle cx="517.3" cy="339.5" r="2.15" fill="#006400"/>
<circle cx="520.2" cy="343.5" r="2.15" fill="#006400"/>
<circle cx="523.1" cy="347.5" r="2.15" fill="#006400"/>
<circle cx="526.2" cy="351.5" r="2.15" fill="#006400"/>
<circle cx="529.6" cy="355.2" r="2.15" fill="#006400"/>
<circle cx="533.1" cy="358.7" r="2.15" fill="#006400"/>
<circle cx="536.7" cy="362.2" r="2.15" fill="#006400"/>
<circle cx="540.3" cy="365.7" r="2.15" fill="#006400"/>
<circle cx="544.0" cy="369.1" r="2.15" fill="#006400"/>
<circle cx="548.1" cy="371.9" r="2.15" fill="#006400"/>
<circle cx="552.1" cy="369.7" r="2.15" fill="#006400"/>
<circle cx="553.8" cy="365.0" r="2.15" fill="#006400"/>
<circle cx="554.6" cy="360.1" r="2.15" fill="#006400"/>
<circle cx="555.0" cy="355.1" r="2.15" fill="#006400"/>
<circle cx="555.3" cy="350.1" r="2.15" fill="#006400"/>
<circle cx="555.3" cy="345.1" r="2.15" fill="#006400"/>
<circle cx="555.1" cy="340.1" r="2.15" fill="#006400"/>
<circle cx="554.9" cy="335.1" r="2.15" fill="#006400"/>
<circle cx="554.8" cy="330.1" r="2.15" fill="#006400"/>
<circle cx="78.4" cy="252.5" r="2.15" fill="#006400"/>
<circle cx="75.2" cy="256.4" r="2.15" fill="#006400"/>
<circle cx="72.1" cy="260.2" r="2.15" fill="#006400"/>
<circle cx="68.9" cy="264.1" r="2.15" fill="#006400"/>
<circle cx="65.8" cy="268.0" r="2.15" fill="#006400"/>
<circle cx="62.6" cy="271.9" r="2.15" fill="#006400"/>
<circle cx="59.5" cy="275.8" r="2.15" fill="#006400"/>
<circle cx="56.4" cy="279.7" r="2.15" fill="#006400"/>
<circle cx="53.3" cy="283.6" r="2.15" fill="#006400"/>
<circle cx="50.2" cy="287.5" r="2.15" fill="#006400"/>
<circle cx="47.0" cy="291.4" r="2.15" fill="#006400"/>
<circle cx="43.9" cy="295.3" r="2.15" fill="#006400"/>
<circle cx="40.8" cy="299.2" r="2.15" fill="#006400"/>
<circle cx="37.7" cy="303.1" r="2.15" fill="#006400"/>
<circle cx="34.5" cy="307.1" r="2.15" fill="#006400"/>
<circle cx="31.4" cy="311.0" r="2.15" fill="#006400"/>
<circle cx="28.2" cy="314.8" r="2.15" fill="#006400"/>
<circle cx="25.1" cy="318.7" r="2.15" fill="#006400"/>
<circle cx="22.2" cy="322.8" r="2.15" fill="#006400"/>
<circle cx="19.5" cy="327.0" r="2.15" fill="#006400"/>
<circle cx="16.8" cy="331.2" r="2.15" fill="#006400"/>
<circle cx="14.0" cy="335.3" r="2.15" fill="#006400"/>
<circle cx="11.1" cy="339.5" r="2.15" fill="#006400"/>
<circle cx="8.2" cy="343.5" r="2.15" fill="#006400"/>
<circle cx="5.3" cy="347.5" r="2.15" fill="#006400"/>
<circle cx="2.2" cy="351.5" r="2.15" fill="#006400"/>
<circle cx="-1.2" cy="355.2" r="2.15" fill="#006400"/>
<circle cx="-4.7" cy="358.7" r="2.15" fill="#006400"/>
<circle cx="-8.3" cy="362.2" r="2.15" fill="#006400"/>
<circle cx="-11.9" cy="365.7" r="2.15" fill="#006400"/>
<circle cx="-15.6" cy="369.1" r="2.15" fill="#006400"/>
<circle cx="-19.7" cy="371.9" r="2.15" fill="#006400"/>
<circle cx="-23.7" cy="369.7" r="2.15" fill="#006400"/>
<circle cx="-25.4" cy="365.0" r="2.15" fill="#006400"/>
<circle cx="-26.2" cy="360.1" r="2.15" fill="#006400"/>
<circle cx="-26.6" cy="355.1" r="2.15" fill="#006400"/>
<circle cx="-26.9" cy="350.1" r="2.15" fill="#006400"/>
<circle cx="-26.9" cy="345.1" r="2.15" fill="#006400"/>
<circle cx="-26.7" cy="340.1" r="2.15" fill="#006400"/>
<circle cx="-26.5" cy="335.1" r="2.15" fill="#006400"/>
<circle cx="-26.4" cy="330.1" r="2.15" fill="#006400"/>
<polyline points="572.4,468.8 572.4,466.7 572.4,463.6 572.4,460.0 572.4,456.3 572.4,452.8 572.4,450.0 572.4,447.7 572.3,445.6 572.3,443.8 572.3,442.2 572.3,441.0 572.5,440.0 572.7,439.5 573.0,439.4 573.4,439.6 573.8,439.9 574.3,440.2 575.0,440.3 575.9,440.1 576.9,439.9 578.0,439.6 579.2,439.3 580.4,439.1 581.5,439.0 582.6,439.1 583.8,439.2 584.9,439.4 586.0,439.7 587.1,440.1 588.1,440.7 589.0,441.4 589.9,442.3 590.8,443.3 591.5,444.4 592.3,445.4 593.0,446.5 593.7,447.5 594.3,448.5 594.9,449.6 595.4,450.7 595.9,451.8 596.3,453.0 596.6,454.3 596.9,455.6 597.2,457.0 597.3,458.5 597.5,459.9 597.6,461.3 597.7,462.7 597.7,464.0 597.7,465.4 597.7,466.8 597.6,468.2 597.6,469.6 597.6,471.2 597.5,472.9 597.4,474.7 597.3,476.3 597.2,477.7 597.2,478.7" fill="none" stroke="#006400" stroke-width="4.2" stroke-linejoin="round" stroke-linecap="round"/>
<polyline points="615.3,278.0 615.3,280.3 615.3,283.4 615.2,287.1 615.2,291.3 615.1,295.6 615.1,300.0 615.1,304.5 615.0,309.4 615.0,314.5 614.9,319.7 614.9,324.9 614.8,330.0 614.8,335.0 614.7,340.0 614.6,345.0 614.6,350.0 614.5,355.0 614.5,360.0 614.4,365.2 614.4,370.6 614.3,375.9 614.3,381.1 614.2,385.9 614.2,390.0 614.2,393.4 614.1,396.4 614.1,398.9 614.1,401.1 614.2,403.1 614.3,405.0 614.5,406.8 614.8,408.5 615.2,409.9 615.5,411.2 615.8,412.2 616.0,413.0" fill="none" stroke="#006400" stroke-width="2.2" stroke-linejoin="round" stroke-linecap="round"/>
<polyline points="616.0,416.0 616.4,416.8 616.9,418.0 617.6,419.5 618.3,420.9 619.1,422.3 620.0,423.5 620.9,424.5 621.9,425.3 622.9,426.1 624.0,426.8 625.2,427.5 626.4,428.2 627.7,428.9 629.2,429.6 630.7,430.2 632.3,430.8 633.9,431.4 635.4,432.0 636.9,432.5 638.5,433.0 640.0,433.5 641.5,434.0 643.0,434.4 644.4,434.8 645.6,435.1 646.7,435.4 647.7,435.6 648.8,435.8 650.2,436.1 652.0,436.5 654.3,437.0 657.0,437.6 659.9,438.3 663.1,439.0 666.3,439.7 669.4,440.2 672.3,440.6 675.2,441.0 678.0,441.3 681.1,441.6 684.7,441.9 689.0,442.2 694.3,442.5 700.5,442.7 707.2,443.0 713.9,443.2 720.1,443.5 725.3,443.8 729.4,444.2 732.9,444.6 735.8,445.1 738.5,445.6 741.2,446.1 744.0,446.5 746.8,446.9 749.2,447.2 751.6,447.5 754.2,447.8 757.5,448.3 761.6,448.8 766.8,449.5 773.0,450.3 779.7,451.1 786.6,452.1 793.5,453.0 800.0,453.8 806.1,454.6 812.2,455.5 818.2,456.3 824.1,457.1 829.9,457.8 835.5,458.5 841.1,459.1 846.9,459.6 852.4,460.1 857.6,460.6 862.2,461.0 866.0,461.5 868.8,462.0 870.8,462.5 872.2,462.9 873.1,463.4 873.8,463.7 874.5,464.0" fill="none" stroke="#006400" stroke-width="4.8" stroke-linejoin="round" stroke-linecap="round"/>
<polyline points="875.2,451.0 875.2,474.0" fill="none" stroke="#006400" stroke-width="3.5" stroke-linejoin="round" stroke-linecap="round"/>
<polyline points="893.0,435.4 893.0,454.3 906.0,454.6" fill="none" stroke="#006400" stroke-width="4.2" stroke-linejoin="round" stroke-linecap="round"/>
<polyline points="95.5,88.6 95.6,89.9 95.6,91.6 95.8,93.6 95.9,95.8 96.0,98.0 96.2,100.0 96.4,101.8 96.6,103.7 96.9,105.5 97.2,107.2 97.5,108.9 97.8,110.5 98.2,112.0 98.5,113.4 98.9,114.8 99.4,116.1 99.8,117.3 100.3,118.3 100.8,119.2 101.3,120.1 101.9,120.8 102.5,121.5 103.0,121.9 103.6,122.2 104.1,122.3 104.7,122.3 105.2,122.1 105.8,121.7 106.3,121.1 106.8,120.4 107.3,119.4 107.8,118.1 108.3,116.7 108.7,115.1 109.2,113.5 109.6,112.0 110.0,110.5 110.3,108.9 110.7,107.3 111.0,105.6 111.2,104.0 111.5,102.4 111.7,100.7 111.9,98.8 112.1,97.0 112.3,95.3 112.4,93.8 112.5,92.8" fill="none" stroke="#ff8000" stroke-width="4.8" stroke-linejoin="round" stroke-linecap="round"/>
<polyline points="432.9,88.6 432.8,89.9 432.8,91.6 432.6,93.6 432.5,95.8 432.4,98.0 432.2,100.0 432.0,101.8 431.8,103.7 431.5,105.5 431.2,107.2 430.9,108.9 430.6,110.5 430.2,112.0 429.9,113.4 429.5,114.8 429.0,116.1 428.6,117.3 428.1,118.3 427.6,119.2 427.1,120.1 426.5,120.8 425.9,121.5 425.4,121.9 424.8,122.2 424.3,122.3 423.7,122.3 423.2,122.1 422.6,121.7 422.1,121.1 421.6,120.4 421.1,119.4 420.6,118.1 420.1,116.7 419.7,115.1 419.2,113.5 418.8,112.0 418.4,110.5 418.1,108.9 417.7,107.3 417.4,105.6 417.2,104.0 416.9,102.4 416.7,100.7 416.5,98.8 416.3,97.0 416.1,95.3 416.0,93.8 415.9,92.8" fill="none" stroke="#ff8000" stroke-width="4.8" stroke-linejoin="round" stroke-linecap="round"/>
<circle cx="95.2" cy="83.2" r="2.6" fill="#ff8000"/>
<circle cx="95.5" cy="87.5" r="2.6" fill="#ff8000"/>
<circle cx="433.2" cy="83.2" r="2.6" fill="#ff8000"/>
<circle cx="432.9" cy="87.5" r="2.6" fill="#ff8000"/>
<polyline points="387.7,226.2 388.8,225.7 390.2,225.1 391.9,224.3 393.8,223.4 395.7,222.5 397.5,221.7 399.2,220.8 401.0,219.9 402.7,219.0 404.5,218.1 406.2,217.2 408.0,216.5 409.8,215.8 411.6,215.2 413.4,214.6 415.1,214.1 416.8,213.7 418.4,213.5 419.8,213.4 421.1,213.4 422.3,213.5 423.5,213.8 424.7,214.3 426.0,215.0 427.4,216.0 428.9,217.3 430.4,218.8 431.9,220.5 433.5,222.2 435.0,224.0 436.5,225.8 438.0,227.8 439.5,229.8 441.0,231.9 442.5,234.0 444.0,236.0 445.5,238.0 447.1,240.0 448.6,242.0 450.1,244.0 451.6,246.0 453.0,248.0 454.4,250.1 455.9,252.4 457.3,254.8 458.5,256.9 459.6,258.7 460.4,260.0" fill="none" stroke="#ff8000" stroke-width="4.0" stroke-linejoin="round" stroke-linecap="round"/>
<polyline points="140.7,226.2 139.6,225.7 138.2,225.1 136.5,224.3 134.6,223.4 132.7,222.5 130.9,221.7 129.2,220.8 127.4,219.9 125.7,219.0 123.9,218.1 122.2,217.2 120.4,216.5 118.6,215.8 116.8,215.2 115.0,214.6 113.3,214.1 111.6,213.7 110.0,213.5 108.6,213.4 107.3,213.4 106.1,213.5 104.9,213.8 103.7,214.3 102.4,215.0 101.0,216.0 99.5,217.3 98.0,218.8 96.5,220.5 94.9,222.2 93.4,224.0 91.9,225.8 90.4,227.8 88.9,229.8 87.4,231.9 85.9,234.0 84.4,236.0 82.9,238.0 81.3,240.0 79.8,242.0 78.3,244.0 76.8,246.0 75.4,248.0 74.0,250.1 72.5,252.4 71.1,254.8 69.9,256.9 68.8,258.7 68.0,260.0" fill="none" stroke="#ff8000" stroke-width="4.0" stroke-linejoin="round" stroke-linecap="round"/>
<polyline points="405.5,139.8 405.5,142.1 405.6,145.2 405.6,149.0 405.6,152.9 405.7,156.7 405.7,160.0 405.7,162.8 405.7,165.5 405.7,167.9 405.7,170.3 405.7,172.7 405.7,175.0 405.7,177.3 405.7,179.6 405.7,181.8 405.6,184.0 405.6,186.1 405.5,188.0 405.3,189.9 405.1,191.8 404.9,193.6 404.6,195.2 404.4,196.5 404.3,197.5" fill="none" stroke="#ff0000" stroke-width="5.0" stroke-linejoin="round" stroke-linecap="round"/>
<polyline points="122.9,139.8 122.9,142.1 122.8,145.2 122.8,149.0 122.8,152.9 122.7,156.7 122.7,160.0 122.7,162.8 122.7,165.5 122.7,167.9 122.7,170.3 122.7,172.7 122.7,175.0 122.7,177.3 122.7,179.6 122.7,181.8 122.8,184.0 122.8,186.1 122.9,188.0 123.1,189.9 123.3,191.8 123.5,193.6 123.8,195.2 124.0,196.5 124.1,197.5" fill="none" stroke="#ff0000" stroke-width="5.0" stroke-linejoin="round" stroke-linecap="round"/>
<circle cx="405.5" cy="139.8" r="2.6" fill="#ff0000"/>
<circle cx="405.5" cy="142.8" r="2.6" fill="#ff0000"/>
<circle cx="405.6" cy="145.8" r="2.6" fill="#ff0000"/>
<circle cx="405.6" cy="148.8" r="2.6" fill="#ff0000"/>
<circle cx="405.6" cy="151.8" r="2.6" fill="#ff0000"/>
<circle cx="405.7" cy="154.8" r="2.6" fill="#ff0000"/>
<circle cx="405.7" cy="157.8" r="2.6" fill="#ff0000"/>
<circle cx="405.7" cy="160.8" r="2.6" fill="#ff0000"/>
<circle cx="405.7" cy="163.8" r="2.6" fill="#ff0000"/>
<circle cx="405.7" cy="166.8" r="2.6" fill="#ff0000"/>
<circle cx="405.7" cy="169.8" r="2.6" fill="#ff0000"/>
<circle cx="405.7" cy="172.8" r="2.6" fill="#ff0000"/>
<circle cx="405.7" cy="175.8" r="2.6" fill="#ff0000"/>
<circle cx="405.7" cy="178.8" r="2.6" fill="#ff0000"/>
<circle cx="405.7" cy="181.8" r="2.6" fill="#ff0000"/>
<circle cx="405.6" cy="184.8" r="2.6" fill="#ff0000"/>
<circle cx="405.5" cy="187.8" r="2.6" fill="#ff0000"/>
<circle cx="405.2" cy="190.8" r="2.6" fill="#ff0000"/>
<circle cx="404.9" cy="193.8" r="2.6" fill="#ff0000"/>
<circle cx="404.4" cy="196.7" r="2.6" fill="#ff0000"/>
<circle cx="122.9" cy="139.8" r="2.6" fill="#ff0000"/>
<circle cx="122.9" cy="142.8" r="2.6" fill="#ff0000"/>
<circle cx="122.8" cy="145.8" r="2.6" fill="#ff0000"/>
<circle cx="122.8" cy="148.8" r="2.6" fill="#ff0000"/>
<circle cx="122.8" cy="151.8" r="2.6" fill="#ff0000"/>
<circle cx="122.7" cy="154.8" r="2.6" fill="#ff0000"/>
<circle cx="122.7" cy="157.8" r="2.6" fill="#ff0000"/>
<circle cx="122.7" cy="160.8" r="2.6" fill="#ff0000"/>
<circle cx="122.7" cy="163.8" r="2.6" fill="#ff0000"/>
<circle cx="122.7" cy="166.8" r="2.6" fill="#ff0000"/>
<circle cx="122.7" cy="169.8" r="2.6" fill="#ff0000"/>
<circle cx="122.7" cy="172.8" r="2.6" fill="#ff0000"/>
<circle cx="122.7" cy="175.8" r="2.6" fill="#ff0000"/>
<circle cx="122.7" cy="178.8" r="2.6" fill="#ff0000"/>
<circle cx="122.7" cy="181.8" r="2.6" fill="#ff0000"/>
<circle cx="122.8" cy="184.8" r="2.6" fill="#ff0000"/>
<circle cx="122.9" cy="187.8" r="2.6" fill="#ff0000"/>
<circle cx="123.2" cy="190.8" r="2.6" fill="#ff0000"/>
<circle cx="123.5" cy="193.8" r="2.6" fill="#ff0000"/>
<circle cx="124.0" cy="196.7" r="2.6" fill="#ff0000"/>
<polyline points="404.3,197.5 404.1,198.3 403.8,199.4 403.4,200.7 403.0,202.1 402.5,203.4 402.0,204.5 401.5,205.5 400.8,206.4 400.2,207.2 399.5,208.0 398.8,208.8 398.2,209.5 397.6,210.1 397.2,210.6 396.7,211.1 396.1,211.5 395.4,212.0 394.5,212.7 393.3,213.5 391.9,214.5 390.4,215.5 388.8,216.5 387.1,217.5 385.5,218.5 383.9,219.4 382.3,220.2 380.6,221.1 378.9,221.9 377.0,222.7 375.0,223.6 372.8,224.5 370.3,225.5 367.8,226.4 365.2,227.4 362.6,228.3 360.0,229.2 357.4,230.0 354.8,230.8 352.1,231.5 349.6,232.2 347.2,232.9 345.0,233.5 343.2,234.1 341.7,234.6 340.4,235.1 339.1,235.5 337.7,236.0 336.0,236.5 334.0,237.0 331.9,237.6 329.6,238.2 327.3,238.7 325.1,239.4 322.9,240.0 320.8,240.7 318.7,241.4 316.5,242.2 314.5,243.0 312.6,243.7 310.9,244.5 309.4,245.2 308.0,246.0 306.7,246.8 305.5,247.5 304.4,248.2 303.4,249.0 302.5,249.7 301.6,250.4 300.9,251.2 300.2,251.9 299.5,252.7 298.9,253.5 298.3,254.4 297.8,255.3 297.3,256.3 296.8,257.3 296.3,258.4 295.9,259.5 295.5,260.6 295.1,261.8 294.7,263.1 294.4,264.3 294.0,265.6 293.7,267.0 293.4,268.5 293.1,270.2 292.8,272.0 292.6,273.6 292.4,275.0 292.2,276.0" fill="none" stroke="#ff0000" stroke-width="4.0" stroke-linejoin="round" stroke-linecap="round"/>
<polyline points="124.1,197.5 124.3,198.3 124.6,199.4 125.0,200.7 125.4,202.1 125.9,203.4 126.4,204.5 126.9,205.5 127.6,206.4 128.2,207.2 128.9,208.0 129.6,208.8 130.2,209.5 130.8,210.1 131.2,210.6 131.7,211.1 132.3,211.5 133.0,212.0 133.9,212.7 135.1,213.5 136.5,214.5 138.0,215.5 139.6,216.5 141.3,217.5 142.9,218.5 144.5,219.4 146.1,220.2 147.8,221.1 149.5,221.9 151.4,222.7 153.4,223.6 155.6,224.5 158.1,225.5 160.6,226.4 163.2,227.4 165.8,228.3 168.4,229.2 171.0,230.0 173.6,230.8 176.3,231.5 178.8,232.2 181.2,232.9 183.4,233.5 185.2,234.1 186.7,234.6 188.0,235.1 189.3,235.5 190.7,236.0 192.4,236.5 194.4,237.0 196.5,237.6 198.8,238.2 201.1,238.7 203.3,239.4 205.5,240.0 207.6,240.7 209.7,241.4 211.9,242.2 213.9,243.0 215.8,243.7 217.5,244.5 219.0,245.2 220.4,246.0 221.7,246.8 222.9,247.5 224.0,248.2 225.0,249.0 225.9,249.7 226.8,250.4 227.5,251.2 228.2,251.9 228.9,252.7 229.5,253.5 230.1,254.4 230.6,255.3 231.1,256.3 231.6,257.3 232.1,258.4 232.5,259.5 232.9,260.6 233.3,261.8 233.7,263.1 234.0,264.3 234.4,265.6 234.7,267.0 235.0,268.5 235.3,270.2 235.6,272.0 235.8,273.6 236.0,275.0 236.2,276.0" fill="none" stroke="#ff0000" stroke-width="4.0" stroke-linejoin="round" stroke-linecap="round"/>
<circle cx="404.3" cy="197.5" r="2.3" fill="#ff0000"/>
<circle cx="403.5" cy="200.4" r="2.3" fill="#ff0000"/>
<circle cx="402.5" cy="203.2" r="2.3" fill="#ff0000"/>
<circle cx="401.2" cy="205.9" r="2.3" fill="#ff0000"/>
<circle cx="399.3" cy="208.3" r="2.3" fill="#ff0000"/>
<circle cx="397.3" cy="210.5" r="2.3" fill="#ff0000"/>
<circle cx="395.0" cy="212.4" r="2.3" fill="#ff0000"/>
<circle cx="392.5" cy="214.1" r="2.3" fill="#ff0000"/>
<circle cx="390.0" cy="215.7" r="2.3" fill="#ff0000"/>
<circle cx="387.5" cy="217.3" r="2.3" fill="#ff0000"/>
<circle cx="384.9" cy="218.8" r="2.3" fill="#ff0000"/>
<circle cx="382.2" cy="220.3" r="2.3" fill="#ff0000"/>
<circle cx="379.5" cy="221.6" r="2.3" fill="#ff0000"/>
<circle cx="376.8" cy="222.8" r="2.3" fill="#ff0000"/>
<circle cx="374.1" cy="224.0" r="2.3" fill="#ff0000"/>
<circle cx="371.3" cy="225.1" r="2.3" fill="#ff0000"/>
<circle cx="368.5" cy="226.2" r="2.3" fill="#ff0000"/>
<circle cx="365.7" cy="227.2" r="2.3" fill="#ff0000"/>
<circle cx="362.8" cy="228.2" r="2.3" fill="#ff0000"/>
<circle cx="360.0" cy="229.2" r="2.3" fill="#ff0000"/>
<circle cx="357.1" cy="230.1" r="2.3" fill="#ff0000"/>
<circle cx="354.2" cy="230.9" r="2.3" fill="#ff0000"/>
<circle cx="351.4" cy="231.7" r="2.3" fill="#ff0000"/>
<circle cx="348.5" cy="232.5" r="2.3" fill="#ff0000"/>
<circle cx="345.6" cy="233.3" r="2.3" fill="#ff0000"/>
<circle cx="342.7" cy="234.2" r="2.3" fill="#ff0000"/>
<circle cx="339.9" cy="235.2" r="2.3" fill="#ff0000"/>
<circle cx="337.0" cy="236.2" r="2.3" fill="#ff0000"/>
<circle cx="334.2" cy="237.0" r="2.3" fill="#ff0000"/>
<circle cx="331.2" cy="237.8" r="2.3" fill="#ff0000"/>
<circle cx="328.3" cy="238.5" r="2.3" fill="#ff0000"/>
<circle cx="325.4" cy="239.3" r="2.3" fill="#ff0000"/>
<circle cx="322.6" cy="240.1" r="2.3" fill="#ff0000"/>
<circle cx="319.7" cy="241.1" r="2.3" fill="#ff0000"/>
<circle cx="316.9" cy="242.1" r="2.3" fill="#ff0000"/>
<circle cx="314.1" cy="243.1" r="2.3" fill="#ff0000"/>
<circle cx="311.3" cy="244.3" r="2.3" fill="#ff0000"/>
<circle cx="308.6" cy="245.6" r="2.3" fill="#ff0000"/>
<circle cx="306.1" cy="247.2" r="2.3" fill="#ff0000"/>
<circle cx="303.6" cy="248.9" r="2.3" fill="#ff0000"/>
<circle cx="301.3" cy="250.8" r="2.3" fill="#ff0000"/>
<circle cx="299.3" cy="253.0" r="2.3" fill="#ff0000"/>
<circle cx="297.7" cy="255.5" r="2.3" fill="#ff0000"/>
<circle cx="296.4" cy="258.2" r="2.3" fill="#ff0000"/>
<circle cx="295.3" cy="261.1" r="2.3" fill="#ff0000"/>
<circle cx="294.5" cy="263.9" r="2.3" fill="#ff0000"/>
<circle cx="293.7" cy="266.8" r="2.3" fill="#ff0000"/>
<circle cx="293.2" cy="269.8" r="2.3" fill="#ff0000"/>
<circle cx="292.7" cy="272.7" r="2.3" fill="#ff0000"/>
<circle cx="292.2" cy="275.7" r="2.3" fill="#ff0000"/>
<circle cx="124.1" cy="197.5" r="2.3" fill="#ff0000"/>
<circle cx="124.9" cy="200.4" r="2.3" fill="#ff0000"/>
<circle cx="125.9" cy="203.2" r="2.3" fill="#ff0000"/>
<circle cx="127.2" cy="205.9" r="2.3" fill="#ff0000"/>
<circle cx="129.1" cy="208.3" r="2.3" fill="#ff0000"/>
<circle cx="131.1" cy="210.5" r="2.3" fill="#ff0000"/>
<circle cx="133.4" cy="212.4" r="2.3" fill="#ff0000"/>
<circle cx="135.9" cy="214.1" r="2.3" fill="#ff0000"/>
<circle cx="138.4" cy="215.7" r="2.3" fill="#ff0000"/>
<circle cx="140.9" cy="217.3" r="2.3" fill="#ff0000"/>
<circle cx="143.5" cy="218.8" r="2.3" fill="#ff0000"/>
<circle cx="146.2" cy="220.3" r="2.3" fill="#ff0000"/>
<circle cx="148.9" cy="221.6" r="2.3" fill="#ff0000"/>
<circle cx="151.6" cy="222.8" r="2.3" fill="#ff0000"/>
<circle cx="154.3" cy="224.0" r="2.3" fill="#ff0000"/>
<circle cx="157.1" cy="225.1" r="2.3" fill="#ff0000"/>
<circle cx="159.9" cy="226.2" r="2.3" fill="#ff0000"/>
<circle cx="162.7" cy="227.2" r="2.3" fill="#ff0000"/>
<circle cx="165.6" cy="228.2" r="2.3" fill="#ff0000"/>
<circle cx="168.4" cy="229.2" r="2.3" fill="#ff0000"/>
<circle cx="171.3" cy="230.1" r="2.3" fill="#ff0000"/>
<circle cx="174.2" cy="230.9" r="2.3" fill="#ff0000"/>
<circle cx="177.0" cy="231.7" r="2.3" fill="#ff0000"/>
<circle cx="179.9" cy="232.5" r="2.3" fill="#ff0000"/>
<circle cx="182.8" cy="233.3" r="2.3" fill="#ff0000"/>
<circle cx="185.7" cy="234.2" r="2.3" fill="#ff0000"/>
<circle cx="188.5" cy="235.2" r="2.3" fill="#ff0000"/>
<circle cx="191.4" cy="236.2" r="2.3" fill="#ff0000"/>
<circle cx="194.2" cy="237.0" r="2.3" fill="#ff0000"/>
<circle cx="197.2" cy="237.8" r="2.3" fill="#ff0000"/>
<circle cx="200.1" cy="238.5" r="2.3" fill="#ff0000"/>
<circle cx="203.0" cy="239.3" r="2.3" fill="#ff0000"/>
<circle cx="205.8" cy="240.1" r="2.3" fill="#ff0000"/>
<circle cx="208.7" cy="241.1" r="2.3" fill="#ff0000"/>
<circle cx="211.5" cy="242.1" r="2.3" fill="#ff0000"/>
<circle cx="214.3" cy="243.1" r="2.3" fill="#ff0000"/>
<circle cx="217.1" cy="244.3" r="2.3" fill="#ff0000"/>
<circle cx="219.8" cy="245.6" r="2.3" fill="#ff0000"/>
<circle cx="222.3" cy="247.2" r="2.3" fill="#ff0000"/>
<circle cx="224.8" cy="248.9" r="2.3" fill="#ff0000"/>
<circle cx="227.1" cy="250.8" r="2.3" fill="#ff0000"/>
<circle cx="229.1" cy="253.0" r="2.3" fill="#ff0000"/>
<circle cx="230.7" cy="255.5" r="2.3" fill="#ff0000"/>
<circle cx="232.0" cy="258.2" r="2.3" fill="#ff0000"/>
<circle cx="233.1" cy="261.1" r="2.3" fill="#ff0000"/>
<circle cx="233.9" cy="263.9" r="2.3" fill="#ff0000"/>
<circle cx="234.7" cy="266.8" r="2.3" fill="#ff0000"/>
<circle cx="235.2" cy="269.8" r="2.3" fill="#ff0000"/>
<circle cx="235.7" cy="272.7" r="2.3" fill="#ff0000"/>
<circle cx="236.2" cy="275.7" r="2.3" fill="#ff0000"/>
<polyline points="292.2,276.0 292.1,277.5 291.9,279.6 291.6,282.1 291.4,284.7 291.2,287.4 291.0,290.0 290.9,292.5 290.8,295.1 290.8,297.7 290.8,300.3 290.7,302.7 290.7,305.0 290.7,307.2 290.6,309.4 290.6,311.4 290.6,313.3 290.6,314.8 290.6,316.0" fill="none" stroke="#ff0000" stroke-width="4.0" stroke-linejoin="round" stroke-linecap="round"/>
<polyline points="236.2,276.0 236.3,277.5 236.5,279.6 236.8,282.1 237.0,284.7 237.2,287.4 237.4,290.0 237.5,292.5 237.6,295.1 237.6,297.7 237.6,300.3 237.7,302.7 237.7,305.0 237.7,307.2 237.8,309.4 237.8,311.4 237.8,313.3 237.8,314.8 237.8,316.0" fill="none" stroke="#ff0000" stroke-width="4.0" stroke-linejoin="round" stroke-linecap="round"/>
<circle cx="292.2" cy="276.0" r="2.5" fill="#ff0000"/>
<circle cx="291.9" cy="279.0" r="2.5" fill="#ff0000"/>
<circle cx="291.6" cy="282.0" r="2.5" fill="#ff0000"/>
<circle cx="291.4" cy="285.0" r="2.5" fill="#ff0000"/>
<circle cx="291.1" cy="288.0" r="2.5" fill="#ff0000"/>
<circle cx="291.0" cy="290.9" r="2.5" fill="#ff0000"/>
<circle cx="290.9" cy="293.9" r="2.5" fill="#ff0000"/>
<circle cx="290.8" cy="296.9" r="2.5" fill="#ff0000"/>
<circle cx="290.8" cy="299.9" r="2.5" fill="#ff0000"/>
<circle cx="290.7" cy="302.9" r="2.5" fill="#ff0000"/>
<circle cx="290.7" cy="305.9" r="2.5" fill="#ff0000"/>
<circle cx="290.7" cy="308.9" r="2.5" fill="#ff0000"/>
<circle cx="290.6" cy="311.9" r="2.5" fill="#ff0000"/>
<circle cx="290.6" cy="314.9" r="2.5" fill="#ff0000"/>
<circle cx="236.2" cy="276.0" r="2.5" fill="#ff0000"/>
<circle cx="236.5" cy="279.0" r="2.5" fill="#ff0000"/>
<circle cx="236.8" cy="282.0" r="2.5" fill="#ff0000"/>
<circle cx="237.0" cy="285.0" r="2.5" fill="#ff0000"/>
<circle cx="237.3" cy="288.0" r="2.5" fill="#ff0000"/>
<circle cx="237.4" cy="290.9" r="2.5" fill="#ff0000"/>
<circle cx="237.5" cy="293.9" r="2.5" fill="#ff0000"/>
<circle cx="237.6" cy="296.9" r="2.5" fill="#ff0000"/>
<circle cx="237.6" cy="299.9" r="2.5" fill="#ff0000"/>
<circle cx="237.7" cy="302.9" r="2.5" fill="#ff0000"/>
<circle cx="237.7" cy="305.9" r="2.5" fill="#ff0000"/>
<circle cx="237.7" cy="308.9" r="2.5" fill="#ff0000"/>
<circle cx="237.8" cy="311.9" r="2.5" fill="#ff0000"/>
<circle cx="237.8" cy="314.9" r="2.5" fill="#ff0000"/>
<polyline points="290.6,316.0 290.2,400.0 290.3,470.0 291.2,520.0 291.6,545.0" fill="none" stroke="#ff0000" stroke-width="1.6" stroke-linejoin="round" stroke-linecap="round"/>
<polyline points="237.8,316.0 238.2,400.0 238.1,470.0 237.2,520.0 236.8,545.0" fill="none" stroke="#ff0000" stroke-width="1.6" stroke-linejoin="round" stroke-linecap="round"/>
<polyline points="333.2,231.5 333.2,247.5" fill="none" stroke="#ff0000" stroke-width="7.2" stroke-linejoin="round" stroke-linecap="round"/>
<polyline points="195.2,231.5 195.2,247.5" fill="none" stroke="#ff0000" stroke-width="7.2" stroke-linejoin="round" stroke-linecap="round"/>
<polyline points="264.2,119.0 264.8,119.2 265.4,119.6 266.1,120.3 266.7,121.4 267.3,122.7 267.8,124.3 268.4,126.1 268.9,128.2 269.4,130.6 269.9,133.1 270.4,135.8 270.8,138.8 271.2,141.8 271.5,145.0 271.8,148.3 272.0,151.6 272.2,155.1 272.3,158.5 272.4,161.9 272.3,165.4 272.3,168.7 272.1,172.0 271.9,175.2 271.6,178.2 271.3,181.2 270.9,183.9 270.4,186.4 269.9,188.8 269.3,190.9 268.7,192.7 268.0,194.3 267.3,195.6 266.5,196.7 265.8,197.4 265.0,197.8 264.2,198.0 263.4,197.8 262.6,197.4 261.9,196.7 261.1,195.6 260.4,194.3 259.7,192.7 259.1,190.9 258.5,188.8 258.0,186.4 257.5,183.9 257.1,181.2 256.8,178.3 256.5,175.2 256.3,172.0 256.1,168.7 256.1,165.4 256.0,161.9 256.1,158.5 256.2,155.1 256.4,151.6 256.6,148.3 256.9,145.0 257.2,141.8 257.6,138.8 258.0,135.8 258.5,133.1 259.0,130.6 259.5,128.2 260.0,126.1 260.6,124.3 261.1,122.7 261.7,121.4 262.3,120.3 263.0,119.6 263.6,119.2 264.2,119.0" fill="none" stroke="#ff0000" stroke-width="4.9" stroke-linejoin="round" stroke-linecap="round"/>
<polyline points="292.0,316.0 291.6,400.0 291.7,470.0 292.6,520.0 293.0,545.0" fill="none" stroke="#006400" stroke-width="1.4" stroke-linejoin="round" stroke-linecap="round"/>
<polyline points="236.4,316.0 236.8,400.0 236.7,470.0 235.8,520.0 235.4,545.0" fill="none" stroke="#006400" stroke-width="1.4" stroke-linejoin="round" stroke-linecap="round"/>
<circle cx="292.0" cy="318.2" r="1.9" fill="#006400"/>
<circle cx="292.0" cy="323.0" r="1.9" fill="#006400"/>
<circle cx="291.9" cy="328.2" r="1.9" fill="#006400"/>
<circle cx="291.9" cy="334.0" r="1.9" fill="#006400"/>
<circle cx="291.9" cy="340.2" r="1.9" fill="#006400"/>
<circle cx="291.9" cy="347.0" r="1.9" fill="#006400"/>
<circle cx="291.8" cy="354.2" r="1.9" fill="#006400"/>
<circle cx="291.8" cy="362.2" r="1.9" fill="#006400"/>
<circle cx="291.7" cy="371.2" r="1.9" fill="#006400"/>
<circle cx="291.7" cy="381.2" r="1.9" fill="#006400"/>
<circle cx="291.6" cy="392.0" r="1.9" fill="#006400"/>
<circle cx="291.6" cy="402.8" r="1.9" fill="#006400"/>
<circle cx="291.6" cy="413.0" r="1.9" fill="#006400"/>
<circle cx="291.6" cy="422.9" r="1.9" fill="#006400"/>
<circle cx="291.6" cy="432.1" r="1.9" fill="#006400"/>
<circle cx="291.7" cy="440.4" r="1.9" fill="#006400"/>
<circle cx="291.7" cy="447.7" r="1.9" fill="#006400"/>
<circle cx="291.7" cy="453.9" r="1.9" fill="#006400"/>
<circle cx="291.7" cy="459.2" r="1.9" fill="#006400"/>
<circle cx="291.7" cy="464.0" r="1.9" fill="#006400"/>
<circle cx="291.7" cy="468.5" r="1.9" fill="#006400"/>
<circle cx="291.7" cy="472.6" r="1.9" fill="#006400"/>
<circle cx="291.8" cy="476.6" r="1.9" fill="#006400"/>
<circle cx="291.9" cy="480.6" r="1.9" fill="#006400"/>
<circle cx="292.0" cy="484.6" r="1.9" fill="#006400"/>
<circle cx="292.0" cy="488.6" r="1.9" fill="#006400"/>
<circle cx="292.1" cy="492.6" r="1.9" fill="#006400"/>
<circle cx="292.2" cy="496.6" r="1.9" fill="#006400"/>
<circle cx="292.3" cy="500.6" r="1.9" fill="#006400"/>
<circle cx="292.3" cy="504.6" r="1.9" fill="#006400"/>
<circle cx="292.4" cy="508.6" r="1.9" fill="#006400"/>
<circle cx="292.5" cy="512.6" r="1.9" fill="#006400"/>
<circle cx="292.5" cy="516.6" r="1.9" fill="#006400"/>
<circle cx="292.6" cy="520.6" r="1.9" fill="#006400"/>
<circle cx="292.7" cy="524.6" r="1.9" fill="#006400"/>
<circle cx="292.7" cy="528.6" r="1.9" fill="#006400"/>
<circle cx="292.8" cy="532.6" r="1.9" fill="#006400"/>
<circle cx="292.9" cy="536.6" r="1.9" fill="#006400"/>
<circle cx="292.9" cy="540.6" r="1.9" fill="#006400"/>
<circle cx="236.4" cy="318.2" r="1.9" fill="#006400"/>
<circle cx="236.4" cy="323.0" r="1.9" fill="#006400"/>
<circle cx="236.5" cy="328.2" r="1.9" fill="#006400"/>
<circle cx="236.5" cy="334.0" r="1.9" fill="#006400"/>
<circle cx="236.5" cy="340.2" r="1.9" fill="#006400"/>
<circle cx="236.5" cy="347.0" r="1.9" fill="#006400"/>
<circle cx="236.6" cy="354.2" r="1.9" fill="#006400"/>
<circle cx="236.6" cy="362.2" r="1.9" fill="#006400"/>
<circle cx="236.7" cy="371.2" r="1.9" fill="#006400"/>
<circle cx="236.7" cy="381.2" r="1.9" fill="#006400"/>
<circle cx="236.8" cy="392.0" r="1.9" fill="#006400"/>
<circle cx="236.8" cy="402.8" r="1.9" fill="#006400"/>
<circle cx="236.8" cy="413.0" r="1.9" fill="#006400"/>
<circle cx="236.8" cy="422.9" r="1.9" fill="#006400"/>
<circle cx="236.8" cy="432.1" r="1.9" fill="#006400"/>
<circle cx="236.7" cy="440.4" r="1.9" fill="#006400"/>
<circle cx="236.7" cy="447.7" r="1.9" fill="#006400"/>
<circle cx="236.7" cy="453.9" r="1.9" fill="#006400"/>
<circle cx="236.7" cy="459.2" r="1.9" fill="#006400"/>
<circle cx="236.7" cy="464.0" r="1.9" fill="#006400"/>
<circle cx="236.7" cy="468.5" r="1.9" fill="#006400"/>
<circle cx="236.7" cy="472.6" r="1.9" fill="#006400"/>
<circle cx="236.6" cy="476.6" r="1.9" fill="#006400"/>
<circle cx="236.5" cy="480.6" r="1.9" fill="#006400"/>
<circle cx="236.4" cy="484.6" r="1.9" fill="#006400"/>
<circle cx="236.4" cy="488.6" r="1.9" fill="#006400"/>
<circle cx="236.3" cy="492.6" r="1.9" fill="#006400"/>
<circle cx="236.2" cy="496.6" r="1.9" fill="#006400"/>
<circle cx="236.1" cy="500.6" r="1.9" fill="#006400"/>
<circle cx="236.1" cy="504.6" r="1.9" fill="#006400"/>
<circle cx="236.0" cy="508.6" r="1.9" fill="#006400"/>
<circle cx="235.9" cy="512.6" r="1.9" fill="#006400"/>
<circle cx="235.9" cy="516.6" r="1.9" fill="#006400"/>
<circle cx="235.8" cy="520.6" r="1.9" fill="#006400"/>
<circle cx="235.7" cy="524.6" r="1.9" fill="#006400"/>
<circle cx="235.7" cy="528.6" r="1.9" fill="#006400"/>
<circle cx="235.6" cy="532.6" r="1.9" fill="#006400"/>
<circle cx="235.5" cy="536.6" r="1.9" fill="#006400"/>
<circle cx="235.5" cy="540.6" r="1.9" fill="#006400"/>
<circle cx="290.6" cy="316.0" r="2.35" fill="#ff0000"/>
<circle cx="290.6" cy="320.5" r="2.35" fill="#ff0000"/>
<circle cx="290.6" cy="325.5" r="2.35" fill="#ff0000"/>
<circle cx="290.5" cy="331.0" r="2.35" fill="#ff0000"/>
<circle cx="290.5" cy="337.0" r="2.35" fill="#ff0000"/>
<circle cx="290.5" cy="343.5" r="2.35" fill="#ff0000"/>
<circle cx="290.4" cy="350.5" r="2.35" fill="#ff0000"/>
<circle cx="290.4" cy="358.0" r="2.35" fill="#ff0000"/>
<circle cx="290.4" cy="366.5" r="2.35" fill="#ff0000"/>
<circle cx="290.3" cy="376.0" r="2.35" fill="#ff0000"/>
<circle cx="290.3" cy="386.5" r="2.35" fill="#ff0000"/>
<circle cx="290.2" cy="397.5" r="2.35" fill="#ff0000"/>
<circle cx="290.2" cy="408.0" r="2.35" fill="#ff0000"/>
<circle cx="290.2" cy="418.0" r="2.35" fill="#ff0000"/>
<circle cx="290.2" cy="427.8" r="2.35" fill="#ff0000"/>
<circle cx="290.3" cy="436.4" r="2.35" fill="#ff0000"/>
<circle cx="290.3" cy="444.3" r="2.35" fill="#ff0000"/>
<circle cx="290.3" cy="451.1" r="2.35" fill="#ff0000"/>
<circle cx="290.3" cy="456.7" r="2.35" fill="#ff0000"/>
<circle cx="290.3" cy="461.7" r="2.35" fill="#ff0000"/>
<circle cx="290.3" cy="466.3" r="2.35" fill="#ff0000"/>
<circle cx="290.3" cy="470.6" r="2.35" fill="#ff0000"/>
<circle cx="290.4" cy="474.6" r="2.35" fill="#ff0000"/>
<circle cx="290.5" cy="478.6" r="2.35" fill="#ff0000"/>
<circle cx="290.5" cy="482.6" r="2.35" fill="#ff0000"/>
<circle cx="290.6" cy="486.6" r="2.35" fill="#ff0000"/>
<circle cx="290.7" cy="490.6" r="2.35" fill="#ff0000"/>
<circle cx="290.7" cy="494.6" r="2.35" fill="#ff0000"/>
<circle cx="290.8" cy="498.6" r="2.35" fill="#ff0000"/>
<circle cx="290.9" cy="502.6" r="2.35" fill="#ff0000"/>
<circle cx="291.0" cy="506.6" r="2.35" fill="#ff0000"/>
<circle cx="291.0" cy="510.6" r="2.35" fill="#ff0000"/>
<circle cx="291.1" cy="514.6" r="2.35" fill="#ff0000"/>
<circle cx="291.2" cy="518.6" r="2.35" fill="#ff0000"/>
<circle cx="291.2" cy="522.6" r="2.35" fill="#ff0000"/>
<circle cx="291.3" cy="526.6" r="2.35" fill="#ff0000"/>
<circle cx="291.4" cy="530.6" r="2.35" fill="#ff0000"/>
<circle cx="291.4" cy="534.6" r="2.35" fill="#ff0000"/>
<circle cx="291.5" cy="538.6" r="2.35" fill="#ff0000"/>
<circle cx="291.6" cy="542.6" r="2.35" fill="#ff0000"/>
<circle cx="237.8" cy="316.0" r="2.35" fill="#ff0000"/>
<circle cx="237.8" cy="320.5" r="2.35" fill="#ff0000"/>
<circle cx="237.8" cy="325.5" r="2.35" fill="#ff0000"/>
<circle cx="237.9" cy="331.0" r="2.35" fill="#ff0000"/>
<circle cx="237.9" cy="337.0" r="2.35" fill="#ff0000"/>
<circle cx="237.9" cy="343.5" r="2.35" fill="#ff0000"/>
<circle cx="238.0" cy="350.5" r="2.35" fill="#ff0000"/>
<circle cx="238.0" cy="358.0" r="2.35" fill="#ff0000"/>
<circle cx="238.0" cy="366.5" r="2.35" fill="#ff0000"/>
<circle cx="238.1" cy="376.0" r="2.35" fill="#ff0000"/>
<circle cx="238.1" cy="386.5" r="2.35" fill="#ff0000"/>
<circle cx="238.2" cy="397.5" r="2.35" fill="#ff0000"/>
<circle cx="238.2" cy="408.0" r="2.35" fill="#ff0000"/>
<circle cx="238.2" cy="418.0" r="2.35" fill="#ff0000"/>
<circle cx="238.2" cy="427.8" r="2.35" fill="#ff0000"/>
<circle cx="238.1" cy="436.4" r="2.35" fill="#ff0000"/>
<circle cx="238.1" cy="444.3" r="2.35" fill="#ff0000"/>
<circle cx="238.1" cy="451.1" r="2.35" fill="#ff0000"/>
<circle cx="238.1" cy="456.7" r="2.35" fill="#ff0000"/>
<circle cx="238.1" cy="461.7" r="2.35" fill="#ff0000"/>
<circle cx="238.1" cy="466.3" r="2.35" fill="#ff0000"/>
<circle cx="238.1" cy="470.6" r="2.35" fill="#ff0000"/>
<circle cx="238.0" cy="474.6" r="2.35" fill="#ff0000"/>
<circle cx="237.9" cy="478.6" r="2.35" fill="#ff0000"/>
<circle cx="237.9" cy="482.6" r="2.35" fill="#ff0000"/>
<circle cx="237.8" cy="486.6" r="2.35" fill="#ff0000"/>
<circle cx="237.7" cy="490.6" r="2.35" fill="#ff0000"/>
<circle cx="237.7" cy="494.6" r="2.35" fill="#ff0000"/>
<circle cx="237.6" cy="498.6" r="2.35" fill="#ff0000"/>
<circle cx="237.5" cy="502.6" r="2.35" fill="#ff0000"/>
<circle cx="237.4" cy="506.6" r="2.35" fill="#ff0000"/>
<circle cx="237.4" cy="510.6" r="2.35" fill="#ff0000"/>
<circle cx="237.3" cy="514.6" r="2.35" fill="#ff0000"/>
<circle cx="237.2" cy="518.6" r="2.35" fill="#ff0000"/>
<circle cx="237.2" cy="522.6" r="2.35" fill="#ff0000"/>
<circle cx="237.1" cy="526.6" r="2.35" fill="#ff0000"/>
<circle cx="237.0" cy="530.6" r="2.35" fill="#ff0000"/>
<circle cx="237.0" cy="534.6" r="2.35" fill="#ff0000"/>
<circle cx="236.9" cy="538.6" r="2.35" fill="#ff0000"/>
<circle cx="236.8" cy="542.6" r="2.35" fill="#ff0000"/>
<polyline points="443.9,197.3 443.9,197.9 443.9,198.7 443.9,199.6 443.9,200.6 443.8,201.8 443.8,203.0 443.7,204.3 443.6,205.8 443.5,207.4 443.3,209.0 443.3,210.5 443.3,212.0 443.4,213.3 443.5,214.6 443.7,215.8 443.9,217.0 444.3,218.2 444.7,219.5 445.2,220.8 445.9,222.2 446.6,223.6 447.4,225.0 448.2,226.5 449.0,227.9 449.8,229.4 450.5,230.9 451.3,232.5 452.1,234.0 452.8,235.5 453.6,236.9 454.3,238.2 455.1,239.5 455.8,240.7 456.5,241.9 457.3,243.1 458.0,244.4 458.8,245.7 459.5,247.0 460.3,248.4 461.1,249.8 461.9,251.1 462.6,252.4 463.3,253.7 464.0,254.9 464.6,256.2 465.3,257.4 465.9,258.7 466.6,259.9 467.3,261.1 467.9,262.3 468.5,263.5 469.2,264.7 469.9,266.0 470.8,267.4 471.8,268.9 472.9,270.5 474.0,272.2 475.2,273.9 476.4,275.7 477.6,277.5 478.7,279.3 479.8,281.3 480.9,283.2 482.1,285.2 483.2,287.0 484.3,288.8 485.4,290.4 486.6,292.0 487.7,293.4 488.8,294.9 490.0,296.3 491.1,297.8 492.2,299.3 493.3,300.8 494.4,302.3 495.6,303.8 496.7,305.3 497.8,306.8 498.9,308.3 500.1,309.8 501.2,311.2 502.3,312.7 503.5,314.2 504.6,315.8 505.7,317.4 506.8,319.1 507.9,320.8 509.1,322.6 510.2,324.3 511.3,325.9 512.4,327.5 513.6,328.9 514.7,330.4 515.8,331.9 517.0,333.3 518.1,334.9 519.2,336.5 520.4,338.2 521.5,340.0 522.6,341.7 523.7,343.4 524.8,345.0 525.9,346.5 526.9,348.0 527.9,349.5 528.9,350.9 529.9,352.2 531.0,353.5 532.1,354.7 533.2,355.9 534.3,357.0 535.4,358.1 536.6,359.2 537.7,360.2 538.8,361.2 540.0,362.2 541.2,363.2 542.3,364.2 543.4,365.0 544.5,365.8 545.5,366.5 546.5,367.2 547.4,367.8 548.3,368.3 549.2,368.7 550.0,368.8 550.8,368.7 551.6,368.4 552.4,368.0 553.2,367.4 553.9,366.6 554.6,365.8 555.3,364.8 555.9,363.7 556.5,362.4 557.0,361.0 557.5,359.6 558.0,358.0 558.4,356.3 558.8,354.5 559.2,352.6 559.5,350.6 559.7,348.6 559.8,346.7 559.8,344.8 559.8,342.8 559.6,340.7 559.5,338.8 559.2,337.0 559.0,335.5 558.7,334.2 558.3,333.0 557.9,331.9 557.4,331.1 557.1,330.4 556.8,329.8" fill="none" stroke="#ff0000" stroke-width="1.5" stroke-linejoin="round" stroke-linecap="round"/>
<polyline points="84.5,197.3 84.5,197.9 84.5,198.7 84.5,199.6 84.5,200.6 84.6,201.8 84.6,203.0 84.7,204.3 84.8,205.8 84.9,207.4 85.1,209.0 85.1,210.5 85.1,212.0 85.0,213.3 84.9,214.6 84.7,215.8 84.5,217.0 84.1,218.2 83.7,219.5 83.2,220.8 82.5,222.2 81.8,223.6 81.0,225.0 80.2,226.5 79.4,227.9 78.6,229.4 77.9,230.9 77.1,232.5 76.3,234.0 75.6,235.5 74.8,236.9 74.1,238.2 73.3,239.5 72.6,240.7 71.9,241.9 71.1,243.1 70.4,244.4 69.6,245.7 68.9,247.0 68.1,248.4 67.3,249.8 66.5,251.1 65.8,252.4 65.1,253.7 64.4,254.9 63.8,256.2 63.1,257.4 62.5,258.7 61.8,259.9 61.1,261.1 60.5,262.3 59.9,263.5 59.2,264.7 58.5,266.0 57.6,267.4 56.6,268.9 55.5,270.5 54.4,272.2 53.2,273.9 52.0,275.7 50.8,277.5 49.7,279.3 48.6,281.3 47.4,283.2 46.3,285.2 45.2,287.0 44.1,288.8 43.0,290.4 41.8,292.0 40.7,293.4 39.6,294.9 38.4,296.3 37.3,297.8 36.2,299.3 35.1,300.8 33.9,302.3 32.8,303.8 31.7,305.3 30.6,306.8 29.5,308.3 28.3,309.8 27.2,311.2 26.1,312.7 24.9,314.2 23.8,315.8 22.7,317.4 21.6,319.1 20.4,320.8 19.3,322.6 18.2,324.3 17.1,325.9 16.0,327.5 14.8,328.9 13.7,330.4 12.6,331.9 11.4,333.3 10.3,334.9 9.2,336.5 8.0,338.2 6.9,340.0 5.8,341.7 4.7,343.4 3.6,345.0 2.5,346.5 1.5,348.0 0.5,349.5 -0.5,350.9 -1.5,352.2 -2.6,353.5 -3.7,354.7 -4.8,355.9 -5.9,357.0 -7.0,358.1 -8.2,359.2 -9.3,360.2 -10.4,361.2 -11.6,362.2 -12.8,363.2 -13.9,364.2 -15.0,365.0 -16.1,365.8 -17.1,366.5 -18.1,367.2 -19.0,367.8 -19.9,368.3 -20.8,368.7 -21.6,368.8 -22.4,368.7 -23.2,368.4 -24.0,368.0 -24.8,367.4 -25.5,366.6 -26.2,365.8 -26.9,364.8 -27.5,363.7 -28.1,362.4 -28.6,361.0 -29.1,359.6 -29.6,358.0 -30.0,356.3 -30.4,354.5 -30.8,352.6 -31.1,350.6 -31.3,348.6 -31.4,346.7 -31.4,344.8 -31.4,342.8 -31.2,340.7 -31.1,338.8 -30.8,337.0 -30.6,335.5 -30.3,334.2 -29.9,333.0 -29.5,331.9 -29.0,331.1 -28.7,330.4 -28.4,329.8" fill="none" stroke="#ff0000" stroke-width="1.5" stroke-linejoin="round" stroke-linecap="round"/>
<circle cx="443.9" cy="197.3" r="2.5" fill="#ff0000"/>
<circle cx="443.8" cy="202.7" r="2.5" fill="#ff0000"/>
<circle cx="443.4" cy="208.1" r="2.5" fill="#ff0000"/>
<circle cx="443.4" cy="213.5" r="2.5" fill="#ff0000"/>
<circle cx="444.5" cy="218.8" r="2.5" fill="#ff0000"/>
<circle cx="446.7" cy="223.7" r="2.5" fill="#ff0000"/>
<circle cx="449.3" cy="228.4" r="2.5" fill="#ff0000"/>
<circle cx="451.7" cy="233.2" r="2.5" fill="#ff0000"/>
<circle cx="454.2" cy="238.0" r="2.5" fill="#ff0000"/>
<circle cx="457.0" cy="242.7" r="2.5" fill="#ff0000"/>
<circle cx="459.7" cy="247.3" r="2.5" fill="#ff0000"/>
<circle cx="462.4" cy="252.0" r="2.5" fill="#ff0000"/>
<circle cx="464.9" cy="256.8" r="2.5" fill="#ff0000"/>
<circle cx="467.5" cy="261.5" r="2.5" fill="#ff0000"/>
<circle cx="470.1" cy="266.2" r="2.5" fill="#ff0000"/>
<circle cx="473.0" cy="270.8" r="2.5" fill="#ff0000"/>
<circle cx="476.1" cy="275.2" r="2.5" fill="#ff0000"/>
<circle cx="479.0" cy="279.8" r="2.5" fill="#ff0000"/>
<circle cx="481.7" cy="284.5" r="2.5" fill="#ff0000"/>
<circle cx="484.5" cy="289.1" r="2.5" fill="#ff0000"/>
<circle cx="487.7" cy="293.4" r="2.5" fill="#ff0000"/>
<circle cx="491.0" cy="297.7" r="2.5" fill="#ff0000"/>
<circle cx="494.2" cy="302.0" r="2.5" fill="#ff0000"/>
<circle cx="497.5" cy="306.3" r="2.5" fill="#ff0000"/>
<circle cx="500.7" cy="310.6" r="2.5" fill="#ff0000"/>
<circle cx="504.0" cy="314.9" r="2.5" fill="#ff0000"/>
<circle cx="507.0" cy="319.4" r="2.5" fill="#ff0000"/>
<circle cx="510.0" cy="323.9" r="2.5" fill="#ff0000"/>
<circle cx="513.1" cy="328.3" r="2.5" fill="#ff0000"/>
<circle cx="516.4" cy="332.6" r="2.5" fill="#ff0000"/>
<circle cx="519.5" cy="337.0" r="2.5" fill="#ff0000"/>
<circle cx="522.5" cy="341.5" r="2.5" fill="#ff0000"/>
<circle cx="525.5" cy="346.0" r="2.5" fill="#ff0000"/>
<circle cx="528.6" cy="350.4" r="2.5" fill="#ff0000"/>
<circle cx="532.0" cy="354.6" r="2.5" fill="#ff0000"/>
<circle cx="535.8" cy="358.4" r="2.5" fill="#ff0000"/>
<circle cx="539.8" cy="362.1" r="2.5" fill="#ff0000"/>
<circle cx="544.0" cy="365.4" r="2.5" fill="#ff0000"/>
<circle cx="548.5" cy="368.4" r="2.5" fill="#ff0000"/>
<circle cx="553.4" cy="367.2" r="2.5" fill="#ff0000"/>
<circle cx="556.3" cy="362.7" r="2.5" fill="#ff0000"/>
<circle cx="558.1" cy="357.6" r="2.5" fill="#ff0000"/>
<circle cx="559.2" cy="352.3" r="2.5" fill="#ff0000"/>
<circle cx="559.8" cy="346.9" r="2.5" fill="#ff0000"/>
<circle cx="559.7" cy="341.6" r="2.5" fill="#ff0000"/>
<circle cx="559.1" cy="336.2" r="2.5" fill="#ff0000"/>
<circle cx="557.4" cy="331.1" r="2.5" fill="#ff0000"/>
<circle cx="84.5" cy="197.3" r="2.5" fill="#ff0000"/>
<circle cx="84.6" cy="202.7" r="2.5" fill="#ff0000"/>
<circle cx="85.0" cy="208.1" r="2.5" fill="#ff0000"/>
<circle cx="85.0" cy="213.5" r="2.5" fill="#ff0000"/>
<circle cx="83.9" cy="218.8" r="2.5" fill="#ff0000"/>
<circle cx="81.7" cy="223.7" r="2.5" fill="#ff0000"/>
<circle cx="79.1" cy="228.4" r="2.5" fill="#ff0000"/>
<circle cx="76.7" cy="233.2" r="2.5" fill="#ff0000"/>
<circle cx="74.2" cy="238.0" r="2.5" fill="#ff0000"/>
<circle cx="71.4" cy="242.7" r="2.5" fill="#ff0000"/>
<circle cx="68.7" cy="247.3" r="2.5" fill="#ff0000"/>
<circle cx="66.0" cy="252.0" r="2.5" fill="#ff0000"/>
<circle cx="63.5" cy="256.8" r="2.5" fill="#ff0000"/>
<circle cx="60.9" cy="261.5" r="2.5" fill="#ff0000"/>
<circle cx="58.3" cy="266.2" r="2.5" fill="#ff0000"/>
<circle cx="55.4" cy="270.8" r="2.5" fill="#ff0000"/>
<circle cx="52.3" cy="275.2" r="2.5" fill="#ff0000"/>
<circle cx="49.4" cy="279.8" r="2.5" fill="#ff0000"/>
<circle cx="46.7" cy="284.5" r="2.5" fill="#ff0000"/>
<circle cx="43.9" cy="289.1" r="2.5" fill="#ff0000"/>
<circle cx="40.7" cy="293.4" r="2.5" fill="#ff0000"/>
<circle cx="37.4" cy="297.7" r="2.5" fill="#ff0000"/>
<circle cx="34.2" cy="302.0" r="2.5" fill="#ff0000"/>
<circle cx="30.9" cy="306.3" r="2.5" fill="#ff0000"/>
<circle cx="27.7" cy="310.6" r="2.5" fill="#ff0000"/>
<circle cx="24.4" cy="314.9" r="2.5" fill="#ff0000"/>
<circle cx="21.4" cy="319.4" r="2.5" fill="#ff0000"/>
<circle cx="18.4" cy="323.9" r="2.5" fill="#ff0000"/>
<circle cx="15.3" cy="328.3" r="2.5" fill="#ff0000"/>
<circle cx="12.0" cy="332.6" r="2.5" fill="#ff0000"/>
<circle cx="8.9" cy="337.0" r="2.5" fill="#ff0000"/>
<circle cx="5.9" cy="341.5" r="2.5" fill="#ff0000"/>
<circle cx="2.9" cy="346.0" r="2.5" fill="#ff0000"/>
<circle cx="-0.2" cy="350.4" r="2.5" fill="#ff0000"/>
<circle cx="-3.6" cy="354.6" r="2.5" fill="#ff0000"/>
<circle cx="-7.4" cy="358.4" r="2.5" fill="#ff0000"/>
<circle cx="-11.4" cy="362.1" r="2.5" fill="#ff0000"/>
<circle cx="-15.6" cy="365.4" r="2.5" fill="#ff0000"/>
<circle cx="-20.1" cy="368.4" r="2.5" fill="#ff0000"/>
<circle cx="-25.0" cy="367.2" r="2.5" fill="#ff0000"/>
<circle cx="-27.9" cy="362.7" r="2.5" fill="#ff0000"/>
<circle cx="-29.7" cy="357.6" r="2.5" fill="#ff0000"/>
<circle cx="-30.8" cy="352.3" r="2.5" fill="#ff0000"/>
<circle cx="-31.4" cy="346.9" r="2.5" fill="#ff0000"/>
<circle cx="-31.3" cy="341.6" r="2.5" fill="#ff0000"/>
<circle cx="-30.7" cy="336.2" r="2.5" fill="#ff0000"/>
<circle cx="-29.0" cy="331.1" r="2.5" fill="#ff0000"/>
<polyline points="443.9,200.0 443.9,200.9 443.8,202.1 443.7,203.6 443.6,205.1 443.5,206.6 443.5,208.0 443.5,209.2 443.5,210.5 443.5,211.7 443.5,212.8 443.5,213.9 443.6,215.0 443.7,216.1 443.9,217.1 444.1,218.2 444.2,219.1 444.4,219.9 444.5,220.5" fill="none" stroke="#ff0000" stroke-width="4.8" stroke-linejoin="round" stroke-linecap="round"/>
<polyline points="84.5,200.0 84.5,200.9 84.6,202.1 84.7,203.6 84.8,205.1 84.9,206.6 84.9,208.0 84.9,209.2 84.9,210.5 84.9,211.7 84.9,212.8 84.9,213.9 84.8,215.0 84.7,216.1 84.5,217.1 84.3,218.2 84.2,219.1 84.0,219.9 83.9,220.5" fill="none" stroke="#ff0000" stroke-width="4.8" stroke-linejoin="round" stroke-linecap="round"/>
<polyline points="541.0,363.5 541.6,364.0 542.5,364.7 543.5,365.6 544.6,366.5 545.6,367.2 546.5,367.8 547.2,368.2 547.8,368.5 548.3,368.8 548.8,368.9 549.4,368.9 550.0,368.8 550.7,368.6 551.5,368.3 552.3,367.8 553.1,367.3 553.9,366.6 554.6,365.8 555.3,364.8 555.9,363.7 556.5,362.4 557.0,361.0 557.5,359.6 558.0,358.0 558.4,356.3 558.8,354.5 559.2,352.6 559.5,350.6 559.7,348.6 559.8,346.7 559.8,344.8 559.8,342.7 559.6,340.7 559.4,338.8 559.2,337.0 559.0,335.5 558.8,334.2 558.5,333.2 558.2,332.3 557.9,331.6 557.7,331.0 557.5,330.5" fill="none" stroke="#ff0000" stroke-width="6.4" stroke-linejoin="round" stroke-linecap="round"/>
<polyline points="-12.6,363.5 -13.2,364.0 -14.1,364.7 -15.1,365.6 -16.2,366.5 -17.2,367.2 -18.1,367.8 -18.8,368.2 -19.4,368.5 -19.9,368.8 -20.4,368.9 -21.0,368.9 -21.6,368.8 -22.3,368.6 -23.1,368.3 -23.9,367.8 -24.7,367.3 -25.5,366.6 -26.2,365.8 -26.9,364.8 -27.5,363.7 -28.1,362.4 -28.6,361.0 -29.1,359.6 -29.6,358.0 -30.0,356.3 -30.4,354.5 -30.8,352.6 -31.1,350.6 -31.3,348.6 -31.4,346.7 -31.4,344.8 -31.4,342.7 -31.2,340.7 -31.0,338.8 -30.8,337.0 -30.6,335.5 -30.4,334.2 -30.1,333.2 -29.8,332.3 -29.5,331.6 -29.3,331.0 -29.1,330.5" fill="none" stroke="#ff0000" stroke-width="6.4" stroke-linejoin="round" stroke-linecap="round"/>
<circle cx="513.0" cy="330.0" r="2.8" fill="#ff0000"/>
<circle cx="516.0" cy="334.0" r="2.8" fill="#ff0000"/>
<circle cx="519.0" cy="338.0" r="2.8" fill="#ff0000"/>
<circle cx="514.0" cy="340.0" r="2.8" fill="#ff0000"/>
<circle cx="518.0" cy="344.0" r="2.8" fill="#ff0000"/>
<circle cx="521.0" cy="347.0" r="2.8" fill="#ff0000"/>
<circle cx="515.0" cy="345.0" r="2.8" fill="#ff0000"/>
<circle cx="512.0" cy="333.0" r="2.8" fill="#ff0000"/>
<circle cx="517.0" cy="329.0" r="2.8" fill="#ff0000"/>
<circle cx="520.0" cy="332.0" r="2.8" fill="#ff0000"/>
<circle cx="515.5" cy="351.0" r="2.8" fill="#ff0000"/>
<circle cx="15.4" cy="330.0" r="2.8" fill="#ff0000"/>
<circle cx="12.4" cy="334.0" r="2.8" fill="#ff0000"/>
<circle cx="9.4" cy="338.0" r="2.8" fill="#ff0000"/>
<circle cx="14.4" cy="340.0" r="2.8" fill="#ff0000"/>
<circle cx="10.4" cy="344.0" r="2.8" fill="#ff0000"/>
<circle cx="7.4" cy="347.0" r="2.8" fill="#ff0000"/>
<circle cx="13.4" cy="345.0" r="2.8" fill="#ff0000"/>
<circle cx="16.4" cy="333.0" r="2.8" fill="#ff0000"/>
<circle cx="11.4" cy="329.0" r="2.8" fill="#ff0000"/>
<circle cx="8.4" cy="332.0" r="2.8" fill="#ff0000"/>
<circle cx="12.9" cy="351.0" r="2.8" fill="#ff0000"/>
<polyline points="612.8,275.0 612.8,276.5 612.7,278.3 612.7,280.6 612.6,283.3 612.6,286.5 612.5,290.0 612.4,294.1 612.4,298.9 612.3,304.1 612.2,309.4 612.2,314.8 612.1,320.0 612.0,325.0 612.0,330.0 612.0,335.0 611.9,340.0 611.9,345.0 611.8,350.0 611.7,355.1 611.7,360.4 611.6,365.8 611.5,370.9 611.5,375.7 611.4,380.0 611.4,383.8 611.3,387.2 611.3,390.2 611.3,393.0 611.3,395.6 611.3,398.0 611.3,400.2 611.4,402.1 611.4,403.8 611.5,405.3 611.6,406.7 611.8,408.0 612.0,409.2 612.2,410.2 612.5,411.1 612.8,411.9 613.1,412.7 613.5,413.5 613.9,414.3 614.4,415.0 614.8,415.7 615.4,416.5 615.9,417.2 616.5,418.0 617.1,418.9 617.7,419.8 618.4,420.8 619.1,421.8 619.9,422.7 620.7,423.6 621.6,424.5 622.5,425.3 623.6,426.1 624.6,426.9 625.8,427.6 627.0,428.4 628.3,429.2 629.6,429.9 631.0,430.7 632.6,431.5 634.2,432.2 636.0,432.8 638.0,433.4 640.2,433.9 642.5,434.4 644.8,434.9 647.2,435.3 649.5,435.8 651.7,436.3 653.9,436.7 656.0,437.2 658.2,437.6 660.5,438.0 663.0,438.4 665.6,438.8 668.3,439.1 671.1,439.4 674.0,439.8 677.0,440.1 680.0,440.4 683.1,440.7 686.2,441.0 689.5,441.3 692.8,441.6 696.3,441.9 700.0,442.2 704.2,442.5 709.0,442.7 713.9,443.0 718.5,443.3 722.5,443.5 725.3,443.6" fill="none" stroke="#ff0000" stroke-width="5.6" stroke-linejoin="round" stroke-linecap="round"/>
<polyline points="725.8,435.0 725.8,445.0" fill="none" stroke="#ff0000" stroke-width="5.8" stroke-linejoin="round" stroke-linecap="round"/>
<circle cx="650.0" cy="434.0" r="3.2" fill="#ff0000"/>
<circle cx="653.0" cy="437.0" r="3.2" fill="#ff0000"/>
<circle cx="656.0" cy="440.0" r="3.2" fill="#ff0000"/>
<circle cx="651.0" cy="441.0" r="3.2" fill="#ff0000"/>
<circle cx="655.0" cy="434.5" r="3.2" fill="#ff0000"/>
<polyline points="761.6,449.2 763.6,449.4 766.3,449.8 769.6,450.1 773.1,450.6 776.6,451.0 780.0,451.4 783.1,451.8 786.0,452.2 788.9,452.5 792.1,453.0 795.8,453.4 800.0,454.0 805.1,454.7 810.9,455.4 817.1,456.3 823.5,457.1 829.7,457.9 835.5,458.6 841.1,459.2 846.9,459.8 852.5,460.3 857.7,460.8 862.3,461.3 866.0,461.7 868.6,462.1 870.4,462.4 871.5,462.7 872.2,463.0 872.8,463.3 873.5,463.6 874.2,464.0 874.8,464.5 875.2,464.9 875.5,465.4 875.8,465.7 876.0,466.0" fill="none" stroke="#ff0000" stroke-width="5.6" stroke-linejoin="round" stroke-linecap="round"/>
<polyline points="878.0,446.0 878.1,447.5 878.2,449.7 878.3,452.2 878.4,454.9 878.5,457.6 878.6,460.0 878.7,462.3 878.8,464.7 878.9,467.1 879.0,469.3 879.1,471.2 879.2,472.5" fill="none" stroke="#ff0000" stroke-width="4.6" stroke-linejoin="round" stroke-linecap="round"/>
<polyline points="237.2,520.0 237.1,521.7 237.0,524.1 236.9,526.9 236.8,529.8 236.7,532.6 236.6,535.0 236.5,537.0 236.4,538.8 236.3,540.5 236.2,542.1 236.1,543.6 236.0,545.0 235.9,546.4 235.8,547.7 235.8,548.9 235.7,549.9 235.6,550.8 235.6,551.5" fill="none" stroke="#ff0000" stroke-width="4.4" stroke-linejoin="round" stroke-linecap="round"/>
<polygon points="584.8,449.0 586.7,449.4 588.3,450.4 589.7,452.1 590.5,454.1 590.8,456.4 590.5,458.7 589.7,460.7 588.3,462.4 586.7,463.4 584.8,463.8 582.9,463.4 581.3,462.4 579.9,460.7 579.1,458.7 578.8,456.4 579.1,454.1 579.9,452.1 581.3,450.4 582.9,449.4" fill="#006400"/>
<polyline points="584.8,447.0 586.1,447.2 587.4,447.7 588.6,448.4 589.7,449.3 590.7,450.4 591.5,451.6 592.2,453.0 592.7,454.4 593.0,455.9 593.1,457.4 593.0,458.9 592.7,460.3 592.2,461.7 591.5,462.9 590.7,464.0 589.7,464.8 588.6,465.5 587.4,466.0 586.1,466.2 584.8,466.2 583.5,466.0 582.2,465.5 581.0,464.8 579.9,463.9 578.9,462.8 578.1,461.6 577.4,460.2 576.9,458.8 576.6,457.3 576.5,455.8 576.6,454.3 576.9,452.9 577.4,451.5 578.1,450.3 578.9,449.2 579.9,448.4 581.0,447.7 582.2,447.2 583.5,447.0 584.8,447.0" fill="none" stroke="#ff0000" stroke-width="5.0" stroke-linejoin="round" stroke-linecap="round"/>
<polyline points="904.0,444.5 903.4,444.3 902.6,444.1 901.7,443.8 900.7,443.5 899.7,443.4 899.0,443.5 898.4,443.8 897.9,444.3 897.4,444.9 897.1,445.6 896.7,446.3 896.5,447.0 896.3,447.8 896.2,448.6 896.2,449.5 896.2,450.4 896.3,451.3 896.5,452.0 896.8,452.6 897.2,453.2 897.7,453.8 898.3,454.3 898.9,454.7 899.5,455.0 900.2,455.3 900.9,455.4 901.8,455.5 902.6,455.6 903.3,455.6 904.0,455.5 904.6,455.3 905.2,455.1 905.8,454.8 906.3,454.5 906.7,454.2 907.0,454.0" fill="none" stroke="#ff0000" stroke-width="4.6" stroke-linejoin="round" stroke-linecap="round"/>
<circle cx="902.0" cy="449.0" r="3" fill="#ff0000"/>
<circle cx="905.0" cy="450.0" r="3" fill="#ff0000"/>
<circle cx="898.0" cy="449.5" r="3" fill="#ff0000"/>
<polyline points="182.5,245.3 186.0,255.7 189.7,246.7" fill="none" stroke="#a0a0a0" stroke-width="1.4" stroke-linejoin="round" stroke-linecap="round"/>
<polyline points="345.9,245.3 342.4,255.7 338.7,246.7" fill="none" stroke="#a0a0a0" stroke-width="1.4" stroke-linejoin="round" stroke-linecap="round"/>
<polyline points="157.5,261.2 160.5,263.6 163.5,261.0" fill="none" stroke="#a0a0a0" stroke-width="1.4" stroke-linejoin="round" stroke-linecap="round"/>
<polyline points="370.9,261.2 367.9,263.6 364.9,261.0" fill="none" stroke="#a0a0a0" stroke-width="1.4" stroke-linejoin="round" stroke-linecap="round"/>
</g>
<g clip-path="url(#cr)">
<polyline points="1030.6,554.3 1072.9,554.3 1133.3,554.3 1203.9,554.3 1277.0,554.4 1344.9,554.3 1400.0,554.3 1443.0,554.3 1480.4,554.5 1512.5,554.6 1540.0,554.6 1563.3,554.3 1583.0,553.5 1597.6,552.0 1606.4,549.9 1611.1,547.5 1613.2,545.0 1614.4,542.9 1616.3,541.5" fill="none" stroke="#a0a0a0" stroke-width="1.4" stroke-linejoin="round" stroke-linecap="round"/>
<polyline points="1030.6,530.0 1061.3,530.0 1104.9,530.0 1155.9,530.0 1209.1,530.0 1258.9,530.0 1300.0,530.0 1332.9,529.9 1362.1,529.9 1387.9,529.8 1410.9,529.7 1431.4,529.6 1450.0,529.5 1465.8,529.4 1478.4,529.4 1488.6,529.3 1497.1,529.2 1505.0,529.0 1513.0,528.7 1520.7,528.3 1527.4,527.9 1533.4,527.4 1538.9,526.8 1544.4,526.0 1550.0,525.0 1556.1,523.5 1562.5,521.7 1568.8,519.6 1574.6,517.6 1579.5,515.9 1583.0,514.7" fill="none" stroke="#a0a0a0" stroke-width="1.4" stroke-linejoin="round" stroke-linecap="round"/>
<polyline points="1030.6,505.7 1049.1,505.7 1074.9,505.7 1105.3,505.7 1138.0,505.6 1170.4,505.6 1200.0,505.5 1228.0,505.4 1256.6,505.3 1285.0,505.1 1312.2,505.0 1337.5,504.8 1360.0,504.5 1379.3,504.2 1396.0,503.9 1410.8,503.5 1424.3,503.1 1437.2,502.6 1450.0,502.0 1462.9,501.4 1475.2,500.8 1487.0,500.1 1497.9,499.3 1507.9,498.2 1516.8,496.9 1524.3,495.2 1530.3,493.2 1535.5,491.0 1540.1,488.6 1544.8,486.3 1549.9,484.1 1555.4,481.9 1560.9,479.6 1566.4,477.3 1572.0,475.1 1577.5,473.1 1583.0,471.4 1588.9,470.0 1595.3,468.8 1601.7,467.8 1607.6,467.0 1612.6,466.3 1616.2,465.8" fill="none" stroke="#a0a0a0" stroke-width="1.4" stroke-linejoin="round" stroke-linecap="round"/>
<polyline points="1030.6,477.3 1039.1,477.6 1050.5,477.9 1064.2,478.4 1079.4,478.8 1095.2,479.2 1111.0,479.5 1127.0,479.7 1143.8,479.9 1161.4,480.0 1179.4,480.0 1197.7,480.1 1216.0,480.0 1235.5,479.8 1256.4,479.6 1277.7,479.2 1297.9,478.9 1315.8,478.7 1330.0,478.5 1339.2,478.5 1344.0,478.7 1346.5,478.9 1348.6,479.1 1352.5,479.2 1360.0,479.0 1372.2,478.6 1387.8,477.9 1405.1,477.2 1422.3,476.3 1438.0,475.4 1450.5,474.4 1459.3,473.5 1465.8,472.6 1470.6,471.7 1474.7,470.6 1478.7,469.2 1483.6,467.5 1489.5,465.1 1495.9,462.1 1502.3,458.8 1508.2,455.6 1513.2,452.9 1516.8,451.0" fill="none" stroke="#a0a0a0" stroke-width="1.4" stroke-linejoin="round" stroke-linecap="round"/>
<polyline points="1030.6,442.5 1050.0,448.2 1111.0,453.0 1216.0,454.7 1330.0,451.8 1360.0,451.0 1384.2,448.4 1416.1,439.5 1450.5,435.2 1483.6,410.7" fill="none" stroke="#a0a0a0" stroke-width="1.4" stroke-linejoin="round" stroke-linecap="round"/>
<polyline points="1030.9,325.4 1050.4,403.4 1070.9,413.2 1084.6,416.5 1108.0,420.0 1151.5,421.5 1216.0,423.5 1330.0,419.4 1349.5,417.5 1384.6,400.2 1416.5,277.4 1448.9,376.8" fill="none" stroke="#a0a0a0" stroke-width="1.4" stroke-linejoin="round" stroke-linecap="round"/>
<polyline points="1084.6,347.8 1117.0,372.9 1151.5,382.2 1216.0,387.0 1283.0,382.2 1317.4,372.9 1349.5,348.4" fill="none" stroke="#a0a0a0" stroke-width="1.4" stroke-linejoin="round" stroke-linecap="round"/>
<polyline points="1413.8,439.2 1450.8,435.3 1483.9,410.7" fill="none" stroke="#a0a0a0" stroke-width="1.4" stroke-linejoin="round" stroke-linecap="round"/>
<polyline points="1483.6,541.5 1516.8,475.2 1550.0,458.6 1616.2,445.9" fill="none" stroke="#a0a0a0" stroke-width="1.4" stroke-linejoin="round" stroke-linecap="round"/>
<polyline points="1516.8,531.3 1550.0,485.4 1583.0,471.5" fill="none" stroke="#a0a0a0" stroke-width="1.4" stroke-linejoin="round" stroke-linecap="round"/>
<polyline points="1550.0,526.2 1584.3,495.6 1616.2,487.0" fill="none" stroke="#a0a0a0" stroke-width="1.4" stroke-linejoin="round" stroke-linecap="round"/>
<polyline points="1583.0,528.7 1616.2,509.6" fill="none" stroke="#a0a0a0" stroke-width="1.4" stroke-linejoin="round" stroke-linecap="round"/>
<polyline points="1550.0,526.2 1583.0,514.7" fill="none" stroke="#a0a0a0" stroke-width="1.4" stroke-linejoin="round" stroke-linecap="round"/>
<polyline points="1030.6,365.0 1030.7,365.8 1030.8,366.8 1030.9,368.0 1031.1,369.3 1031.3,370.8 1031.5,372.2 1031.7,373.7 1032.0,375.2 1032.3,376.8 1032.6,378.5 1033.0,380.2 1033.5,382.0 1034.1,383.8 1034.7,385.8 1035.4,387.8 1036.1,389.7 1036.9,391.6 1037.8,393.3 1038.8,394.8 1039.9,396.3 1041.1,397.6 1042.3,398.9 1043.5,400.0 1044.6,401.1 1045.7,402.0 1046.8,402.8 1047.8,403.5 1048.9,404.2 1049.9,404.8 1051.0,405.4 1052.1,406.0 1053.2,406.6 1054.3,407.2 1055.4,407.7 1056.6,408.2 1057.7,408.7 1058.8,409.2 1060.0,409.6 1061.1,410.0 1062.2,410.4 1063.4,410.8 1064.5,411.2 1065.7,411.6 1067.0,412.0 1068.3,412.4 1069.5,412.7 1070.6,413.0 1071.3,413.2" fill="none" stroke="#0000ff" stroke-width="1.6" stroke-linejoin="round" stroke-linecap="round"/>
<circle cx="1031.0" cy="367.3" r="2.4" fill="#0000ff"/>
<circle cx="1033.2" cy="381.0" r="2.4" fill="#0000ff"/>
<circle cx="1037.8" cy="393.3" r="2.4" fill="#0000ff"/>
<circle cx="1044.6" cy="401.1" r="2.4" fill="#0000ff"/>
<circle cx="1051.0" cy="405.4" r="2.4" fill="#0000ff"/>
<circle cx="1057.7" cy="408.7" r="2.4" fill="#0000ff"/>
<circle cx="1064.5" cy="411.2" r="2.4" fill="#0000ff"/>
<circle cx="1071.3" cy="413.2" r="2.4" fill="#0000ff"/>
<polyline points="1422.8,245.5 1422.1,249.0 1421.2,254.0 1420.1,259.8 1418.9,266.0 1417.8,272.0 1416.9,277.4 1416.1,282.2 1415.4,286.9 1414.7,291.4 1414.1,295.8 1413.5,300.0 1413.0,303.9 1412.5,307.5 1412.1,310.9 1411.8,314.0 1411.4,317.0 1411.1,320.0 1410.7,323.0 1410.3,326.1 1409.9,329.1 1409.5,332.1 1409.1,335.1 1408.7,338.1 1408.3,341.0 1407.9,343.9 1407.5,346.7 1407.2,349.6 1406.8,352.4 1406.4,355.1 1406.0,357.7 1405.6,360.3 1405.1,362.8 1404.7,365.3 1404.3,367.7 1403.8,370.0 1403.3,372.1 1402.8,374.1 1402.3,375.9 1401.8,377.6 1401.2,379.2 1400.7,380.9 1400.1,382.6 1399.5,384.4 1399.0,386.4 1398.4,388.3 1397.7,390.2 1397.1,392.0 1396.3,393.6 1395.5,395.1 1394.5,396.4 1393.5,397.7 1392.5,398.9 1391.5,400.0 1390.4,401.0 1389.3,401.9 1388.1,402.7 1386.9,403.4 1385.7,404.1 1384.6,404.7 1383.4,405.3 1382.3,405.8 1381.2,406.3 1380.1,406.8 1379.0,407.2 1377.9,407.6 1376.8,408.0 1375.7,408.5 1374.6,408.9 1373.4,409.4 1372.3,409.8 1371.2,410.3 1370.1,410.7 1369.0,411.1 1367.8,411.6 1366.6,412.0 1365.5,412.4 1364.6,412.8 1363.9,413.0" fill="none" stroke="#0000ff" stroke-width="1.6" stroke-linejoin="round" stroke-linecap="round"/>
<circle cx="1422.8" cy="245.5" r="2.4" fill="#0000ff"/>
<circle cx="1416.9" cy="277.4" r="2.4" fill="#0000ff"/>
<circle cx="1413.0" cy="303.9" r="2.4" fill="#0000ff"/>
<circle cx="1410.7" cy="323.0" r="2.4" fill="#0000ff"/>
<circle cx="1408.3" cy="341.0" r="2.4" fill="#0000ff"/>
<circle cx="1406.0" cy="357.7" r="2.4" fill="#0000ff"/>
<circle cx="1403.3" cy="372.1" r="2.4" fill="#0000ff"/>
<circle cx="1400.1" cy="382.6" r="2.4" fill="#0000ff"/>
<circle cx="1396.3" cy="393.6" r="2.4" fill="#0000ff"/>
<circle cx="1390.4" cy="401.0" r="2.4" fill="#0000ff"/>
<circle cx="1383.4" cy="405.3" r="2.4" fill="#0000ff"/>
<circle cx="1376.8" cy="408.0" r="2.4" fill="#0000ff"/>
<circle cx="1370.1" cy="410.7" r="2.4" fill="#0000ff"/>
<circle cx="1363.9" cy="413.0" r="2.4" fill="#0000ff"/>
<polyline points="1462.5,406.0 1462.2,404.9 1461.8,403.5 1461.3,401.8 1460.8,399.9 1460.3,398.0 1459.8,396.3 1459.4,394.6 1459.0,392.9 1458.6,391.2 1458.2,389.5 1457.8,387.9 1457.4,386.5 1457.0,385.3 1456.6,384.2 1456.1,383.2 1455.7,382.3 1455.2,381.4 1454.7,380.7 1454.1,380.0 1453.5,379.4 1452.9,378.9 1452.2,378.5 1451.5,378.2 1450.8,378.0 1450.0,377.9 1449.2,377.9 1448.3,378.0 1447.5,378.2 1446.6,378.5 1445.7,378.8 1444.8,379.2 1443.9,379.6 1443.0,380.1 1442.1,380.7 1441.2,381.3 1440.3,381.9 1439.4,382.6 1438.6,383.3 1437.7,384.0 1436.9,384.8 1436.0,385.6 1435.2,386.5 1434.4,387.4 1433.5,388.4 1432.7,389.4 1431.8,390.4 1431.0,391.4 1430.2,392.4 1429.4,393.3 1428.5,394.2 1427.7,395.1 1426.9,395.9 1426.1,396.7 1425.5,397.5 1425.0,398.2 1424.6,398.8 1424.2,399.5 1423.9,400.0 1423.6,400.7 1423.2,401.3 1422.8,402.0 1422.3,402.6 1421.8,403.3 1421.4,404.0 1420.9,404.8 1420.4,405.6 1419.9,406.5 1419.4,407.4 1419.0,408.4 1418.5,409.5 1418.0,410.6 1417.4,412.0 1416.8,413.5 1416.1,415.2 1415.3,417.0 1414.6,418.9 1414.0,420.8 1413.5,422.9 1413.1,425.1 1412.9,427.4 1412.7,429.8 1412.6,432.2 1412.4,434.6 1412.3,437.0 1412.1,439.2 1412.0,441.3 1411.9,443.4 1411.8,445.6 1411.7,447.9 1411.7,450.5 1411.7,453.4 1411.8,456.5 1412.0,459.7 1412.1,463.0 1412.3,466.4 1412.5,469.6 1412.7,472.8 1413.0,476.2 1413.3,479.5 1413.6,482.7 1414.0,485.8 1414.3,488.7 1414.6,491.4 1415.0,493.8 1415.4,496.1 1415.8,498.4 1416.2,500.5 1416.6,502.7 1417.0,504.9 1417.5,507.0 1418.0,509.1 1418.4,511.1 1418.9,513.0 1419.4,514.7 1419.9,516.2 1420.4,517.6 1421.0,518.9 1421.5,520.0 1422.0,521.0 1422.5,521.8 1422.9,522.6 1423.3,523.3 1423.7,523.9 1424.1,524.2 1424.5,524.3 1425.0,524.1 1425.5,523.4 1426.1,522.4 1426.7,521.0 1427.3,519.5 1427.8,518.1 1428.3,516.7 1428.7,515.5 1429.1,514.2 1429.4,513.0 1429.7,511.8 1429.9,510.5 1430.1,509.1 1430.2,507.7 1430.3,506.4 1430.3,505.0 1430.4,503.5 1430.4,501.8 1430.4,499.9 1430.4,497.5 1430.5,494.5 1430.5,491.4 1430.6,488.4 1430.6,485.9 1430.6,484.1" fill="none" stroke="#0000ff" stroke-width="1.6" stroke-linejoin="round" stroke-linecap="round"/>
<circle cx="1462.5" cy="406.0" r="2.4" fill="#0000ff"/>
<circle cx="1459.8" cy="396.3" r="2.4" fill="#0000ff"/>
<circle cx="1457.4" cy="386.5" r="2.4" fill="#0000ff"/>
<circle cx="1454.7" cy="380.7" r="2.4" fill="#0000ff"/>
<circle cx="1450.8" cy="378.0" r="2.4" fill="#0000ff"/>
<circle cx="1445.7" cy="378.8" r="2.4" fill="#0000ff"/>
<circle cx="1440.3" cy="381.9" r="2.4" fill="#0000ff"/>
<circle cx="1435.2" cy="386.5" r="2.4" fill="#0000ff"/>
<circle cx="1430.2" cy="392.4" r="2.4" fill="#0000ff"/>
<circle cx="1425.5" cy="397.5" r="2.4" fill="#0000ff"/>
<circle cx="1423.2" cy="401.3" r="2.4" fill="#0000ff"/>
<circle cx="1420.4" cy="405.6" r="2.4" fill="#0000ff"/>
<circle cx="1417.4" cy="412.0" r="2.4" fill="#0000ff"/>
<circle cx="1413.5" cy="422.9" r="2.4" fill="#0000ff"/>
<circle cx="1412.3" cy="437.0" r="2.4" fill="#0000ff"/>
<circle cx="1411.7" cy="450.5" r="2.4" fill="#0000ff"/>
<circle cx="1412.5" cy="469.6" r="2.4" fill="#0000ff"/>
<circle cx="1414.3" cy="488.7" r="2.4" fill="#0000ff"/>
<circle cx="1416.6" cy="502.7" r="2.4" fill="#0000ff"/>
<circle cx="1419.4" cy="514.7" r="2.4" fill="#0000ff"/>
<circle cx="1422.5" cy="521.8" r="2.4" fill="#0000ff"/>
<circle cx="1425.0" cy="524.1" r="2.4" fill="#0000ff"/>
<circle cx="1428.3" cy="516.7" r="2.4" fill="#0000ff"/>
<circle cx="1430.1" cy="509.1" r="2.4" fill="#0000ff"/>
<circle cx="1430.4" cy="499.9" r="2.4" fill="#0000ff"/>
<circle cx="1430.6" cy="484.1" r="2.4" fill="#0000ff"/>
<circle cx="1448.0" cy="378.0" r="2.4" fill="#0000ff"/>
<circle cx="1442.8" cy="380.0" r="2.4" fill="#0000ff"/>
<circle cx="1437.6" cy="384.0" r="2.4" fill="#0000ff"/>
<circle cx="1432.6" cy="389.5" r="2.4" fill="#0000ff"/>
<circle cx="1428.0" cy="394.6" r="2.4" fill="#0000ff"/>
<polyline points="1199.5,114.0 1199.2,113.8 1198.8,113.4 1198.3,113.0 1197.7,112.7 1197.0,112.5 1196.2,112.6 1195.2,112.9 1194.1,113.5 1192.9,114.2 1191.6,115.0 1190.3,115.9 1189.0,116.9 1187.8,117.9 1186.6,119.1 1185.5,120.3 1184.2,121.6 1182.9,123.0 1181.4,124.4 1179.7,125.9 1177.9,127.4 1176.0,128.9 1174.0,130.6 1172.0,132.2 1170.0,134.0 1168.0,135.8 1166.0,137.7 1163.9,139.7 1161.9,141.7 1159.9,143.7 1158.0,145.8 1156.2,147.9 1154.5,150.1 1152.8,152.3 1151.2,154.5 1149.6,156.7 1148.0,159.0 1146.3,161.4 1144.7,163.9 1143.0,166.4 1141.4,168.9 1139.9,171.2 1138.5,173.1 1137.4,174.6 1136.4,175.7 1135.5,176.5 1134.7,177.4 1133.8,178.5 1132.7,180.0 1131.4,181.9 1130.0,184.2 1128.5,186.6 1127.0,189.2 1125.6,191.7 1124.2,194.2 1122.9,196.5 1121.7,198.9 1120.5,201.2 1119.3,203.5 1118.2,206.0 1117.0,208.5 1115.8,211.3 1114.6,214.2 1113.4,217.2 1112.2,220.2 1111.1,223.0 1110.0,225.6 1108.9,227.8 1107.9,229.8 1106.8,231.7 1105.9,233.4 1105.0,235.2 1104.2,237.0 1103.5,238.9 1103.0,240.7 1102.5,242.5 1102.1,244.3 1101.7,246.2 1101.4,248.3 1101.2,250.5 1101.0,252.7 1100.9,255.1 1100.8,257.5 1100.8,260.0 1100.8,262.6 1100.8,265.3 1100.9,268.2 1101.0,271.1 1101.1,274.0 1101.2,276.9 1101.4,279.6 1101.6,282.1 1101.7,284.5 1101.9,286.7 1102.1,289.0 1102.4,291.4 1102.8,293.9 1103.4,296.8 1104.1,300.0 1105.0,303.3 1105.8,306.5 1106.5,309.1 1107.0,311.0" fill="none" stroke="#006400" stroke-width="3.8" stroke-linejoin="round" stroke-linecap="round"/>
<circle cx="1199.5" cy="114.0" r="2.3" fill="#006400"/>
<circle cx="1196.0" cy="112.7" r="2.3" fill="#006400"/>
<circle cx="1192.4" cy="114.5" r="2.3" fill="#006400"/>
<circle cx="1189.1" cy="116.8" r="2.3" fill="#006400"/>
<circle cx="1186.2" cy="119.5" r="2.3" fill="#006400"/>
<circle cx="1183.5" cy="122.4" r="2.3" fill="#006400"/>
<circle cx="1180.5" cy="125.1" r="2.3" fill="#006400"/>
<circle cx="1177.5" cy="127.7" r="2.3" fill="#006400"/>
<circle cx="1174.4" cy="130.2" r="2.3" fill="#006400"/>
<circle cx="1171.3" cy="132.8" r="2.3" fill="#006400"/>
<circle cx="1168.4" cy="135.5" r="2.3" fill="#006400"/>
<circle cx="1165.4" cy="138.2" r="2.3" fill="#006400"/>
<circle cx="1162.6" cy="141.0" r="2.3" fill="#006400"/>
<circle cx="1159.8" cy="143.9" r="2.3" fill="#006400"/>
<circle cx="1157.1" cy="146.9" r="2.3" fill="#006400"/>
<circle cx="1154.6" cy="150.0" r="2.3" fill="#006400"/>
<circle cx="1152.2" cy="153.2" r="2.3" fill="#006400"/>
<circle cx="1149.8" cy="156.4" r="2.3" fill="#006400"/>
<circle cx="1147.5" cy="159.7" r="2.3" fill="#006400"/>
<circle cx="1145.3" cy="163.0" r="2.3" fill="#006400"/>
<circle cx="1143.1" cy="166.3" r="2.3" fill="#006400"/>
<circle cx="1140.9" cy="169.7" r="2.3" fill="#006400"/>
<circle cx="1138.6" cy="173.0" r="2.3" fill="#006400"/>
<circle cx="1136.0" cy="176.0" r="2.3" fill="#006400"/>
<circle cx="1133.4" cy="179.0" r="2.3" fill="#006400"/>
<circle cx="1131.2" cy="182.3" r="2.3" fill="#006400"/>
<circle cx="1129.1" cy="185.7" r="2.3" fill="#006400"/>
<circle cx="1127.0" cy="189.2" r="2.3" fill="#006400"/>
<circle cx="1125.1" cy="192.7" r="2.3" fill="#006400"/>
<circle cx="1123.1" cy="196.2" r="2.3" fill="#006400"/>
<circle cx="1121.3" cy="199.7" r="2.3" fill="#006400"/>
<circle cx="1119.5" cy="203.3" r="2.3" fill="#006400"/>
<circle cx="1117.7" cy="206.9" r="2.3" fill="#006400"/>
<circle cx="1116.1" cy="210.5" r="2.3" fill="#006400"/>
<circle cx="1114.6" cy="214.2" r="2.3" fill="#006400"/>
<circle cx="1113.1" cy="218.0" r="2.3" fill="#006400"/>
<circle cx="1111.6" cy="221.7" r="2.3" fill="#006400"/>
<circle cx="1110.1" cy="225.4" r="2.3" fill="#006400"/>
<circle cx="1108.3" cy="229.0" r="2.3" fill="#006400"/>
<circle cx="1106.4" cy="232.5" r="2.3" fill="#006400"/>
<circle cx="1104.6" cy="236.0" r="2.3" fill="#006400"/>
<circle cx="1103.2" cy="239.8" r="2.3" fill="#006400"/>
<circle cx="1102.2" cy="243.6" r="2.3" fill="#006400"/>
<circle cx="1101.5" cy="247.6" r="2.3" fill="#006400"/>
<circle cx="1101.1" cy="251.6" r="2.3" fill="#006400"/>
<circle cx="1100.9" cy="255.6" r="2.3" fill="#006400"/>
<circle cx="1100.8" cy="259.6" r="2.3" fill="#006400"/>
<circle cx="1100.8" cy="263.6" r="2.3" fill="#006400"/>
<circle cx="1100.9" cy="267.6" r="2.3" fill="#006400"/>
<circle cx="1101.0" cy="271.6" r="2.3" fill="#006400"/>
<circle cx="1101.2" cy="275.5" r="2.3" fill="#006400"/>
<circle cx="1101.4" cy="279.5" r="2.3" fill="#006400"/>
<circle cx="1101.6" cy="283.5" r="2.3" fill="#006400"/>
<circle cx="1102.0" cy="287.5" r="2.3" fill="#006400"/>
<circle cx="1102.4" cy="291.5" r="2.3" fill="#006400"/>
<circle cx="1103.1" cy="295.4" r="2.3" fill="#006400"/>
<circle cx="1104.0" cy="299.3" r="2.3" fill="#006400"/>
<circle cx="1105.0" cy="303.2" r="2.3" fill="#006400"/>
<circle cx="1106.0" cy="307.1" r="2.3" fill="#006400"/>
<circle cx="1107.0" cy="311.0" r="2.3" fill="#006400"/>
<polyline points="1235.3,114.0 1235.6,113.8 1236.0,113.4 1236.5,113.0 1237.1,112.7 1237.8,112.5 1238.6,112.6 1239.6,112.9 1240.7,113.5 1241.9,114.2 1243.2,115.0 1244.5,115.9 1245.8,116.9 1247.0,117.9 1248.2,119.1 1249.3,120.3 1250.6,121.6 1251.9,123.0 1253.4,124.4 1255.1,125.9 1256.9,127.4 1258.8,128.9 1260.8,130.6 1262.8,132.2 1264.8,134.0 1266.8,135.8 1268.8,137.7 1270.9,139.7 1272.9,141.7 1274.9,143.7 1276.8,145.8 1278.6,147.9 1280.3,150.1 1282.0,152.3 1283.6,154.5 1285.2,156.7 1286.8,159.0 1288.5,161.4 1290.1,163.9 1291.8,166.4 1293.4,168.9 1294.9,171.2 1296.3,173.1 1297.4,174.6 1298.4,175.7 1299.3,176.5 1300.1,177.4 1301.0,178.5 1302.1,180.0 1303.4,181.9 1304.8,184.2 1306.3,186.6 1307.8,189.2 1309.2,191.7 1310.6,194.2 1311.9,196.5 1313.1,198.9 1314.3,201.2 1315.5,203.5 1316.6,206.0 1317.8,208.5 1319.0,211.3 1320.2,214.2 1321.4,217.2 1322.6,220.2 1323.7,223.0 1324.8,225.6 1325.9,227.8 1326.9,229.8 1328.0,231.7 1328.9,233.4 1329.8,235.2 1330.6,237.0 1331.3,238.9 1331.8,240.7 1332.3,242.5 1332.7,244.3 1333.1,246.2 1333.4,248.3 1333.6,250.5 1333.8,252.7 1333.9,255.1 1334.0,257.5 1334.0,260.0 1334.0,262.6 1334.0,265.3 1333.9,268.2 1333.8,271.1 1333.7,274.0 1333.6,276.9 1333.4,279.6 1333.2,282.1 1333.1,284.5 1332.9,286.7 1332.7,289.0 1332.4,291.4 1332.0,293.9 1331.4,296.8 1330.7,300.0 1329.8,303.3 1329.0,306.5 1328.3,309.1 1327.8,311.0" fill="none" stroke="#006400" stroke-width="3.8" stroke-linejoin="round" stroke-linecap="round"/>
<circle cx="1235.3" cy="114.0" r="2.3" fill="#006400"/>
<circle cx="1238.8" cy="112.7" r="2.3" fill="#006400"/>
<circle cx="1242.4" cy="114.5" r="2.3" fill="#006400"/>
<circle cx="1245.7" cy="116.8" r="2.3" fill="#006400"/>
<circle cx="1248.6" cy="119.5" r="2.3" fill="#006400"/>
<circle cx="1251.3" cy="122.4" r="2.3" fill="#006400"/>
<circle cx="1254.3" cy="125.1" r="2.3" fill="#006400"/>
<circle cx="1257.3" cy="127.7" r="2.3" fill="#006400"/>
<circle cx="1260.4" cy="130.2" r="2.3" fill="#006400"/>
<circle cx="1263.5" cy="132.8" r="2.3" fill="#006400"/>
<circle cx="1266.4" cy="135.5" r="2.3" fill="#006400"/>
<circle cx="1269.4" cy="138.2" r="2.3" fill="#006400"/>
<circle cx="1272.2" cy="141.0" r="2.3" fill="#006400"/>
<circle cx="1275.0" cy="143.9" r="2.3" fill="#006400"/>
<circle cx="1277.7" cy="146.9" r="2.3" fill="#006400"/>
<circle cx="1280.2" cy="150.0" r="2.3" fill="#006400"/>
<circle cx="1282.6" cy="153.2" r="2.3" fill="#006400"/>
<circle cx="1285.0" cy="156.4" r="2.3" fill="#006400"/>
<circle cx="1287.3" cy="159.7" r="2.3" fill="#006400"/>
<circle cx="1289.5" cy="163.0" r="2.3" fill="#006400"/>
<circle cx="1291.7" cy="166.3" r="2.3" fill="#006400"/>
<circle cx="1293.9" cy="169.7" r="2.3" fill="#006400"/>
<circle cx="1296.2" cy="173.0" r="2.3" fill="#006400"/>
<circle cx="1298.8" cy="176.0" r="2.3" fill="#006400"/>
<circle cx="1301.4" cy="179.0" r="2.3" fill="#006400"/>
<circle cx="1303.6" cy="182.3" r="2.3" fill="#006400"/>
<circle cx="1305.7" cy="185.7" r="2.3" fill="#006400"/>
<circle cx="1307.8" cy="189.2" r="2.3" fill="#006400"/>
<circle cx="1309.7" cy="192.7" r="2.3" fill="#006400"/>
<circle cx="1311.7" cy="196.2" r="2.3" fill="#006400"/>
<circle cx="1313.5" cy="199.7" r="2.3" fill="#006400"/>
<circle cx="1315.3" cy="203.3" r="2.3" fill="#006400"/>
<circle cx="1317.1" cy="206.9" r="2.3" fill="#006400"/>
<circle cx="1318.7" cy="210.5" r="2.3" fill="#006400"/>
<circle cx="1320.2" cy="214.2" r="2.3" fill="#006400"/>
<circle cx="1321.7" cy="218.0" r="2.3" fill="#006400"/>
<circle cx="1323.2" cy="221.7" r="2.3" fill="#006400"/>
<circle cx="1324.7" cy="225.4" r="2.3" fill="#006400"/>
<circle cx="1326.5" cy="229.0" r="2.3" fill="#006400"/>
<circle cx="1328.4" cy="232.5" r="2.3" fill="#006400"/>
<circle cx="1330.2" cy="236.0" r="2.3" fill="#006400"/>
<circle cx="1331.6" cy="239.8" r="2.3" fill="#006400"/>
<circle cx="1332.6" cy="243.6" r="2.3" fill="#006400"/>
<circle cx="1333.3" cy="247.6" r="2.3" fill="#006400"/>
<circle cx="1333.7" cy="251.6" r="2.3" fill="#006400"/>
<circle cx="1333.9" cy="255.6" r="2.3" fill="#006400"/>
<circle cx="1334.0" cy="259.6" r="2.3" fill="#006400"/>
<circle cx="1334.0" cy="263.6" r="2.3" fill="#006400"/>
<circle cx="1333.9" cy="267.6" r="2.3" fill="#006400"/>
<circle cx="1333.8" cy="271.6" r="2.3" fill="#006400"/>
<circle cx="1333.6" cy="275.5" r="2.3" fill="#006400"/>
<circle cx="1333.4" cy="279.5" r="2.3" fill="#006400"/>
<circle cx="1333.2" cy="283.5" r="2.3" fill="#006400"/>
<circle cx="1332.8" cy="287.5" r="2.3" fill="#006400"/>
<circle cx="1332.4" cy="291.5" r="2.3" fill="#006400"/>
<circle cx="1331.7" cy="295.4" r="2.3" fill="#006400"/>
<circle cx="1330.8" cy="299.3" r="2.3" fill="#006400"/>
<circle cx="1329.8" cy="303.2" r="2.3" fill="#006400"/>
<circle cx="1328.8" cy="307.1" r="2.3" fill="#006400"/>
<circle cx="1327.8" cy="311.0" r="2.3" fill="#006400"/>
<polyline points="1107.0,311.0 1107.6,312.2 1108.4,313.9 1109.4,315.8 1110.5,318.0 1111.6,320.2 1112.8,322.3 1114.1,324.4 1115.4,326.7 1116.9,329.0 1118.4,331.3 1119.8,333.4 1121.3,335.2 1122.7,336.7 1124.1,338.0 1125.4,339.1 1126.8,340.1 1128.3,341.2 1129.9,342.3 1131.6,343.5 1133.5,344.7 1135.4,345.9 1137.3,347.1 1139.3,348.3 1141.2,349.4 1143.1,350.5 1144.9,351.5 1146.7,352.5 1148.6,353.4 1150.5,354.3 1152.6,355.1 1154.8,355.8 1157.2,356.5 1159.6,357.1 1162.1,357.7 1164.6,358.2 1166.9,358.8 1169.2,359.4 1171.4,360.0 1173.6,360.5 1175.8,361.1 1177.9,361.6 1180.0,362.0 1182.1,362.4 1184.0,362.7 1186.0,362.9 1188.0,363.2 1190.0,363.4 1192.0,363.6 1194.1,363.8 1196.3,364.0 1198.5,364.2 1200.7,364.3 1202.9,364.5 1205.0,364.6 1207.1,364.7 1209.2,364.7 1211.2,364.8 1213.3,364.8 1215.3,364.8 1217.4,364.8 1219.5,364.8 1221.5,364.8 1223.6,364.8 1225.6,364.7 1227.7,364.7 1229.8,364.6 1231.9,364.5 1234.1,364.3 1236.3,364.2 1238.5,364.0 1240.7,363.8 1242.8,363.6 1244.8,363.4 1246.8,363.2 1248.8,362.9 1250.8,362.7 1252.7,362.4 1254.8,362.0 1256.9,361.6 1259.0,361.1 1261.2,360.5 1263.4,360.0 1265.6,359.4 1267.9,358.8 1270.2,358.2 1272.7,357.7 1275.2,357.1 1277.6,356.5 1280.0,355.8 1282.2,355.1 1284.3,354.3 1286.2,353.4 1288.1,352.5 1289.9,351.5 1291.7,350.5 1293.6,349.4 1295.5,348.3 1297.5,347.1 1299.4,345.9 1301.3,344.7 1303.2,343.5 1304.9,342.3 1306.5,341.2 1308.0,340.1 1309.4,339.1 1310.7,338.0 1312.1,336.7 1313.5,335.2 1315.0,333.4 1316.4,331.3 1317.9,329.0 1319.4,326.7 1320.7,324.4 1322.0,322.3 1323.2,320.2 1324.3,318.0 1325.4,315.8 1326.4,313.9 1327.2,312.2 1327.8,311.0" fill="none" stroke="#006400" stroke-width="1.6" stroke-linejoin="round" stroke-linecap="round"/>
<circle cx="1107.0" cy="311.0" r="2.3" fill="#006400"/>
<circle cx="1110.5" cy="318.0" r="2.3" fill="#006400"/>
<circle cx="1114.3" cy="324.8" r="2.3" fill="#006400"/>
<circle cx="1118.4" cy="331.4" r="2.3" fill="#006400"/>
<circle cx="1123.4" cy="337.4" r="2.3" fill="#006400"/>
<circle cx="1129.6" cy="342.1" r="2.3" fill="#006400"/>
<circle cx="1136.1" cy="346.4" r="2.3" fill="#006400"/>
<circle cx="1142.8" cy="350.3" r="2.3" fill="#006400"/>
<circle cx="1149.8" cy="353.9" r="2.3" fill="#006400"/>
<circle cx="1157.1" cy="356.5" r="2.3" fill="#006400"/>
<circle cx="1164.7" cy="358.3" r="2.3" fill="#006400"/>
<circle cx="1172.3" cy="360.2" r="2.3" fill="#006400"/>
<circle cx="1179.9" cy="362.0" r="2.3" fill="#006400"/>
<circle cx="1187.6" cy="363.1" r="2.3" fill="#006400"/>
<circle cx="1195.3" cy="363.9" r="2.3" fill="#006400"/>
<circle cx="1203.1" cy="364.5" r="2.3" fill="#006400"/>
<circle cx="1210.9" cy="364.8" r="2.3" fill="#006400"/>
<circle cx="1218.7" cy="364.8" r="2.3" fill="#006400"/>
<circle cx="1226.5" cy="364.7" r="2.3" fill="#006400"/>
<circle cx="1234.3" cy="364.3" r="2.3" fill="#006400"/>
<circle cx="1242.1" cy="363.7" r="2.3" fill="#006400"/>
<circle cx="1249.8" cy="362.8" r="2.3" fill="#006400"/>
<circle cx="1257.5" cy="361.4" r="2.3" fill="#006400"/>
<circle cx="1265.1" cy="359.5" r="2.3" fill="#006400"/>
<circle cx="1272.6" cy="357.7" r="2.3" fill="#006400"/>
<circle cx="1280.2" cy="355.8" r="2.3" fill="#006400"/>
<circle cx="1287.4" cy="352.8" r="2.3" fill="#006400"/>
<circle cx="1294.2" cy="349.0" r="2.3" fill="#006400"/>
<circle cx="1300.9" cy="345.0" r="2.3" fill="#006400"/>
<circle cx="1307.3" cy="340.6" r="2.3" fill="#006400"/>
<circle cx="1313.2" cy="335.5" r="2.3" fill="#006400"/>
<circle cx="1317.8" cy="329.2" r="2.3" fill="#006400"/>
<circle cx="1321.9" cy="322.5" r="2.3" fill="#006400"/>
<circle cx="1325.5" cy="315.7" r="2.3" fill="#006400"/>
<polyline points="1101.4,231.0 1101.4,262.6" fill="none" stroke="#006400" stroke-width="4.4" stroke-linejoin="round" stroke-linecap="round"/>
<polyline points="1206.1,97.6 1206.1,98.0 1206.0,98.6 1206.0,99.3 1205.9,100.1 1205.7,100.8 1205.5,101.5 1205.2,102.1 1204.8,102.7 1204.4,103.3 1203.9,103.9 1203.4,104.5 1203.0,105.0 1202.6,105.5 1202.1,105.9 1201.7,106.3 1201.2,106.7 1200.8,107.1 1200.5,107.5 1200.2,108.0 1200.0,108.6 1199.8,109.2 1199.7,109.7 1199.6,110.2 1199.5,110.5" fill="none" stroke="#006400" stroke-width="4.0" stroke-linejoin="round" stroke-linecap="round"/>
<circle cx="1206.1" cy="97.6" r="2.7" fill="#006400"/>
<circle cx="1201.5" cy="104.8" r="2.7" fill="#006400"/>
<circle cx="1203.5" cy="106.5" r="2.7" fill="#006400"/>
<circle cx="1199.8" cy="115.6" r="2.7" fill="#006400"/>
<polyline points="1207.9,128.6 1207.9,127.5 1207.9,125.9 1207.9,124.0 1207.9,122.1 1207.9,120.4 1207.9,119.0 1207.9,118.0 1207.9,117.3 1207.9,116.7 1207.9,116.2 1208.0,115.6 1208.2,115.0 1208.5,114.2 1208.8,113.4 1209.1,112.6 1209.6,111.7 1210.0,111.0 1210.5,110.3 1211.0,109.7 1211.6,109.2 1212.2,108.8 1212.8,108.4 1213.4,108.1 1214.0,107.8 1214.6,107.6 1215.3,107.4 1215.9,107.2 1216.5,107.1 1217.0,107.1 1217.4,107.0" fill="none" stroke="#006400" stroke-width="2.2" stroke-linejoin="round" stroke-linecap="round"/>
<polyline points="1208.2,119.0 1208.2,118.6 1208.1,118.0 1208.1,117.3 1208.0,116.5 1208.1,115.8 1208.2,115.0 1208.4,114.2 1208.8,113.4 1209.1,112.6 1209.6,111.7 1210.0,111.0 1210.5,110.3 1211.0,109.7 1211.6,109.2 1212.2,108.8 1212.8,108.4 1213.4,108.1 1214.0,107.8 1214.6,107.6 1215.3,107.4 1215.9,107.2 1216.5,107.1 1217.0,107.1 1217.4,107.0" fill="none" stroke="#006400" stroke-width="4.0" stroke-linejoin="round" stroke-linecap="round"/>
<circle cx="1207.9" cy="128.6" r="2.4" fill="#006400"/>
<polyline points="1333.4,231.0 1333.4,262.6" fill="none" stroke="#006400" stroke-width="4.4" stroke-linejoin="round" stroke-linecap="round"/>
<polyline points="1228.7,97.6 1228.7,98.0 1228.8,98.6 1228.8,99.3 1228.9,100.1 1229.1,100.8 1229.3,101.5 1229.6,102.1 1230.0,102.7 1230.4,103.3 1230.9,103.9 1231.4,104.5 1231.8,105.0 1232.2,105.5 1232.7,105.9 1233.1,106.3 1233.6,106.7 1234.0,107.1 1234.3,107.5 1234.6,108.0 1234.8,108.6 1235.0,109.2 1235.1,109.7 1235.2,110.2 1235.3,110.5" fill="none" stroke="#006400" stroke-width="4.0" stroke-linejoin="round" stroke-linecap="round"/>
<circle cx="1228.7" cy="97.6" r="2.7" fill="#006400"/>
<circle cx="1233.3" cy="104.8" r="2.7" fill="#006400"/>
<circle cx="1231.3" cy="106.5" r="2.7" fill="#006400"/>
<circle cx="1235.0" cy="115.6" r="2.7" fill="#006400"/>
<polyline points="1226.9,128.6 1226.9,127.5 1226.9,125.9 1226.9,124.0 1226.9,122.1 1226.9,120.4 1226.9,119.0 1226.9,118.0 1226.9,117.3 1226.9,116.7 1226.9,116.2 1226.8,115.6 1226.6,115.0 1226.3,114.2 1226.0,113.4 1225.7,112.6 1225.2,111.7 1224.8,111.0 1224.3,110.3 1223.8,109.7 1223.2,109.2 1222.6,108.8 1222.0,108.4 1221.4,108.1 1220.8,107.8 1220.2,107.6 1219.5,107.4 1218.9,107.2 1218.3,107.1 1217.8,107.1 1217.4,107.0" fill="none" stroke="#006400" stroke-width="2.2" stroke-linejoin="round" stroke-linecap="round"/>
<polyline points="1226.6,119.0 1226.6,118.6 1226.7,118.0 1226.7,117.3 1226.8,116.5 1226.7,115.8 1226.6,115.0 1226.4,114.2 1226.0,113.4 1225.7,112.6 1225.2,111.7 1224.8,111.0 1224.3,110.3 1223.8,109.7 1223.2,109.2 1222.6,108.8 1222.0,108.4 1221.4,108.1 1220.8,107.8 1220.2,107.6 1219.5,107.4 1218.9,107.2 1218.3,107.1 1217.8,107.1 1217.4,107.0" fill="none" stroke="#006400" stroke-width="4.0" stroke-linejoin="round" stroke-linecap="round"/>
<circle cx="1226.9" cy="128.6" r="2.4" fill="#006400"/>
<polyline points="1217.3,190.7 1215.4,191.0 1212.9,191.3 1209.8,191.7 1206.5,192.2 1203.2,192.8 1200.0,193.5 1196.9,194.4 1193.6,195.5 1190.4,196.6 1187.1,197.9 1184.1,199.1 1181.4,200.4 1179.0,201.6 1177.0,202.7 1175.1,203.8 1173.3,205.1 1171.6,206.6 1169.7,208.5 1167.8,210.8 1165.9,213.5 1164.0,216.5 1162.1,219.6 1160.2,222.7 1158.3,225.6 1156.3,228.5 1154.3,231.4 1152.3,234.3 1150.4,237.1 1148.6,239.9 1147.0,242.6 1145.7,245.1 1144.5,247.5 1143.5,249.7 1142.6,252.0 1141.8,254.4 1141.2,256.9 1140.7,259.6 1140.3,262.4 1140.1,265.3 1139.9,268.2 1139.8,271.1 1139.8,274.0 1139.8,276.9 1140.0,279.8 1140.1,282.7 1140.4,285.5 1140.8,288.3 1141.2,291.0 1141.7,293.6 1142.3,296.1 1143.0,298.5 1143.8,300.8 1144.6,303.1 1145.5,305.3 1146.5,307.4 1147.6,309.4 1148.8,311.4 1150.0,313.2 1151.3,315.0 1152.6,316.7 1153.9,318.3 1155.4,319.9 1156.8,321.3 1158.3,322.7 1159.8,324.0 1161.2,325.2 1162.6,326.3 1164.0,327.3 1165.3,328.3 1166.7,329.2 1168.2,330.0 1169.7,330.9 1171.3,331.7 1172.9,332.6 1174.6,333.4 1176.4,334.1 1178.2,334.8 1180.0,335.5 1181.9,336.1 1183.8,336.7 1185.8,337.2 1187.9,337.7 1189.9,338.2 1192.0,338.6 1194.1,339.0 1196.3,339.3 1198.5,339.6 1200.7,339.8 1202.9,340.0 1205.0,340.2 1207.1,340.3 1209.1,340.4 1211.2,340.5 1213.2,340.5 1215.2,340.5 1217.3,340.5 1219.4,340.5 1221.4,340.5 1223.5,340.5 1225.6,340.4 1227.7,340.3 1229.8,340.2 1231.9,340.0 1234.1,339.8 1236.3,339.6 1238.5,339.3 1240.7,339.0 1242.8,338.6 1244.9,338.2 1246.9,337.7 1249.0,337.2 1251.0,336.7 1252.9,336.1 1254.8,335.5 1256.6,334.8 1258.4,334.1 1260.2,333.4 1261.9,332.6 1263.5,331.7 1265.1,330.9 1266.6,330.0 1268.1,329.2 1269.5,328.3 1270.8,327.3 1272.2,326.3 1273.6,325.2 1275.0,324.0 1276.5,322.7 1278.0,321.3 1279.4,319.9 1280.9,318.3 1282.2,316.7 1283.5,315.0 1284.8,313.2 1286.0,311.4 1287.2,309.4 1288.3,307.4 1289.3,305.3 1290.2,303.1 1291.0,300.8 1291.8,298.5 1292.5,296.1 1293.1,293.6 1293.6,291.0 1294.0,288.3 1294.4,285.5 1294.7,282.7 1294.8,279.8 1295.0,276.9 1295.0,274.0 1295.0,271.1 1294.9,268.2 1294.8,265.3 1294.5,262.4 1294.1,259.6 1293.6,256.9 1293.0,254.4 1292.2,252.0 1291.3,249.7 1290.3,247.5 1289.1,245.1 1287.8,242.6 1286.2,239.9 1284.4,237.1 1282.5,234.3 1280.5,231.4 1278.5,228.5 1276.5,225.6 1274.6,222.7 1272.7,219.6 1270.8,216.5 1268.9,213.5 1267.0,210.8 1265.1,208.5 1263.2,206.6 1261.5,205.1 1259.7,203.8 1257.8,202.7 1255.8,201.6 1253.4,200.4 1250.7,199.1 1247.7,197.9 1244.5,196.6 1241.2,195.5 1237.9,194.4 1234.8,193.5 1231.6,192.8 1228.3,192.2 1225.0,191.7 1221.9,191.3 1219.4,191.0 1217.5,190.7" fill="none" stroke="#ff0000" stroke-width="3.9" stroke-linejoin="round" stroke-linecap="round"/>
<circle cx="1217.3" cy="190.7" r="2.3" fill="#ff0000"/>
<circle cx="1214.3" cy="191.1" r="2.3" fill="#ff0000"/>
<circle cx="1211.3" cy="191.5" r="2.3" fill="#ff0000"/>
<circle cx="1208.4" cy="191.9" r="2.3" fill="#ff0000"/>
<circle cx="1205.4" cy="192.4" r="2.3" fill="#ff0000"/>
<circle cx="1202.5" cy="192.9" r="2.3" fill="#ff0000"/>
<circle cx="1199.6" cy="193.6" r="2.3" fill="#ff0000"/>
<circle cx="1196.7" cy="194.5" r="2.3" fill="#ff0000"/>
<circle cx="1193.8" cy="195.4" r="2.3" fill="#ff0000"/>
<circle cx="1191.0" cy="196.4" r="2.3" fill="#ff0000"/>
<circle cx="1188.2" cy="197.5" r="2.3" fill="#ff0000"/>
<circle cx="1185.4" cy="198.6" r="2.3" fill="#ff0000"/>
<circle cx="1182.7" cy="199.8" r="2.3" fill="#ff0000"/>
<circle cx="1180.0" cy="201.1" r="2.3" fill="#ff0000"/>
<circle cx="1177.3" cy="202.5" r="2.3" fill="#ff0000"/>
<circle cx="1174.8" cy="204.1" r="2.3" fill="#ff0000"/>
<circle cx="1172.4" cy="205.9" r="2.3" fill="#ff0000"/>
<circle cx="1170.2" cy="208.0" r="2.3" fill="#ff0000"/>
<circle cx="1168.3" cy="210.2" r="2.3" fill="#ff0000"/>
<circle cx="1166.5" cy="212.7" r="2.3" fill="#ff0000"/>
<circle cx="1164.8" cy="215.2" r="2.3" fill="#ff0000"/>
<circle cx="1163.2" cy="217.7" r="2.3" fill="#ff0000"/>
<circle cx="1161.7" cy="220.3" r="2.3" fill="#ff0000"/>
<circle cx="1160.1" cy="222.8" r="2.3" fill="#ff0000"/>
<circle cx="1158.5" cy="225.3" r="2.3" fill="#ff0000"/>
<circle cx="1156.8" cy="227.8" r="2.3" fill="#ff0000"/>
<circle cx="1155.1" cy="230.3" r="2.3" fill="#ff0000"/>
<circle cx="1153.4" cy="232.7" r="2.3" fill="#ff0000"/>
<circle cx="1151.7" cy="235.2" r="2.3" fill="#ff0000"/>
<circle cx="1150.0" cy="237.7" r="2.3" fill="#ff0000"/>
<circle cx="1148.4" cy="240.2" r="2.3" fill="#ff0000"/>
<circle cx="1146.9" cy="242.8" r="2.3" fill="#ff0000"/>
<circle cx="1145.5" cy="245.5" r="2.3" fill="#ff0000"/>
<circle cx="1144.2" cy="248.2" r="2.3" fill="#ff0000"/>
<circle cx="1143.0" cy="251.0" r="2.3" fill="#ff0000"/>
<circle cx="1142.0" cy="253.8" r="2.3" fill="#ff0000"/>
<circle cx="1141.3" cy="256.7" r="2.3" fill="#ff0000"/>
<circle cx="1140.7" cy="259.6" r="2.3" fill="#ff0000"/>
<circle cx="1140.3" cy="262.6" r="2.3" fill="#ff0000"/>
<circle cx="1140.0" cy="265.6" r="2.3" fill="#ff0000"/>
<circle cx="1139.9" cy="268.6" r="2.3" fill="#ff0000"/>
<circle cx="1139.8" cy="271.6" r="2.3" fill="#ff0000"/>
<circle cx="1139.8" cy="274.6" r="2.3" fill="#ff0000"/>
<circle cx="1139.9" cy="277.6" r="2.3" fill="#ff0000"/>
<circle cx="1140.0" cy="280.6" r="2.3" fill="#ff0000"/>
<circle cx="1140.2" cy="283.6" r="2.3" fill="#ff0000"/>
<circle cx="1140.5" cy="286.6" r="2.3" fill="#ff0000"/>
<circle cx="1141.0" cy="289.5" r="2.3" fill="#ff0000"/>
<circle cx="1141.5" cy="292.5" r="2.3" fill="#ff0000"/>
<circle cx="1142.2" cy="295.4" r="2.3" fill="#ff0000"/>
<circle cx="1142.9" cy="298.3" r="2.3" fill="#ff0000"/>
<circle cx="1143.9" cy="301.2" r="2.3" fill="#ff0000"/>
<circle cx="1144.9" cy="304.0" r="2.3" fill="#ff0000"/>
<circle cx="1146.2" cy="306.7" r="2.3" fill="#ff0000"/>
<circle cx="1147.6" cy="309.3" r="2.3" fill="#ff0000"/>
<circle cx="1149.1" cy="311.9" r="2.3" fill="#ff0000"/>
<circle cx="1150.8" cy="314.4" r="2.3" fill="#ff0000"/>
<circle cx="1152.7" cy="316.8" r="2.3" fill="#ff0000"/>
<circle cx="1154.6" cy="319.0" r="2.3" fill="#ff0000"/>
<circle cx="1156.7" cy="321.2" r="2.3" fill="#ff0000"/>
<circle cx="1158.9" cy="323.2" r="2.3" fill="#ff0000"/>
<circle cx="1161.2" cy="325.2" r="2.3" fill="#ff0000"/>
<circle cx="1163.5" cy="327.0" r="2.3" fill="#ff0000"/>
<circle cx="1166.0" cy="328.7" r="2.3" fill="#ff0000"/>
<circle cx="1168.6" cy="330.3" r="2.3" fill="#ff0000"/>
<circle cx="1171.2" cy="331.7" r="2.3" fill="#ff0000"/>
<circle cx="1173.9" cy="333.0" r="2.3" fill="#ff0000"/>
<circle cx="1176.7" cy="334.2" r="2.3" fill="#ff0000"/>
<circle cx="1179.5" cy="335.3" r="2.3" fill="#ff0000"/>
<circle cx="1182.3" cy="336.2" r="2.3" fill="#ff0000"/>
<circle cx="1185.2" cy="337.1" r="2.3" fill="#ff0000"/>
<circle cx="1188.1" cy="337.8" r="2.3" fill="#ff0000"/>
<circle cx="1191.0" cy="338.4" r="2.3" fill="#ff0000"/>
<circle cx="1194.0" cy="338.9" r="2.3" fill="#ff0000"/>
<circle cx="1197.0" cy="339.4" r="2.3" fill="#ff0000"/>
<circle cx="1199.9" cy="339.7" r="2.3" fill="#ff0000"/>
<circle cx="1202.9" cy="340.0" r="2.3" fill="#ff0000"/>
<circle cx="1205.9" cy="340.3" r="2.3" fill="#ff0000"/>
<circle cx="1208.9" cy="340.4" r="2.3" fill="#ff0000"/>
<circle cx="1211.9" cy="340.5" r="2.3" fill="#ff0000"/>
<circle cx="1214.9" cy="340.5" r="2.3" fill="#ff0000"/>
<circle cx="1217.9" cy="340.5" r="2.3" fill="#ff0000"/>
<circle cx="1220.9" cy="340.5" r="2.3" fill="#ff0000"/>
<circle cx="1223.9" cy="340.5" r="2.3" fill="#ff0000"/>
<circle cx="1226.9" cy="340.4" r="2.3" fill="#ff0000"/>
<circle cx="1229.9" cy="340.2" r="2.3" fill="#ff0000"/>
<circle cx="1232.9" cy="339.9" r="2.3" fill="#ff0000"/>
<circle cx="1235.9" cy="339.6" r="2.3" fill="#ff0000"/>
<circle cx="1238.8" cy="339.2" r="2.3" fill="#ff0000"/>
<circle cx="1241.8" cy="338.8" r="2.3" fill="#ff0000"/>
<circle cx="1244.8" cy="338.2" r="2.3" fill="#ff0000"/>
<circle cx="1247.7" cy="337.6" r="2.3" fill="#ff0000"/>
<circle cx="1250.6" cy="336.8" r="2.3" fill="#ff0000"/>
<circle cx="1253.5" cy="335.9" r="2.3" fill="#ff0000"/>
<circle cx="1256.3" cy="335.0" r="2.3" fill="#ff0000"/>
<circle cx="1259.1" cy="333.8" r="2.3" fill="#ff0000"/>
<circle cx="1261.8" cy="332.6" r="2.3" fill="#ff0000"/>
<circle cx="1264.5" cy="331.2" r="2.3" fill="#ff0000"/>
<circle cx="1267.1" cy="329.8" r="2.3" fill="#ff0000"/>
<circle cx="1269.6" cy="328.2" r="2.3" fill="#ff0000"/>
<circle cx="1272.1" cy="326.4" r="2.3" fill="#ff0000"/>
<circle cx="1274.4" cy="324.5" r="2.3" fill="#ff0000"/>
<circle cx="1276.7" cy="322.5" r="2.3" fill="#ff0000"/>
<circle cx="1278.8" cy="320.5" r="2.3" fill="#ff0000"/>
<circle cx="1280.9" cy="318.3" r="2.3" fill="#ff0000"/>
<circle cx="1282.8" cy="316.0" r="2.3" fill="#ff0000"/>
<circle cx="1284.5" cy="313.5" r="2.3" fill="#ff0000"/>
<circle cx="1286.2" cy="311.0" r="2.3" fill="#ff0000"/>
<circle cx="1287.7" cy="308.5" r="2.3" fill="#ff0000"/>
<circle cx="1289.1" cy="305.8" r="2.3" fill="#ff0000"/>
<circle cx="1290.2" cy="303.0" r="2.3" fill="#ff0000"/>
<circle cx="1291.3" cy="300.2" r="2.3" fill="#ff0000"/>
<circle cx="1292.1" cy="297.3" r="2.3" fill="#ff0000"/>
<circle cx="1292.9" cy="294.4" r="2.3" fill="#ff0000"/>
<circle cx="1293.5" cy="291.5" r="2.3" fill="#ff0000"/>
<circle cx="1294.0" cy="288.5" r="2.3" fill="#ff0000"/>
<circle cx="1294.4" cy="285.6" r="2.3" fill="#ff0000"/>
<circle cx="1294.7" cy="282.6" r="2.3" fill="#ff0000"/>
<circle cx="1294.9" cy="279.6" r="2.3" fill="#ff0000"/>
<circle cx="1295.0" cy="276.6" r="2.3" fill="#ff0000"/>
<circle cx="1295.0" cy="273.6" r="2.3" fill="#ff0000"/>
<circle cx="1295.0" cy="270.6" r="2.3" fill="#ff0000"/>
<circle cx="1294.9" cy="267.6" r="2.3" fill="#ff0000"/>
<circle cx="1294.7" cy="264.6" r="2.3" fill="#ff0000"/>
<circle cx="1294.4" cy="261.6" r="2.3" fill="#ff0000"/>
<circle cx="1293.9" cy="258.6" r="2.3" fill="#ff0000"/>
<circle cx="1293.3" cy="255.7" r="2.3" fill="#ff0000"/>
<circle cx="1292.5" cy="252.8" r="2.3" fill="#ff0000"/>
<circle cx="1291.4" cy="250.0" r="2.3" fill="#ff0000"/>
<circle cx="1290.2" cy="247.3" r="2.3" fill="#ff0000"/>
<circle cx="1288.9" cy="244.6" r="2.3" fill="#ff0000"/>
<circle cx="1287.4" cy="242.0" r="2.3" fill="#ff0000"/>
<circle cx="1285.9" cy="239.4" r="2.3" fill="#ff0000"/>
<circle cx="1284.3" cy="236.9" r="2.3" fill="#ff0000"/>
<circle cx="1282.6" cy="234.4" r="2.3" fill="#ff0000"/>
<circle cx="1280.9" cy="231.9" r="2.3" fill="#ff0000"/>
<circle cx="1279.1" cy="229.5" r="2.3" fill="#ff0000"/>
<circle cx="1277.4" cy="227.0" r="2.3" fill="#ff0000"/>
<circle cx="1275.8" cy="224.5" r="2.3" fill="#ff0000"/>
<circle cx="1274.2" cy="222.0" r="2.3" fill="#ff0000"/>
<circle cx="1272.6" cy="219.4" r="2.3" fill="#ff0000"/>
<circle cx="1271.0" cy="216.8" r="2.3" fill="#ff0000"/>
<circle cx="1269.4" cy="214.3" r="2.3" fill="#ff0000"/>
<circle cx="1267.7" cy="211.8" r="2.3" fill="#ff0000"/>
<circle cx="1265.9" cy="209.5" r="2.3" fill="#ff0000"/>
<circle cx="1263.9" cy="207.3" r="2.3" fill="#ff0000"/>
<circle cx="1261.7" cy="205.2" r="2.3" fill="#ff0000"/>
<circle cx="1259.2" cy="203.5" r="2.3" fill="#ff0000"/>
<circle cx="1256.6" cy="202.0" r="2.3" fill="#ff0000"/>
<circle cx="1253.9" cy="200.7" r="2.3" fill="#ff0000"/>
<circle cx="1251.2" cy="199.4" r="2.3" fill="#ff0000"/>
<circle cx="1248.5" cy="198.2" r="2.3" fill="#ff0000"/>
<circle cx="1245.7" cy="197.1" r="2.3" fill="#ff0000"/>
<circle cx="1242.9" cy="196.1" r="2.3" fill="#ff0000"/>
<circle cx="1240.0" cy="195.1" r="2.3" fill="#ff0000"/>
<circle cx="1237.2" cy="194.2" r="2.3" fill="#ff0000"/>
<circle cx="1234.3" cy="193.4" r="2.3" fill="#ff0000"/>
<circle cx="1231.3" cy="192.7" r="2.3" fill="#ff0000"/>
<circle cx="1228.4" cy="192.2" r="2.3" fill="#ff0000"/>
<circle cx="1225.4" cy="191.7" r="2.3" fill="#ff0000"/>
<circle cx="1222.4" cy="191.3" r="2.3" fill="#ff0000"/>
<circle cx="1219.5" cy="191.0" r="2.3" fill="#ff0000"/>
<polyline points="1180.6,198.5 1180.6,210.0" fill="none" stroke="#ff0000" stroke-width="4.6" stroke-linejoin="round" stroke-linecap="round"/>
<polyline points="1253.8,198.5 1253.8,210.0" fill="none" stroke="#ff0000" stroke-width="4.6" stroke-linejoin="round" stroke-linecap="round"/>
<polyline points="1459.2,563.7 1459.2,563.3 1459.2,562.7 1459.2,562.1 1459.2,561.3 1459.3,560.3 1459.4,559.3 1459.6,558.1 1459.8,556.6 1460.0,555.0 1460.2,553.4 1460.5,551.8 1460.7,550.4 1460.9,549.1 1461.1,547.9 1461.4,546.8 1461.6,545.7 1461.8,544.6 1462.0,543.5 1462.2,542.4 1462.4,541.3 1462.6,540.2 1462.8,539.1 1463.0,538.0 1463.2,536.9 1463.4,535.8 1463.6,534.6 1463.8,533.4 1464.0,532.3 1464.3,531.1 1464.5,530.0 1464.7,528.9 1465.0,527.8 1465.2,526.8 1465.5,525.7 1465.7,524.7 1466.0,523.6 1466.3,522.5 1466.6,521.5 1466.9,520.4 1467.2,519.4 1467.5,518.3 1467.8,517.3 1468.1,516.3 1468.4,515.3 1468.7,514.3 1469.0,513.3 1469.3,512.3 1469.6,511.4 1469.9,510.5 1470.2,509.6 1470.5,508.7 1470.9,507.8 1471.2,506.9 1471.6,506.0 1472.0,505.1 1472.4,504.2 1472.8,503.3 1473.3,502.4 1473.7,501.6 1474.2,500.7 1474.7,499.9 1475.2,499.0 1475.8,498.2 1476.3,497.4 1476.8,496.6 1477.3,495.8 1477.7,495.0 1478.1,494.3 1478.5,493.6 1478.9,492.8 1479.3,492.1 1479.8,491.3 1480.3,490.6 1480.8,490.0 1481.3,489.4 1481.9,488.7 1482.6,487.6 1483.6,486.2 1484.7,484.2 1485.8,481.9 1487.1,479.2 1488.7,476.4 1490.6,473.6 1493.1,470.9 1496.1,468.3 1499.6,465.6 1503.5,462.9 1507.7,460.2 1512.1,457.7 1516.8,455.3 1521.8,453.0 1527.1,450.8 1532.8,448.8 1538.5,446.8 1544.3,445.0 1549.9,443.3 1555.4,441.8 1560.9,440.6 1566.4,439.5 1572.0,438.4 1577.5,437.5 1583.0,436.5 1588.9,435.5 1595.3,434.5 1601.7,433.5 1607.6,432.7 1612.6,431.9 1616.2,431.4" fill="none" stroke="#ff0000" stroke-width="1.6" stroke-linejoin="round" stroke-linecap="round"/>
<circle cx="1459.4" cy="559.3" r="2.5" fill="#ff0000"/>
<circle cx="1460.7" cy="550.4" r="2.5" fill="#ff0000"/>
<circle cx="1462.0" cy="543.5" r="2.5" fill="#ff0000"/>
<circle cx="1463.2" cy="536.9" r="2.5" fill="#ff0000"/>
<circle cx="1464.5" cy="530.0" r="2.5" fill="#ff0000"/>
<circle cx="1466.0" cy="523.6" r="2.5" fill="#ff0000"/>
<circle cx="1467.8" cy="517.3" r="2.5" fill="#ff0000"/>
<circle cx="1469.6" cy="511.4" r="2.5" fill="#ff0000"/>
<circle cx="1471.6" cy="506.0" r="2.5" fill="#ff0000"/>
<circle cx="1474.2" cy="500.7" r="2.5" fill="#ff0000"/>
<circle cx="1477.3" cy="495.8" r="2.5" fill="#ff0000"/>
<circle cx="1479.8" cy="491.3" r="2.5" fill="#ff0000"/>
<circle cx="1483.6" cy="486.2" r="2.5" fill="#ff0000"/>
<circle cx="1493.1" cy="470.9" r="2.5" fill="#ff0000"/>
<circle cx="1516.8" cy="455.3" r="2.5" fill="#ff0000"/>
<circle cx="1549.9" cy="443.3" r="2.5" fill="#ff0000"/>
<circle cx="1583.0" cy="436.5" r="2.5" fill="#ff0000"/>
<circle cx="1616.2" cy="431.4" r="2.5" fill="#ff0000"/>
<polyline points="1468.0,563.7 1468.0,563.2 1468.0,562.6 1468.0,561.9 1468.1,560.9 1468.2,559.7 1468.3,558.0 1468.5,555.8 1468.8,553.1 1469.0,550.1 1469.4,546.9 1469.7,543.8 1470.1,541.0 1470.5,538.4 1470.9,535.9 1471.4,533.4 1471.9,531.0 1472.4,528.6 1472.9,526.2 1473.5,523.8 1474.1,521.5 1474.7,519.1 1475.3,516.8 1476.0,514.6 1476.7,512.4 1477.4,510.3 1478.2,508.2 1479.0,506.1 1479.8,504.1 1480.7,502.1 1481.6,500.2 1482.6,498.3 1483.5,496.4 1484.6,494.6 1485.7,492.8 1486.8,491.0 1488.0,489.2 1489.1,487.5 1490.2,485.9 1491.3,484.3 1492.6,482.6 1494.3,480.8 1496.4,478.8 1499.0,476.5 1501.8,473.8 1505.1,471.1 1508.6,468.3 1512.5,465.6 1516.8,463.0 1521.6,460.6 1526.9,458.2 1532.6,455.8 1538.4,453.6 1544.2,451.6 1549.9,449.7 1555.4,448.1 1560.9,446.7 1566.4,445.4 1572.0,444.2 1577.5,443.2 1583.0,442.1 1588.9,441.0 1595.3,440.0 1601.7,439.1 1607.6,438.2 1612.6,437.5 1616.2,437.0" fill="none" stroke="#006400" stroke-width="1.6" stroke-linejoin="round" stroke-linecap="round"/>
<circle cx="1468.3" cy="558.0" r="2.5" fill="#006400"/>
<circle cx="1470.1" cy="541.0" r="2.5" fill="#006400"/>
<circle cx="1472.9" cy="526.2" r="2.5" fill="#006400"/>
<circle cx="1476.7" cy="512.4" r="2.5" fill="#006400"/>
<circle cx="1481.6" cy="500.2" r="2.5" fill="#006400"/>
<circle cx="1488.0" cy="489.2" r="2.5" fill="#006400"/>
<circle cx="1496.4" cy="478.8" r="2.5" fill="#006400"/>
<circle cx="1516.8" cy="463.0" r="2.5" fill="#006400"/>
<circle cx="1549.9" cy="449.7" r="2.5" fill="#006400"/>
<circle cx="1583.0" cy="442.1" r="2.5" fill="#006400"/>
<circle cx="1616.2" cy="437.0" r="2.5" fill="#006400"/>
<circle cx="1217.4" cy="107.5" r="2.6" fill="#006400"/>
</g>
<line x1="103.70" y1="563.80" x2="103.70" y2="556.80" stroke="#000" stroke-width="1.5"/>
<line x1="103.70" y1="35.20" x2="103.70" y2="42.20" stroke="#000" stroke-width="1.5"/>
<line x1="264.10" y1="563.80" x2="264.10" y2="556.80" stroke="#000" stroke-width="1.5"/>
<line x1="264.10" y1="35.20" x2="264.10" y2="42.20" stroke="#000" stroke-width="1.5"/>
<line x1="424.50" y1="563.80" x2="424.50" y2="556.80" stroke="#000" stroke-width="1.5"/>
<line x1="424.50" y1="35.20" x2="424.50" y2="42.20" stroke="#000" stroke-width="1.5"/>
<line x1="585.10" y1="563.80" x2="585.10" y2="556.80" stroke="#000" stroke-width="1.5"/>
<line x1="585.10" y1="35.20" x2="585.10" y2="42.20" stroke="#000" stroke-width="1.5"/>
<line x1="745.40" y1="563.80" x2="745.40" y2="556.80" stroke="#000" stroke-width="1.5"/>
<line x1="745.40" y1="35.20" x2="745.40" y2="42.20" stroke="#000" stroke-width="1.5"/>
<line x1="905.50" y1="563.80" x2="905.50" y2="556.80" stroke="#000" stroke-width="1.5"/>
<line x1="905.50" y1="35.20" x2="905.50" y2="42.20" stroke="#000" stroke-width="1.5"/>
<line x1="80.50" y1="63.30" x2="87.50" y2="63.30" stroke="#000" stroke-width="1.5"/>
<line x1="905.80" y1="63.30" x2="898.80" y2="63.30" stroke="#000" stroke-width="1.5"/>
<line x1="80.50" y1="99.80" x2="87.50" y2="99.80" stroke="#000" stroke-width="1.5"/>
<line x1="905.80" y1="99.80" x2="898.80" y2="99.80" stroke="#000" stroke-width="1.5"/>
<line x1="80.50" y1="136.50" x2="87.50" y2="136.50" stroke="#000" stroke-width="1.5"/>
<line x1="905.80" y1="136.50" x2="898.80" y2="136.50" stroke="#000" stroke-width="1.5"/>
<line x1="80.50" y1="173.20" x2="87.50" y2="173.20" stroke="#000" stroke-width="1.5"/>
<line x1="905.80" y1="173.20" x2="898.80" y2="173.20" stroke="#000" stroke-width="1.5"/>
<line x1="80.50" y1="210.00" x2="87.50" y2="210.00" stroke="#000" stroke-width="1.5"/>
<line x1="905.80" y1="210.00" x2="898.80" y2="210.00" stroke="#000" stroke-width="1.5"/>
<line x1="80.50" y1="246.70" x2="87.50" y2="246.70" stroke="#000" stroke-width="1.5"/>
<line x1="905.80" y1="246.70" x2="898.80" y2="246.70" stroke="#000" stroke-width="1.5"/>
<line x1="80.50" y1="283.50" x2="87.50" y2="283.50" stroke="#000" stroke-width="1.5"/>
<line x1="905.80" y1="283.50" x2="898.80" y2="283.50" stroke="#000" stroke-width="1.5"/>
<line x1="80.50" y1="317.60" x2="87.50" y2="317.60" stroke="#000" stroke-width="1.5"/>
<line x1="905.80" y1="317.60" x2="898.80" y2="317.60" stroke="#000" stroke-width="1.5"/>
<line x1="80.50" y1="358.50" x2="87.50" y2="358.50" stroke="#000" stroke-width="1.5"/>
<line x1="905.80" y1="358.50" x2="898.80" y2="358.50" stroke="#000" stroke-width="1.5"/>
<line x1="80.50" y1="404.40" x2="87.50" y2="404.40" stroke="#000" stroke-width="1.5"/>
<line x1="905.80" y1="404.40" x2="898.80" y2="404.40" stroke="#000" stroke-width="1.5"/>
<line x1="80.50" y1="451.90" x2="87.50" y2="451.90" stroke="#000" stroke-width="1.5"/>
<line x1="905.80" y1="451.90" x2="898.80" y2="451.90" stroke="#000" stroke-width="1.5"/>
<line x1="80.50" y1="492.00" x2="87.50" y2="492.00" stroke="#000" stroke-width="1.5"/>
<line x1="905.80" y1="492.00" x2="898.80" y2="492.00" stroke="#000" stroke-width="1.5"/>
<line x1="80.50" y1="527.50" x2="87.50" y2="527.50" stroke="#000" stroke-width="1.5"/>
<line x1="905.80" y1="527.50" x2="898.80" y2="527.50" stroke="#000" stroke-width="1.5"/>
<line x1="80.50" y1="563.80" x2="87.50" y2="563.80" stroke="#000" stroke-width="1.5"/>
<line x1="905.80" y1="563.80" x2="898.80" y2="563.80" stroke="#000" stroke-width="1.5"/>
<rect x="80.5" y="35.2" width="825.30" height="528.60" fill="none" stroke="#000" stroke-width="1.6"/>
<line x1="1030.50" y1="563.70" x2="1030.50" y2="556.70" stroke="#000" stroke-width="1.5"/>
<line x1="1030.50" y1="35.20" x2="1030.50" y2="42.20" stroke="#000" stroke-width="1.5"/>
<line x1="1217.60" y1="563.70" x2="1217.60" y2="556.70" stroke="#000" stroke-width="1.5"/>
<line x1="1217.60" y1="35.20" x2="1217.60" y2="42.20" stroke="#000" stroke-width="1.5"/>
<line x1="1404.80" y1="563.70" x2="1404.80" y2="556.70" stroke="#000" stroke-width="1.5"/>
<line x1="1404.80" y1="35.20" x2="1404.80" y2="42.20" stroke="#000" stroke-width="1.5"/>
<line x1="1591.40" y1="563.70" x2="1591.40" y2="556.70" stroke="#000" stroke-width="1.5"/>
<line x1="1591.40" y1="35.20" x2="1591.40" y2="42.20" stroke="#000" stroke-width="1.5"/>
<line x1="1030.60" y1="88.20" x2="1037.60" y2="88.20" stroke="#000" stroke-width="1.5"/>
<line x1="1616.30" y1="88.20" x2="1609.30" y2="88.20" stroke="#000" stroke-width="1.5"/>
<line x1="1030.60" y1="156.50" x2="1037.60" y2="156.50" stroke="#000" stroke-width="1.5"/>
<line x1="1616.30" y1="156.50" x2="1609.30" y2="156.50" stroke="#000" stroke-width="1.5"/>
<line x1="1030.60" y1="224.90" x2="1037.60" y2="224.90" stroke="#000" stroke-width="1.5"/>
<line x1="1616.30" y1="224.90" x2="1609.30" y2="224.90" stroke="#000" stroke-width="1.5"/>
<line x1="1030.60" y1="293.30" x2="1037.60" y2="293.30" stroke="#000" stroke-width="1.5"/>
<line x1="1616.30" y1="293.30" x2="1609.30" y2="293.30" stroke="#000" stroke-width="1.5"/>
<line x1="1030.60" y1="361.40" x2="1037.60" y2="361.40" stroke="#000" stroke-width="1.5"/>
<line x1="1616.30" y1="361.40" x2="1609.30" y2="361.40" stroke="#000" stroke-width="1.5"/>
<line x1="1030.60" y1="429.80" x2="1037.60" y2="429.80" stroke="#000" stroke-width="1.5"/>
<line x1="1616.30" y1="429.80" x2="1609.30" y2="429.80" stroke="#000" stroke-width="1.5"/>
<line x1="1030.60" y1="498.00" x2="1037.60" y2="498.00" stroke="#000" stroke-width="1.5"/>
<line x1="1616.30" y1="498.00" x2="1609.30" y2="498.00" stroke="#000" stroke-width="1.5"/>
<line x1="1030.60" y1="563.70" x2="1037.60" y2="563.70" stroke="#000" stroke-width="1.5"/>
<line x1="1616.30" y1="563.70" x2="1609.30" y2="563.70" stroke="#000" stroke-width="1.5"/>
<rect x="1030.6" y="35.2" width="585.70" height="528.50" fill="none" stroke="#000" stroke-width="1.6"/>
<text x="103.7" y="607.8" font-size="33" text-anchor="middle" fill="#000">−π/4</text>
<text x="267.9" y="607.8" font-size="33" text-anchor="middle" fill="#000">0</text>
<text x="424.5" y="607.8" font-size="33" text-anchor="middle" fill="#000">π/4</text>
<text x="585.1" y="607.8" font-size="33" text-anchor="middle" fill="#000">π/2</text>
<text x="745.4" y="607.8" font-size="33" text-anchor="middle" fill="#000">3π/4</text>
<text x="905.5" y="607.8" font-size="33" text-anchor="middle" fill="#000">π</text>
<text x="60.5" y="73.8" font-size="33" text-anchor="end" fill="#000">64</text>
<text x="60.5" y="110.3" font-size="33" text-anchor="end" fill="#000">32</text>
<text x="60.5" y="147.0" font-size="33" text-anchor="end" fill="#000">16</text>
<text x="60.5" y="183.7" font-size="33" text-anchor="end" fill="#000">8</text>
<text x="60.5" y="220.5" font-size="33" text-anchor="end" fill="#000">4</text>
<text x="60.5" y="257.2" font-size="33" text-anchor="end" fill="#000">2</text>
<text x="60.5" y="294.0" font-size="33" text-anchor="end" fill="#000">1</text>
<text x="60.5" y="328.1" font-size="33" text-anchor="end" fill="#000">0.5</text>
<text x="60.5" y="369.0" font-size="33" text-anchor="end" fill="#000">0.2</text>
<text x="60.5" y="414.9" font-size="33" text-anchor="end" fill="#000">0</text>
<text x="60.5" y="462.4" font-size="33" text-anchor="end" fill="#000">-0.2</text>
<text x="60.5" y="502.5" font-size="33" text-anchor="end" fill="#000">-0.5</text>
<text x="60.5" y="538.0" font-size="33" text-anchor="end" fill="#000">-1</text>
<text x="60.5" y="574.3" font-size="33" text-anchor="end" fill="#000">-2</text>
<text x="1030.5" y="607.3" font-size="33" text-anchor="middle" fill="#000">−π/32</text>
<text x="1221.4" y="607.3" font-size="33" text-anchor="middle" fill="#000">0</text>
<text x="1404.8" y="607.3" font-size="33" text-anchor="middle" fill="#000">π/32</text>
<text x="1591.4" y="607.3" font-size="33" text-anchor="middle" fill="#000">π/16</text>
<text x="1009.5" y="98.7" font-size="33" text-anchor="end" fill="#000">64</text>
<text x="1009.5" y="167.0" font-size="33" text-anchor="end" fill="#000">32</text>
<text x="1009.5" y="235.4" font-size="33" text-anchor="end" fill="#000">16</text>
<text x="1009.5" y="303.8" font-size="33" text-anchor="end" fill="#000">8</text>
<text x="1009.5" y="371.9" font-size="33" text-anchor="end" fill="#000">4</text>
<text x="1009.5" y="440.3" font-size="33" text-anchor="end" fill="#000">2</text>
<text x="1009.5" y="508.5" font-size="33" text-anchor="end" fill="#000">1</text>
<text x="1009.5" y="574.2" font-size="33" text-anchor="end" fill="#000">0.5</text>
<text x="54.0" y="33.5" font-size="38" text-anchor="middle" fill="#000" font-style="italic">κ</text>
<text x="1004.5" y="33.5" font-size="38" text-anchor="middle" fill="#000" font-style="italic">κ</text>
<text x="267.0" y="650.0" font-size="41" text-anchor="middle" fill="#000" font-style="italic">β</text>
<text x="1217.0" y="650.0" font-size="41" text-anchor="middle" fill="#000" font-style="italic">β</text>
<text x="764.5" y="84.5" font-size="32.3" text-anchor="end" fill="#a0a0a0">from contour plot</text>
<text x="636.0" y="123.5" font-size="36" font-style="italic" fill="#0000ff">ε</text>
<text x="663.0" y="123.5" font-size="36" fill="#0000ff" textLength="28.0" lengthAdjust="spacingAndGlyphs">=</text>
<text x="765.0" y="123.5" font-size="36" fill="#0000ff" text-anchor="end">0.24</text>
<text x="544.5" y="160.4" font-size="36" font-style="italic" fill="#006400">ε</text>
<text x="571.5" y="160.4" font-size="36" fill="#006400" textLength="28.9" lengthAdjust="spacingAndGlyphs">=</text>
<text x="765.0" y="160.4" font-size="36" fill="#006400" text-anchor="end">0.2683904</text>
<text x="600.0" y="197.0" font-size="36" font-style="italic" fill="#ff8000">ε</text>
<text x="627.0" y="197.0" font-size="36" fill="#ff8000" textLength="28.0" lengthAdjust="spacingAndGlyphs">=</text>
<text x="765.0" y="197.0" font-size="36" fill="#ff8000" text-anchor="end">0.2705</text>
<text x="618.0" y="233.0" font-size="36" font-style="italic" fill="#ff0000">ε</text>
<text x="645.0" y="233.0" font-size="36" fill="#ff0000" textLength="28.0" lengthAdjust="spacingAndGlyphs">=</text>
<text x="765.0" y="233.0" font-size="36" fill="#ff0000" text-anchor="end">0.274</text>
<line x1="784.30" y1="74.00" x2="868.90" y2="74.00" stroke="#a0a0a0" stroke-width="1.5"/>
<line x1="784.30" y1="110.60" x2="868.90" y2="110.60" stroke="#0000ff" stroke-width="1.5"/>
<circle cx="826.9" cy="110.6" r="2.6" fill="#0000ff"/>
<line x1="784.30" y1="146.90" x2="868.90" y2="146.90" stroke="#006400" stroke-width="1.5"/>
<circle cx="826.9" cy="146.9" r="2.6" fill="#006400"/>
<line x1="784.30" y1="183.50" x2="868.90" y2="183.50" stroke="#ff8000" stroke-width="1.5"/>
<circle cx="826.9" cy="183.5" r="2.6" fill="#ff8000"/>
<line x1="784.30" y1="219.50" x2="868.90" y2="219.50" stroke="#ff0000" stroke-width="1.5"/>
<circle cx="826.9" cy="219.5" r="2.6" fill="#ff0000"/>
<circle cx="443.9" cy="197.3" r="2.8" fill="#ff0000"/>
<circle cx="443.9" cy="197.3" r="5.0" fill="none" stroke="#222" stroke-width="1.8"/>
<text x="451.0" y="188.9" font-size="33" text-anchor="start" fill="#000">B</text>
<circle cx="294.1" cy="549.8" r="3.0" fill="#006400"/>
<circle cx="294.1" cy="549.8" r="5.0" fill="none" stroke="#222" stroke-width="1.8"/>
<text x="306.0" y="550.5" font-size="33" text-anchor="start" fill="#000">C</text>
<line x1="360.90" y1="465.70" x2="414.50" y2="262.00" stroke="#a0a0a0" stroke-width="1.6"/>
<polygon points="416.2,250.9 410.2,270.5 414.6,267 419.6,271.5" fill="#a0a0a0"/>
<text x="397.5" y="437.4" font-size="36" font-style="italic" fill="#a0a0a0">ε</text>
<text x="423.7" y="437.4" font-size="36" fill="#a0a0a0" textLength="28.3" lengthAdjust="spacingAndGlyphs">=</text>
<text x="479.5" y="437.4" font-size="36" fill="#a0a0a0" text-anchor="end">0</text>
<text x="319.9" y="490.3" font-size="36" font-style="italic" fill="#a0a0a0">ε</text>
<text x="346.7" y="490.3" font-size="36" fill="#a0a0a0" textLength="28.3" lengthAdjust="spacingAndGlyphs">=</text>
<text x="447.8" y="490.3" font-size="36" fill="#a0a0a0" text-anchor="end">0.26</text>
<circle cx="1217.5" cy="108.8" r="4.4" fill="none" stroke="#222" stroke-width="1.8"/>
<text x="1218.0" y="85.4" font-size="33" text-anchor="middle" fill="#000">A</text>
<circle cx="1422.8" cy="245.5" r="2.5" fill="#0000ff"/>
<circle cx="1422.8" cy="245.5" r="4.6" fill="none" stroke="#222" stroke-width="1.8"/>
<text x="1424.5" y="227.5" font-size="33" text-anchor="middle" fill="#000">D</text>
<circle cx="1424.6" cy="524.1" r="2.5" fill="#0000ff"/>
<circle cx="1424.6" cy="524.1" r="4.6" fill="none" stroke="#222" stroke-width="1.8"/>
<text x="1392.5" y="545.3" font-size="33" text-anchor="start" fill="#000">E</text>
<text x="1285.1" y="129.5" font-size="36.5" font-style="italic" fill="#006400">ε</text>
<text x="1312.5" y="129.5" font-size="36.5" fill="#006400" textLength="28.1" lengthAdjust="spacingAndGlyphs">=</text>
<text x="1504.6" y="129.5" font-size="36.5" fill="#006400" text-anchor="end">0.2683904</text>
<text x="1442.5" y="328.1" font-size="36" font-style="italic" fill="#0000ff">ε</text>
<text x="1470.2" y="328.1" font-size="36" fill="#0000ff" textLength="29.4" lengthAdjust="spacingAndGlyphs">=</text>
<text x="1589.7" y="328.1" font-size="36" fill="#0000ff" text-anchor="end">0.024</text>
<text x="1151.3" y="291.8" font-size="32.5" font-style="italic" fill="#ff0000">ε</text>
<text x="1175.5" y="291.8" font-size="32.5" fill="#ff0000" textLength="25.6" lengthAdjust="spacingAndGlyphs">=</text>
<text x="1283.6" y="291.8" font-size="32.5" fill="#ff0000" text-anchor="end">0.274</text>
<text x="1161.1" y="434.0" font-size="31" font-style="italic" fill="#a0a0a0">ε</text>
<text x="1184.0" y="434.0" font-size="31" fill="#a0a0a0" textLength="25.4" lengthAdjust="spacingAndGlyphs">=</text>
<text x="1273.3" y="434.0" font-size="31" fill="#a0a0a0" text-anchor="end">0.24</text>
<text x="1161.1" y="489.0" font-size="31" font-style="italic" fill="#a0a0a0">ε</text>
<text x="1184.0" y="489.0" font-size="31" fill="#a0a0a0" textLength="25.4" lengthAdjust="spacingAndGlyphs">=</text>
<text x="1256.5" y="489.0" font-size="31" fill="#a0a0a0" text-anchor="end">0.2</text>
<text x="1161.1" y="538.3" font-size="31" font-style="italic" fill="#a0a0a0">ε</text>
<text x="1184.0" y="538.3" font-size="31" fill="#a0a0a0" textLength="25.4" lengthAdjust="spacingAndGlyphs">=</text>
<text x="1273.3" y="538.3" font-size="31" fill="#a0a0a0" text-anchor="end">0.16</text>
</svg></body></html>
